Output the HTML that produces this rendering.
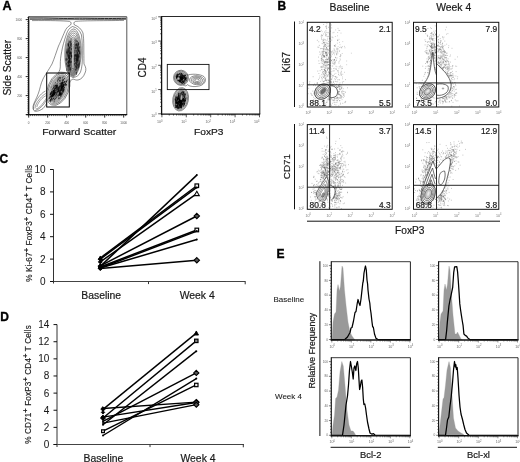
<!DOCTYPE html>
<html><head><meta charset="utf-8"><title>Figure</title>
<style>html,body{margin:0;padding:0;background:#fff;}svg{display:block;filter:grayscale(1);}</style></head>
<body>
<svg width="520" height="462" viewBox="0 0 520 462" font-family="Liberation Sans, sans-serif">
<rect width="520" height="462" fill="#fff"/>
<text x="2.5" y="9.7" font-size="12.6" font-weight="bold" stroke="#000" stroke-width="0.35" text-anchor="start" fill="#000" >A</text>
<text x="277.6" y="9.6" font-size="12" font-weight="bold" stroke="#000" stroke-width="0.35" text-anchor="start" fill="#000" >B</text>
<text x="-0.5" y="163.2" font-size="12" font-weight="bold" stroke="#000" stroke-width="0.35" text-anchor="start" fill="#000" >C</text>
<text x="0.3" y="321.2" font-size="12" font-weight="bold" stroke="#000" stroke-width="0.35" text-anchor="start" fill="#000" >D</text>
<text x="276.6" y="258.2" font-size="12" font-weight="bold" stroke="#000" stroke-width="0.35" text-anchor="start" fill="#000" >E</text>
<path d="M30 18.1 C50 17.8 60 18.7 72 18.4 C85 17.9 100 18.9 126 18.3" fill="none" stroke="#111" stroke-width="0.9" />
<path d="M30 19.5 C45 19.2 60 19.9 73 19.6 C90 19.2 105 19.9 126 19.4" fill="none" stroke="#333" stroke-width="0.7" />
<path d="M32 20.6 C50 20.4 64 20.8 69.5 21.4 C71.5 22.2 71.5 23.5 70.5 25 M74.5 25 C73.5 23.5 73.5 22.2 75.5 21.4 C82 20.6 100 20.8 124 20.4" fill="none" stroke="#222" stroke-width="0.5" />
<path d="M70.5 25 C67 27 66 29 65 31 C62 38 60 43 58.5 46 C56 53 54.5 58 52 64 C48 71 45 75 43 79 C40.5 84 40 89 38.5 93 C36.5 99 33.5 103 33 106.5 C32.8 110 34 111.5 36 111.3 C39 111 41 110 43 108.5 C45 106.5 46 104.5 47 102.5" fill="none" stroke="#222" stroke-width="0.5" />
<path d="M74.5 25 C78 26 81.5 29 83 33 C84 40 83.8 47 83.8 52 C84 57 83.8 60 84 64 C86 67 86.5 70 85 73 C83.5 77 81 79.5 78 80 C76 80.3 74.5 79.5 73 79 C71 80 70 81 69.5 83" fill="none" stroke="#222" stroke-width="0.5" />
<path d="M72.5 26.5 C69 28 67.5 31 66.5 34 C64 41 62.5 47 61.7 51.5 C60.6 57 60.3 61 60.3 64 C60.5 68 60 71 58 73 M72.5 26.5 C77 27.5 80 30.5 81.5 35 C82.5 42 82.3 50 82.3 55 C82.5 62 82 68 80.5 72 C79 75.5 76 77.5 72.5 77.5" fill="none" stroke="#222" stroke-width="0.5" />
<ellipse cx="73" cy="53" rx="8.2" ry="24" transform="rotate(1.5 73 53)" fill="none" stroke="#222" stroke-width="0.5" opacity="1"/>
<ellipse cx="73" cy="53.5" rx="7.3" ry="22.5" transform="rotate(1.5 73 53.5)" fill="none" stroke="#222" stroke-width="0.5" opacity="1"/>
<ellipse cx="73" cy="54" rx="6.4" ry="21" transform="rotate(1.5 73 54)" fill="none" stroke="#222" stroke-width="0.5" opacity="1"/>
<ellipse cx="73" cy="54.5" rx="5.5" ry="19.5" transform="rotate(1.5 73 54.5)" fill="none" stroke="#222" stroke-width="0.5" opacity="1"/>
<ellipse cx="73" cy="55" rx="4.6" ry="18" transform="rotate(1.5 73 55)" fill="none" stroke="#222" stroke-width="0.5" opacity="1"/>
<ellipse cx="73" cy="55.5" rx="3.7" ry="16.3" transform="rotate(1.5 73 55.5)" fill="none" stroke="#222" stroke-width="0.5" opacity="1"/>
<ellipse cx="73" cy="56" rx="2.8" ry="14.5" transform="rotate(1.5 73 56)" fill="none" stroke="#222" stroke-width="0.5" opacity="1"/>
<ellipse cx="73" cy="56.5" rx="1.9" ry="12.5" transform="rotate(1.5 73 56.5)" fill="none" stroke="#222" stroke-width="0.5" opacity="1"/>
<ellipse cx="73" cy="57" rx="1.0" ry="10.5" transform="rotate(1.5 73 57)" fill="none" stroke="#222" stroke-width="0.5" opacity="1"/>
<ellipse cx="73" cy="57" rx="7.2" ry="19" transform="rotate(1.5 73 57)" fill="#555" stroke="#444" stroke-width="0.3" opacity="0.45"/>
<path d="M68.7 60.7l-0.1 1.4M70.6 61.8l-0.1 1.0M70.7 60.7l-0.0 0.5M68.8 57.9l-0.0 0.5M66.5 63.6l-0.0 0.6M68.9 68.8l-0.1 1.9M68.1 53.0l-0.1 2.0M71.5 61.5l-0.0 0.9M69.4 59.7l-0.0 0.9M69.8 52.7l-0.1 1.3M68.6 50.8l-0.1 1.3M69.5 57.8l-0.0 0.7M69.0 48.8l-0.0 0.9M68.0 52.1l-0.0 0.9M70.5 44.6l-0.0 0.8M67.8 52.2l-0.1 1.8M69.4 50.4l-0.1 2.0M70.0 63.0l-0.1 1.6M69.8 65.2l-0.0 0.5M68.6 44.8l-0.1 1.3M70.4 52.0l-0.1 1.5M67.9 50.6l-0.1 1.1M71.5 43.3l-0.1 1.2M69.1 55.2l-0.1 1.5M68.1 43.4l-0.1 1.7M68.5 65.1l-0.1 1.5M70.8 58.4l-0.0 0.7M69.4 58.4l-0.1 1.6M69.7 61.4l-0.1 1.0M69.6 55.2l-0.1 1.1M66.8 52.1l-0.1 1.7M70.2 52.1l-0.1 1.1M66.8 68.9l-0.1 1.9M69.5 60.8l-0.0 0.8M68.9 66.8l-0.1 1.3M69.2 57.3l-0.1 1.1M67.4 65.0l-0.1 1.9M69.0 47.4l-0.1 1.4M69.1 55.3l-0.1 1.8M70.5 41.9l-0.1 1.7M67.7 62.3l-0.0 0.6M69.0 55.4l-0.0 0.5M69.2 61.2l-0.0 0.9M69.2 57.0l-0.0 0.6M70.1 61.8l-0.0 0.4M71.1 48.7l-0.0 0.6M68.8 64.7l-0.1 1.0M70.5 67.6l-0.1 2.0M67.4 59.0l-0.0 0.5M70.0 61.6l-0.0 0.8M69.8 53.2l-0.0 0.4M71.1 53.9l-0.0 0.6M69.0 56.7l-0.1 1.2M72.0 55.1l-0.1 1.5M68.7 65.0l-0.0 0.7M70.0 46.5l-0.1 1.6M68.5 61.8l-0.1 1.7M71.9 55.7l-0.1 1.7M70.8 44.7l-0.0 0.8M67.9 56.1l-0.0 0.4M70.3 58.2l-0.0 0.8M69.0 41.6l-0.1 1.1M72.3 50.7l-0.1 1.9M68.3 61.1l-0.0 0.8M69.2 61.9l-0.1 1.4M71.8 48.4l-0.1 1.2M68.4 45.2l-0.0 0.5M68.4 43.5l-0.1 1.6M69.7 47.2l-0.0 0.7M69.9 49.8l-0.1 1.7M70.8 55.6l-0.1 1.0M71.7 52.7l-0.0 0.7M69.6 60.0l-0.1 1.8M69.6 53.2l-0.1 1.7M71.5 55.6l-0.1 1.0M68.6 55.9l-0.0 0.4M71.4 54.9l-0.1 1.2M70.9 53.4l-0.1 1.8M69.9 52.3l-0.0 0.8M68.6 62.6l-0.1 1.3M68.6 65.8l-0.0 0.6M70.6 52.9l-0.1 1.1M67.2 49.0l-0.1 1.1M71.0 52.1l-0.1 1.2M69.1 56.9l-0.1 1.1M69.2 57.2l-0.1 1.7M69.6 65.6l-0.1 1.6M68.1 54.4l-0.1 1.2M67.1 52.0l-0.0 0.6M68.3 54.7l-0.0 0.8M70.0 46.9l-0.1 1.3M70.2 41.2l-0.1 1.1M68.2 50.3l-0.1 1.2M69.1 48.2l-0.1 1.3M66.2 59.1l-0.1 1.5M71.8 45.7l-0.0 0.8M66.8 50.9l-0.1 1.7M69.5 59.7l-0.1 1.1M70.0 59.6l-0.0 0.5M68.6 44.6l-0.1 1.8M69.9 68.0l-0.1 1.5M70.3 69.2l-0.1 1.9M68.9 73.1l-0.1 1.0M66.2 58.2l-0.1 1.7M69.6 64.7l-0.1 1.2M68.5 61.2l-0.0 0.9M69.2 56.1l-0.1 1.3M69.0 57.3l-0.0 0.9M68.3 49.7l-0.0 0.5M71.8 55.8l-0.1 2.0" stroke="#111" stroke-width="0.8" stroke-linecap="round" fill="none" opacity="0.7"/>
<path d="M77.8 59.9l-0.0 0.5M77.3 49.7l-0.0 0.6M74.4 63.4l-0.0 1.7M76.9 60.1l-0.0 1.9M75.0 50.4l-0.0 0.5M79.0 60.6l-0.0 1.1M79.4 63.2l-0.0 1.4M77.2 53.5l-0.0 1.8M79.3 62.2l-0.0 1.1M75.8 65.2l-0.0 1.9M76.9 59.6l-0.0 1.2M77.0 59.2l-0.0 0.7M77.8 57.6l-0.0 0.9M75.9 69.0l-0.0 0.9M76.2 56.0l-0.0 1.0M78.0 56.7l-0.0 0.4M77.0 45.2l-0.0 0.7M74.1 58.5l-0.0 0.6M77.8 47.8l-0.0 1.2M77.9 48.7l-0.0 1.2M76.1 40.5l-0.0 0.9M78.3 44.6l-0.0 1.4M75.8 60.3l-0.0 0.5M77.3 57.7l-0.0 1.6M76.9 60.4l-0.0 0.5M78.7 43.2l-0.0 1.5M76.7 61.7l-0.0 0.9M76.3 57.1l-0.0 1.1M76.5 72.4l-0.0 2.0M76.0 54.3l-0.0 1.9M76.4 63.3l-0.0 0.4M75.6 62.6l-0.0 1.2M77.4 65.7l-0.0 0.4M76.9 58.8l-0.0 1.0M77.2 56.3l-0.0 0.9M77.0 67.3l-0.0 1.2M77.2 43.6l-0.0 1.5M78.2 50.2l-0.0 0.9M77.7 55.6l-0.0 1.6M76.8 54.7l-0.0 1.7M78.8 48.5l-0.0 1.6M77.3 52.4l-0.0 1.2M74.4 55.5l-0.0 1.7M78.1 45.9l-0.0 1.8M76.3 44.2l-0.0 0.8M77.6 56.7l-0.0 1.0M78.9 65.1l-0.0 1.3M75.7 47.4l-0.0 1.5M77.0 56.0l-0.0 1.7M77.2 45.8l-0.0 1.3M76.8 54.1l-0.0 1.6M77.0 58.4l-0.0 0.8M77.0 50.9l-0.0 1.6M78.8 54.5l-0.0 1.0M74.7 57.6l-0.0 1.6M75.5 47.8l-0.0 0.5M77.6 60.9l-0.0 1.6M76.2 66.5l-0.0 0.4M78.0 58.4l-0.0 1.5M76.4 44.1l-0.0 0.9M75.3 55.0l-0.0 1.1M78.8 66.6l-0.0 0.7M79.9 53.8l-0.0 0.4M74.4 59.7l-0.0 1.9M75.9 58.0l-0.0 0.7M77.9 54.2l-0.0 1.3M78.0 64.2l-0.0 1.9M78.5 66.9l-0.0 1.2M78.9 47.5l-0.0 0.8M78.5 50.1l-0.0 0.4M78.8 56.3l-0.0 1.1M76.7 59.7l-0.0 1.0M75.7 69.6l-0.0 0.4M77.3 41.1l-0.0 0.6M79.2 50.2l-0.0 1.8M76.5 63.8l-0.0 1.0M79.0 55.9l-0.0 1.0M75.9 58.8l-0.0 0.5M78.9 64.9l-0.0 0.9M78.0 53.7l-0.0 0.8M76.1 55.6l-0.0 1.0M79.7 51.8l-0.0 1.7M75.3 44.3l-0.0 1.9M74.8 51.9l-0.0 0.5M77.0 46.7l-0.0 1.6M76.4 50.7l-0.0 0.5M77.6 54.4l-0.0 1.2M76.2 61.7l-0.0 1.6M78.1 55.1l-0.0 1.4M76.2 66.4l-0.0 1.0M77.3 59.8l-0.0 0.7M78.6 50.4l-0.0 0.8M79.7 46.6l-0.0 1.1M77.5 59.8l-0.0 0.5M76.7 58.4l-0.0 0.8M76.7 67.1l-0.0 1.8M77.1 47.2l-0.0 1.1M75.6 54.7l-0.0 0.9M78.0 58.5l-0.0 1.9M78.1 63.2l-0.0 1.4M77.7 51.9l-0.0 0.8M76.9 64.5l-0.0 1.1M79.6 51.8l-0.0 1.8M77.2 56.2l-0.0 1.5M78.5 50.1l-0.0 1.3M78.5 56.0l-0.0 1.9M78.5 42.6l-0.0 2.0M76.9 59.2l-0.0 0.6M74.8 54.2l-0.0 1.9M76.8 43.9l-0.0 1.6" stroke="#111" stroke-width="0.8" stroke-linecap="round" fill="none" opacity="0.7"/>
<path d="M73 38 C72.6 48 72.8 58 73 68" fill="none" stroke="#e8e8e8" stroke-width="0.9" />
<ellipse cx="58.3" cy="88.7" rx="10.5" ry="17.5" transform="rotate(22 58.3 88.7)" fill="none" stroke="#222" stroke-width="0.5" opacity="1"/>
<ellipse cx="58.3" cy="88.7" rx="9.3" ry="16.2" transform="rotate(22 58.3 88.7)" fill="none" stroke="#222" stroke-width="0.5" opacity="1"/>
<ellipse cx="58.3" cy="88.7" rx="8.2" ry="15" transform="rotate(22 58.3 88.7)" fill="#666" stroke="#333" stroke-width="0.4" opacity="0.55"/>
<path d="M51.9 93.2l-0.2 0.4M55.2 90.0l-0.7 1.7M54.4 89.7l-0.2 0.6M51.7 98.1l-0.6 1.4M54.0 93.3l-0.5 1.1M53.7 90.1l-0.3 0.7M54.0 92.3l-0.3 0.8M50.8 93.4l-0.5 1.3M56.3 89.9l-0.3 0.7M51.0 100.2l-0.6 1.4M53.8 92.9l-0.4 1.1M54.9 88.6l-0.3 0.8M55.4 85.6l-0.3 0.7M54.8 93.7l-0.4 1.0M54.5 90.2l-0.6 1.6M55.8 87.7l-0.3 0.7M55.3 92.3l-0.6 1.6M53.1 95.1l-0.6 1.5M50.4 99.5l-0.4 1.1M53.4 95.0l-0.4 1.0M55.4 85.5l-0.2 0.6M52.7 93.8l-0.7 1.8M53.9 93.2l-0.2 0.5M50.3 96.3l-0.7 1.7M56.9 84.6l-0.7 1.8M52.9 94.3l-0.7 1.8M54.2 91.9l-0.5 1.4M52.1 94.7l-0.3 0.9M54.0 92.6l-0.3 0.8M50.0 98.0l-0.2 0.6M55.0 92.3l-0.4 0.9M57.4 86.8l-0.4 1.0M54.9 94.4l-0.4 0.9M55.1 91.7l-0.4 0.9M54.3 92.2l-0.4 1.0M57.2 86.8l-0.2 0.4M54.2 92.8l-0.7 1.7M51.4 98.8l-0.7 1.7M52.5 94.8l-0.7 1.8M54.1 90.3l-0.6 1.4M52.5 95.1l-0.2 0.4M57.1 85.2l-0.5 1.3M54.2 92.4l-0.3 0.7M51.0 92.7l-0.7 1.8M52.6 94.0l-0.4 1.0M51.4 91.8l-0.3 0.6M57.1 86.8l-0.6 1.6M56.4 87.2l-0.3 0.9M52.1 95.6l-0.6 1.5M54.2 93.9l-0.6 1.5M53.6 93.5l-0.2 0.4M53.4 91.0l-0.7 1.8M58.0 88.1l-0.3 0.8M54.1 93.3l-0.4 1.1M55.3 88.2l-0.3 0.7M51.3 94.6l-0.6 1.4M56.8 85.5l-0.5 1.4M53.7 97.9l-0.3 0.8M53.5 90.5l-0.6 1.5M53.2 95.2l-0.3 0.7M53.0 98.9l-0.5 1.2M52.0 95.7l-0.7 1.8M53.2 92.0l-0.6 1.6M55.1 85.5l-0.2 0.5M51.4 92.7l-0.7 1.6M54.3 92.2l-0.3 0.8M53.9 94.3l-0.7 1.8M53.4 87.9l-0.4 0.9M56.3 89.7l-0.3 0.8M57.4 85.2l-0.2 0.5" stroke="#000" stroke-width="0.9" stroke-linecap="round" fill="none" opacity="0.8"/>
<path d="M62.3 82.2l-0.3 0.7M61.4 87.9l-0.3 0.7M59.9 92.8l-0.5 1.3M62.4 86.8l-0.3 0.9M63.1 84.0l-0.3 0.8M60.2 94.3l-0.5 1.2M62.7 87.3l-0.4 1.0M61.4 83.7l-0.2 0.5M61.2 93.0l-0.4 1.0M60.7 90.1l-0.7 1.8M59.5 91.8l-0.4 0.9M58.6 89.8l-0.7 1.8M61.1 88.3l-0.6 1.5M62.4 86.7l-0.7 1.7M58.8 89.3l-0.4 1.0M65.1 83.5l-0.2 0.6M64.1 87.8l-0.5 1.3M63.2 85.8l-0.5 1.3M59.7 90.0l-0.2 0.6M59.9 91.9l-0.7 1.7M62.4 90.5l-0.6 1.6M63.6 86.3l-0.2 0.6M66.4 84.4l-0.4 1.1M63.9 90.4l-0.4 0.9M65.6 83.5l-0.6 1.6M61.1 93.6l-0.3 0.7M58.5 90.3l-0.6 1.6M61.8 89.4l-0.4 1.0M61.3 85.4l-0.2 0.6M59.6 93.8l-0.7 1.7M63.7 88.8l-0.6 1.5M64.2 89.4l-0.2 0.5M62.4 82.4l-0.5 1.3M60.1 90.8l-0.5 1.2M59.4 88.8l-0.4 1.0M62.3 86.6l-0.5 1.3M61.4 86.3l-0.6 1.5M64.8 81.5l-0.3 0.6M61.9 86.6l-0.2 0.6M61.8 87.0l-0.4 1.0M62.3 86.3l-0.5 1.3M63.0 90.9l-0.6 1.5M62.2 86.3l-0.5 1.1M58.0 91.9l-0.2 0.6M67.2 80.0l-0.6 1.5M63.8 84.1l-0.7 1.8M59.5 85.8l-0.7 1.7M61.0 93.7l-0.7 1.8M63.0 88.7l-0.6 1.5M61.0 94.3l-0.3 0.8M63.6 84.6l-0.5 1.1M63.8 85.4l-0.3 0.8M61.3 85.9l-0.2 0.4M61.9 88.8l-0.7 1.8M64.5 78.3l-0.3 0.6M63.3 84.8l-0.5 1.2M62.9 82.9l-0.7 1.7M61.5 83.7l-0.7 1.7M62.5 93.0l-0.5 1.3M58.6 90.6l-0.3 0.8M64.5 86.9l-0.4 0.9M64.7 81.6l-0.3 0.6M62.9 85.5l-0.6 1.6M59.8 93.1l-0.7 1.8M62.1 82.3l-0.3 0.8M62.7 86.6l-0.2 0.6M62.7 82.7l-0.5 1.1M63.5 85.5l-0.3 0.7M62.6 86.0l-0.2 0.4M61.6 87.7l-0.4 0.9M60.3 92.7l-0.5 1.2M60.6 93.0l-0.4 1.1M61.6 93.8l-0.3 0.7M62.3 87.9l-0.5 1.3M66.4 81.6l-0.4 1.0M62.4 86.8l-0.5 1.3M61.9 84.4l-0.5 1.3M58.7 88.5l-0.6 1.5M59.1 95.1l-0.2 0.4M61.4 85.0l-0.3 0.7M63.6 90.2l-0.2 0.4M61.0 82.7l-0.2 0.6M60.7 92.8l-0.5 1.1M63.4 79.7l-0.3 0.6M60.7 89.8l-0.2 0.4" stroke="#000" stroke-width="0.9" stroke-linecap="round" fill="none" opacity="0.8"/>
<path d="M65.1 83.8l-0.5 1.2M63.8 91.4l-0.5 1.2M52.4 88.8l-0.4 0.9M57.6 90.8l-0.3 0.6M60.4 91.0l-0.5 1.2M60.5 77.6l-0.5 1.2M54.8 96.3l-0.3 0.9M62.1 81.8l-0.3 0.7M58.2 77.6l-0.2 0.6M58.6 88.5l-0.3 0.7M54.8 98.7l-0.6 1.4M60.3 83.6l-0.5 1.4M55.9 91.8l-0.6 1.4M57.8 80.5l-0.4 1.1M62.2 89.2l-0.5 1.3M60.7 77.5l-0.3 0.9M60.8 80.5l-0.3 0.7M56.0 97.4l-0.2 0.5M60.0 87.8l-0.2 0.4M60.1 98.0l-0.3 0.8M58.3 89.4l-0.2 0.4M60.0 79.9l-0.5 1.1M58.8 87.3l-0.4 1.0M51.4 95.3l-0.5 1.3M59.2 88.0l-0.5 1.3M66.1 84.7l-0.2 0.5M57.8 90.9l-0.2 0.4M65.0 81.3l-0.4 1.1M63.5 81.8l-0.3 0.7M58.7 90.2l-0.5 1.2M57.1 93.8l-0.3 0.8M60.2 90.1l-0.3 0.7M59.9 83.0l-0.3 0.7M62.6 88.6l-0.5 1.3M58.2 88.1l-0.3 0.8M51.8 90.7l-0.3 0.8M60.1 80.9l-0.2 0.6M59.5 87.6l-0.5 1.3M58.3 88.8l-0.2 0.6M63.7 76.6l-0.2 0.4M54.5 87.6l-0.5 1.3M57.1 95.8l-0.3 0.8M60.9 85.4l-0.6 1.4M56.5 92.1l-0.5 1.1M57.2 88.3l-0.4 1.1M61.0 95.6l-0.5 1.1M62.7 80.7l-0.3 0.8M54.4 91.1l-0.6 1.4M61.0 96.6l-0.2 0.4M57.2 93.1l-0.6 1.4M55.3 87.4l-0.5 1.4M56.0 95.5l-0.4 1.0M62.5 78.8l-0.4 1.1M55.1 92.2l-0.2 0.5M63.9 82.2l-0.5 1.2M57.6 95.0l-0.5 1.2M57.7 87.1l-0.4 0.9M60.9 86.7l-0.2 0.6M53.1 97.0l-0.5 1.3M58.2 91.4l-0.3 0.6M53.8 94.6l-0.2 0.5M56.3 91.3l-0.6 1.5M59.0 86.6l-0.6 1.4M59.3 93.2l-0.6 1.5M63.5 79.9l-0.3 0.9M56.5 97.5l-0.2 0.5M56.8 94.7l-0.2 0.4M51.5 93.1l-0.5 1.1M53.8 86.9l-0.4 0.9M58.4 96.3l-0.3 0.8M62.6 77.0l-0.3 0.8M55.5 82.4l-0.3 0.8M55.1 98.5l-0.5 1.4M62.8 79.7l-0.5 1.3M59.6 80.0l-0.4 0.9M53.4 96.0l-0.2 0.5M51.6 91.8l-0.5 1.2M58.0 85.1l-0.3 0.8M53.1 89.4l-0.3 0.8M59.8 77.0l-0.2 0.6M58.7 79.0l-0.3 0.8M51.6 86.9l-0.2 0.4M57.2 87.3l-0.5 1.2M63.0 87.4l-0.2 0.5M56.2 83.8l-0.5 1.2M54.0 86.2l-0.5 1.3M55.5 86.6l-0.6 1.4M55.9 98.1l-0.3 0.8M59.3 86.4l-0.6 1.5M57.5 89.5l-0.3 0.7M58.0 88.9l-0.3 0.8M52.2 91.5l-0.3 0.8M56.6 92.4l-0.5 1.2M63.0 87.4l-0.2 0.6M61.5 83.5l-0.2 0.6M58.9 97.6l-0.5 1.3M58.0 82.6l-0.4 1.0M54.4 101.1l-0.3 0.8M58.0 79.1l-0.5 1.3M55.5 88.7l-0.4 1.0M59.2 98.0l-0.3 0.8M61.1 85.7l-0.3 0.8M55.7 95.0l-0.2 0.6M63.2 90.9l-0.3 0.7M56.4 93.5l-0.4 0.9M52.7 90.8l-0.4 1.1M50.7 96.1l-0.5 1.3M62.0 94.6l-0.6 1.4M59.6 86.3l-0.5 1.3M58.3 88.3l-0.2 0.4M63.8 87.8l-0.3 0.6M58.8 90.7l-0.3 0.6M60.9 83.6l-0.2 0.5M65.1 84.6l-0.2 0.6M63.8 84.8l-0.5 1.2M59.4 77.6l-0.5 1.2M60.4 86.2l-0.5 1.1M54.0 84.8l-0.3 0.9M63.4 84.7l-0.3 0.7M57.4 91.3l-0.4 0.9" stroke="#111" stroke-width="0.7" stroke-linecap="round" fill="none" opacity="0.7"/>
<path d="M33.5 109.5 C33 106 35 102 38 98 C40 95 42.5 92.5 45.5 91 M34.5 110.5 C37 110.5 40.5 108 43.5 104.5 C45 102.5 46 101 46.7 99.5" fill="none" stroke="#333" stroke-width="0.5" />
<path d="M35 108.5 C35 105.5 37 102 40 98.5 C42 96 44 94.5 46 93.5 M36 109 C38.5 108.5 41 106 43.5 102.5 C45 100.5 46 99 46.7 97.5" fill="none" stroke="#444" stroke-width="0.5" />
<path d="M36.8 107 C37.5 104 39.5 101 42 98.5 C43.5 97 45 96 46.5 95.6" fill="none" stroke="#444" stroke-width="0.5" />
<rect x="46.7" y="73" width="22.599999999999994" height="34" fill="none" stroke="#000" stroke-width="1.0"/>
<line x1="28.7" y1="16.8" x2="126.8" y2="16.8" stroke="#222" stroke-width="0.9"/>
<line x1="126.8" y1="16.8" x2="126.8" y2="114.6" stroke="#444" stroke-width="0.9"/>
<line x1="28.7" y1="16.400000000000002" x2="28.7" y2="115.19999999999999" stroke="#111" stroke-width="1.3"/>
<line x1="26.3" y1="114.6" x2="127.2" y2="114.6" stroke="#111" stroke-width="1.3"/>
<path d="M30.60 114.6v1.5M28.7 112.70h-1.5M32.50 114.6v1.5M28.7 110.80h-1.5M34.40 114.6v1.5M28.7 108.90h-1.5M36.30 114.6v1.5M28.7 107.00h-1.5M38.20 114.6v1.5M28.7 105.10h-1.5M40.10 114.6v1.5M28.7 103.20h-1.5M42.00 114.6v1.5M28.7 101.30h-1.5M43.90 114.6v1.5M28.7 99.40h-1.5M45.80 114.6v1.5M28.7 97.50h-1.5M49.60 114.6v1.5M28.7 93.70h-1.5M51.50 114.6v1.5M28.7 91.80h-1.5M53.40 114.6v1.5M28.7 89.90h-1.5M55.30 114.6v1.5M28.7 88.00h-1.5M57.20 114.6v1.5M28.7 86.10h-1.5M59.10 114.6v1.5M28.7 84.20h-1.5M61.00 114.6v1.5M28.7 82.30h-1.5M62.90 114.6v1.5M28.7 80.40h-1.5M64.80 114.6v1.5M28.7 78.50h-1.5M68.60 114.6v1.5M28.7 74.70h-1.5M70.50 114.6v1.5M28.7 72.80h-1.5M72.40 114.6v1.5M28.7 70.90h-1.5M74.30 114.6v1.5M28.7 69.00h-1.5M76.20 114.6v1.5M28.7 67.10h-1.5M78.10 114.6v1.5M28.7 65.20h-1.5M80.00 114.6v1.5M28.7 63.30h-1.5M81.90 114.6v1.5M28.7 61.40h-1.5M83.80 114.6v1.5M28.7 59.50h-1.5M87.60 114.6v1.5M28.7 55.70h-1.5M89.50 114.6v1.5M28.7 53.80h-1.5M91.40 114.6v1.5M28.7 51.90h-1.5M93.30 114.6v1.5M28.7 50.00h-1.5M95.20 114.6v1.5M28.7 48.10h-1.5M97.10 114.6v1.5M28.7 46.20h-1.5M99.00 114.6v1.5M28.7 44.30h-1.5M100.90 114.6v1.5M28.7 42.40h-1.5M102.80 114.6v1.5M28.7 40.50h-1.5M106.60 114.6v1.5M28.7 36.70h-1.5M108.50 114.6v1.5M28.7 34.80h-1.5M110.40 114.6v1.5M28.7 32.90h-1.5M112.30 114.6v1.5M28.7 31.00h-1.5M114.20 114.6v1.5M28.7 29.10h-1.5M116.10 114.6v1.5M28.7 27.20h-1.5M118.00 114.6v1.5M28.7 25.30h-1.5M119.90 114.6v1.5M28.7 23.40h-1.5M121.80 114.6v1.5M28.7 21.50h-1.5M125.60 114.6v1.5M28.7 17.70h-1.5" fill="none" stroke="#111" stroke-width="0.6" />
<path d="M28.70 114.6v3.0M28.7 114.60h-3.0M47.70 114.6v3.0M28.7 95.60h-3.0M66.70 114.6v3.0M28.7 76.60h-3.0M85.70 114.6v3.0M28.7 57.60h-3.0M104.70 114.6v3.0M28.7 38.60h-3.0M123.70 114.6v3.0M28.7 19.60h-3.0" fill="none" stroke="#111" stroke-width="0.9" />
<text x="28.7" y="123.6" font-size="3.0" text-anchor="middle" fill="#555" >0</text>
<text x="47.7" y="123.6" font-size="3.0" text-anchor="middle" fill="#555" >200</text>
<text x="22.2" y="96.7" font-size="3.0" text-anchor="end" fill="#555" >200</text>
<text x="66.7" y="123.6" font-size="3.0" text-anchor="middle" fill="#555" >400</text>
<text x="22.2" y="77.7" font-size="3.0" text-anchor="end" fill="#555" >400</text>
<text x="85.7" y="123.6" font-size="3.0" text-anchor="middle" fill="#555" >600</text>
<text x="22.2" y="58.7" font-size="3.0" text-anchor="end" fill="#555" >600</text>
<text x="104.7" y="123.6" font-size="3.0" text-anchor="middle" fill="#555" >800</text>
<text x="22.2" y="39.7" font-size="3.0" text-anchor="end" fill="#555" >800</text>
<text x="123.7" y="123.6" font-size="3.0" text-anchor="middle" fill="#555" >1000</text>
<text x="22.2" y="20.7" font-size="3.0" text-anchor="end" fill="#555" >1000</text>
<text x="0" y="0" font-size="10.2" stroke="#1a1a1a" stroke-width="0.2" text-anchor="middle" fill="#1a1a1a" transform="translate(10.9 67.7) scale(1.12 1) rotate(-90)" >Side Scatter</text>
<text x="0" y="0" font-size="9.4" stroke="#1a1a1a" stroke-width="0.2" text-anchor="middle" fill="#1a1a1a" transform="translate(79.2 135.3) scale(1.11 1) rotate(0)" >Forward Scatter</text>
<ellipse cx="181" cy="77.8" rx="7.4" ry="7.6" transform="rotate(-20 181 77.8)" fill="none" stroke="#222" stroke-width="0.5" opacity="1"/>
<ellipse cx="181" cy="77.8" rx="6.5" ry="6.7" transform="rotate(-20 181 77.8)" fill="none" stroke="#222" stroke-width="0.5" opacity="1"/>
<ellipse cx="181" cy="77.8" rx="5.7" ry="5.9" transform="rotate(-20 181 77.8)" fill="#555" stroke="#333" stroke-width="0.4" opacity="0.6"/>
<path d="M183.7 77.9l0.2 0.6M178.4 78.9l0.4 1.1M181.0 77.7l0.5 1.5M178.3 79.5l0.5 1.3M181.5 75.6l0.3 0.9M181.5 77.5l0.4 1.2M180.8 77.7l0.4 1.2M177.6 74.2l0.3 0.8M183.6 76.5l0.4 1.0M181.2 77.6l0.5 1.3M179.1 76.9l0.5 1.5M180.0 80.4l0.4 1.1M180.7 76.4l0.3 0.9M179.0 80.1l0.5 1.5M181.4 82.3l0.3 0.9M179.4 78.3l0.4 1.0M184.1 76.1l0.5 1.4M180.7 79.8l0.3 0.8M177.6 77.1l0.5 1.4M184.9 77.5l0.6 1.5M180.6 77.8l0.3 0.8M182.2 77.4l0.6 1.6M177.6 76.5l0.5 1.4M183.0 75.1l0.4 1.2M177.6 76.1l0.4 1.2M180.0 76.8l0.5 1.3M177.7 80.2l0.2 0.5M181.2 78.0l0.5 1.4M183.2 75.0l0.3 0.9M181.4 73.5l0.4 1.1M181.6 79.6l0.3 0.9M180.8 80.4l0.4 1.2M181.3 77.5l0.4 1.1M181.8 77.7l0.5 1.4M176.3 77.1l0.4 1.0M183.2 77.2l0.4 1.2M184.7 74.3l0.4 1.0M180.5 78.4l0.4 1.2M181.6 78.7l0.1 0.4M184.5 76.6l0.2 0.5M181.5 77.5l0.6 1.5M181.2 77.9l0.5 1.3M182.6 81.6l0.2 0.6M185.1 77.7l0.5 1.3M182.2 74.0l0.2 0.5M177.5 76.0l0.4 1.0M182.1 76.7l0.6 1.6M180.9 77.7l0.1 0.4M177.4 75.3l0.2 0.5M180.9 81.8l0.2 0.6M181.9 75.1l0.2 0.5M179.8 80.8l0.3 1.0M180.3 77.1l0.5 1.4M179.8 81.2l0.4 1.2M179.5 79.6l0.5 1.4M184.2 75.1l0.4 1.1M181.0 78.3l0.6 1.7M178.3 74.2l0.3 0.8M176.2 76.1l0.5 1.5M179.2 77.2l0.3 0.9M182.1 75.8l0.5 1.3M176.5 76.4l0.5 1.4M181.0 77.8l0.3 0.7M178.8 80.3l0.5 1.4M181.2 77.5l0.5 1.5M181.1 73.1l0.4 1.1M181.9 82.3l0.5 1.4M177.7 74.2l0.3 0.8M184.1 78.4l0.5 1.4M183.5 81.1l0.6 1.6M182.5 80.9l0.5 1.3M179.9 78.5l0.3 0.7M179.5 73.7l0.4 1.0M185.2 78.7l0.5 1.4M182.5 80.8l0.6 1.6M182.4 75.2l0.4 1.0M179.8 77.5l0.2 0.6M183.7 80.6l0.3 0.9M178.6 77.6l0.4 1.1M181.3 78.0l0.6 1.7M180.7 78.5l0.4 1.2M180.9 76.7l0.4 1.2M180.3 80.7l0.1 0.4M186.0 77.1l0.6 1.5M178.1 79.1l0.3 0.7M180.6 75.3l0.6 1.6M179.9 73.5l0.6 1.6M181.1 78.1l0.2 0.6M181.4 78.3l0.2 0.4M176.4 77.7l0.4 1.0M184.6 74.8l0.2 0.5M178.7 77.1l0.2 0.5M182.3 76.9l0.4 1.1M176.7 75.2l0.5 1.3M179.7 80.1l0.2 0.6M185.3 75.1l0.2 0.7M182.6 77.6l0.3 0.8M183.6 73.9l0.5 1.5M185.2 77.6l0.5 1.3M176.7 74.9l0.2 0.4M184.4 80.1l0.6 1.6M179.7 76.5l0.4 1.2M180.8 77.1l0.3 0.8M181.3 78.7l0.4 1.0M182.2 78.8l0.2 0.6M180.9 77.7l0.5 1.3M181.2 78.0l0.6 1.6M183.5 82.1l0.6 1.5M181.5 76.9l0.4 1.0M185.7 79.1l0.5 1.5" stroke="#000" stroke-width="0.9" stroke-linecap="round" fill="none" opacity="0.8"/>
<ellipse cx="178.5" cy="78.5" rx="1.0" ry="1.3" transform="rotate(0 178.5 78.5)" fill="#ddd" stroke="#ccc" stroke-width="0.3" opacity="0.8"/>
<ellipse cx="184" cy="74.2" rx="1.2" ry="0.9" transform="rotate(0 184 74.2)" fill="#ccc" stroke="#bbb" stroke-width="0.3" opacity="0.6"/>
<path d="M187 75.3 C191 73.6 200 73.8 204 76.6 C206.8 79.5 205.5 84 200 85.8 C195 87.2 190 86.8 187.5 84.8" fill="none" stroke="#222" stroke-width="0.5" />
<ellipse cx="196.9" cy="80.2" rx="7.4" ry="4.5" transform="rotate(4 196.9 80.2)" fill="none" stroke="#222" stroke-width="0.5" opacity="1"/>
<ellipse cx="196.9" cy="80.2" rx="5.7" ry="3.4" transform="rotate(4 196.9 80.2)" fill="none" stroke="#222" stroke-width="0.5" opacity="1"/>
<ellipse cx="196.9" cy="80.2" rx="4.0" ry="2.4" transform="rotate(4 196.9 80.2)" fill="none" stroke="#222" stroke-width="0.5" opacity="1"/>
<ellipse cx="196.9" cy="80.2" rx="2.3" ry="1.3" transform="rotate(4 196.9 80.2)" fill="none" stroke="#222" stroke-width="0.5" opacity="1"/>
<ellipse cx="180.6" cy="99.3" rx="7.8" ry="11.8" transform="rotate(10 180.6 99.3)" fill="none" stroke="#222" stroke-width="0.5" opacity="1"/>
<ellipse cx="180.6" cy="99.3" rx="6.9" ry="10.8" transform="rotate(10 180.6 99.3)" fill="none" stroke="#222" stroke-width="0.5" opacity="1"/>
<ellipse cx="180.6" cy="99.3" rx="6.0" ry="9.8" transform="rotate(10 180.6 99.3)" fill="#555" stroke="#333" stroke-width="0.4" opacity="0.6"/>
<path d="M179.3 95.6l-0.2 0.9M182.6 95.2l-0.2 1.4M181.2 101.4l-0.1 0.5M180.8 93.8l-0.1 0.6M182.2 97.4l-0.2 1.0M181.2 102.0l-0.3 1.7M179.7 100.9l-0.2 1.2M177.2 106.5l-0.1 0.6M181.1 99.3l-0.3 1.8M180.3 97.1l-0.2 1.1M179.7 102.0l-0.1 0.7M175.9 105.4l-0.3 2.0M181.4 98.8l-0.1 0.8M181.1 98.9l-0.3 1.5M177.7 107.6l-0.1 0.4M182.0 96.0l-0.1 0.6M185.2 100.2l-0.2 1.2M180.9 103.6l-0.3 1.8M180.3 104.9l-0.1 0.6M181.3 106.2l-0.3 1.5M180.6 100.3l-0.1 0.5M178.8 95.7l-0.1 0.8M180.6 105.2l-0.3 1.5M182.8 94.2l-0.1 0.7M183.9 102.8l-0.2 1.0M180.7 98.5l-0.3 1.7M177.0 105.6l-0.3 1.8M180.4 99.3l-0.3 1.8M175.6 99.6l-0.1 0.8M181.2 106.7l-0.2 1.0M181.2 102.9l-0.2 1.3M183.7 100.0l-0.2 1.1M179.7 99.0l-0.3 1.5M183.8 92.3l-0.2 0.9M180.7 95.3l-0.3 1.6M184.5 103.1l-0.3 1.9M177.5 98.9l-0.2 1.2M180.4 99.2l-0.3 1.9M180.4 101.4l-0.1 0.6M179.2 106.9l-0.1 0.4M183.2 103.7l-0.1 0.7M184.0 100.6l-0.2 1.3M176.8 97.6l-0.1 0.6M184.3 94.8l-0.1 0.5M182.1 103.1l-0.2 1.2M180.2 100.8l-0.2 1.0M182.1 104.1l-0.3 1.8M181.8 104.2l-0.3 1.6M181.8 106.3l-0.3 1.9M178.1 101.7l-0.3 1.7M178.3 98.2l-0.3 1.9M181.6 95.8l-0.1 0.8M178.6 102.9l-0.3 1.9M183.7 91.7l-0.3 1.7M181.0 98.7l-0.2 1.2M185.9 97.9l-0.1 0.8M176.9 101.6l-0.2 1.0M180.1 99.0l-0.2 1.1M180.4 99.3l-0.1 0.6M185.1 98.7l-0.3 1.9M178.6 93.1l-0.3 1.8M180.9 99.0l-0.2 1.4M179.1 105.7l-0.1 0.8M176.1 96.2l-0.2 1.4M179.7 104.5l-0.2 1.1M182.6 98.7l-0.2 0.9M180.3 98.0l-0.2 1.3M183.8 98.4l-0.1 0.8M177.3 99.9l-0.1 0.6M181.1 100.6l-0.2 0.9M178.7 100.8l-0.1 0.8M182.9 102.6l-0.3 1.7M178.6 95.3l-0.3 1.4M180.7 106.0l-0.2 1.1M177.5 96.9l-0.2 1.1M179.6 101.7l-0.1 0.7M178.3 98.6l-0.2 1.3M182.8 100.0l-0.3 1.8M179.9 104.8l-0.2 1.2M177.9 107.8l-0.2 0.9M181.1 97.5l-0.1 0.5M183.0 96.4l-0.1 0.5M178.0 101.9l-0.3 1.6M181.5 101.1l-0.3 1.9M180.8 97.4l-0.2 0.9M177.4 104.1l-0.2 1.4M184.4 93.6l-0.2 1.2M181.5 92.2l-0.3 1.6M176.0 99.7l-0.3 1.5M181.5 98.6l-0.3 1.8M184.9 100.3l-0.2 1.3M175.3 98.5l-0.2 1.3M176.1 102.3l-0.3 1.8M179.2 96.5l-0.2 1.1M176.3 100.4l-0.2 0.9M177.4 102.3l-0.2 1.0M177.5 105.6l-0.3 1.7M177.9 98.8l-0.1 0.7M180.0 100.9l-0.2 1.3M180.1 98.6l-0.3 1.8M177.3 105.9l-0.3 1.7M182.1 98.9l-0.2 1.1M180.7 99.2l-0.1 0.5M178.2 96.8l-0.3 1.8M182.0 94.1l-0.3 2.0M177.6 98.2l-0.3 1.5M178.4 101.4l-0.2 1.3M176.3 105.7l-0.3 1.5M179.9 99.0l-0.2 1.0M177.3 102.1l-0.2 1.3M185.5 94.0l-0.2 1.2M176.8 100.9l-0.3 2.0M178.1 103.4l-0.3 1.7M181.0 102.5l-0.3 1.9M182.8 95.0l-0.1 0.6M184.4 95.8l-0.3 1.7M185.6 99.7l-0.2 1.1M181.2 102.1l-0.2 1.2M179.3 99.0l-0.1 0.7M178.9 94.6l-0.2 1.0M184.3 99.7l-0.1 0.5M176.2 102.5l-0.2 0.9M180.6 99.2l-0.2 0.9M183.3 94.8l-0.3 1.4M180.8 104.2l-0.2 1.3M179.1 105.5l-0.2 1.2M184.0 99.8l-0.2 1.0M181.2 100.7l-0.3 1.6M181.1 100.2l-0.1 0.7M176.2 97.4l-0.2 1.4M180.9 98.5l-0.1 0.4M181.5 95.9l-0.3 1.5M179.6 100.8l-0.1 0.8M183.8 104.9l-0.2 1.3M178.3 102.8l-0.2 1.0M184.7 102.9l-0.2 1.3M183.4 98.6l-0.2 1.4M180.5 99.9l-0.3 1.9M182.3 96.8l-0.3 1.8M181.9 96.4l-0.2 1.3M183.7 98.6l-0.3 1.9M180.0 103.4l-0.3 1.5M180.4 102.6l-0.3 1.8M176.0 99.2l-0.1 0.8M181.1 102.8l-0.1 0.7M182.6 99.1l-0.2 1.3M182.4 103.2l-0.2 1.0M180.1 99.7l-0.1 0.6M182.2 96.2l-0.1 0.8M180.8 102.3l-0.1 0.8M184.1 101.4l-0.2 0.9M181.9 105.3l-0.1 0.5M178.7 106.9l-0.1 0.6M175.8 101.2l-0.3 1.7M181.3 102.7l-0.3 1.5M175.8 104.7l-0.1 0.7M183.8 98.3l-0.1 0.8M179.6 99.6l-0.3 1.5M178.8 107.5l-0.2 1.3M179.1 101.1l-0.2 1.4M180.3 107.3l-0.1 0.6M177.5 98.3l-0.1 0.8M181.6 95.4l-0.3 1.4M179.0 97.6l-0.2 1.0M181.5 100.6l-0.3 1.7M177.9 104.8l-0.1 0.6M178.7 97.5l-0.2 1.2M180.3 100.1l-0.2 0.9M180.5 100.9l-0.3 1.5M179.4 103.3l-0.3 1.8M182.8 91.4l-0.3 1.8M181.4 101.8l-0.1 0.4M180.0 93.2l-0.2 0.9M176.8 102.0l-0.3 1.5M179.3 107.2l-0.2 0.9M180.0 97.6l-0.1 0.6M184.8 96.3l-0.3 1.5M180.9 99.5l-0.1 0.6M180.7 102.5l-0.2 1.0M182.4 100.5l-0.2 1.4" stroke="#000" stroke-width="0.9" stroke-linecap="round" fill="none" opacity="0.8"/>
<ellipse cx="181.5" cy="97.5" rx="0.9" ry="2.6" transform="rotate(10 181.5 97.5)" fill="#ddd" stroke="#ccc" stroke-width="0.3" opacity="0.8"/>
<path d="M183 84.5 C184.5 86 186 86.5 187.5 84.5" fill="none" stroke="#222" stroke-width="0.5" />
<rect x="167.3" y="64.4" width="41.69999999999999" height="25.19999999999999" fill="none" stroke="#111" stroke-width="0.9"/>
<line x1="161.6" y1="16.5" x2="259.8" y2="16.5" stroke="#111" stroke-width="0.9"/>
<line x1="259.8" y1="16.5" x2="259.8" y2="114.1" stroke="#222" stroke-width="1.0"/>
<line x1="161.6" y1="16.1" x2="161.6" y2="114.69999999999999" stroke="#111" stroke-width="1.3"/>
<line x1="161.0" y1="114.1" x2="260.2" y2="114.1" stroke="#111" stroke-width="1.3"/>
<path d="M161.90 114.1v3.2M169.25 114.1v1.4M173.54 114.1v1.4M176.59 114.1v1.4M178.95 114.1v1.4M180.89 114.1v1.4M182.52 114.1v1.4M183.94 114.1v1.4M185.18 114.1v1.4M186.30 114.1v3.2M193.65 114.1v1.4M197.94 114.1v1.4M200.99 114.1v1.4M203.35 114.1v1.4M205.29 114.1v1.4M206.92 114.1v1.4M208.34 114.1v1.4M209.58 114.1v1.4M210.70 114.1v3.2M218.05 114.1v1.4M222.34 114.1v1.4M225.39 114.1v1.4M227.75 114.1v1.4M229.69 114.1v1.4M231.32 114.1v1.4M232.74 114.1v1.4M233.98 114.1v1.4M235.10 114.1v3.2M242.45 114.1v1.4M246.74 114.1v1.4M249.79 114.1v1.4M252.15 114.1v1.4M254.09 114.1v1.4M255.72 114.1v1.4M257.14 114.1v1.4M258.38 114.1v1.4M259.50 114.1v3.2" fill="none" stroke="#111" stroke-width="0.7" />
<path d="M161.6 113.80h-3.4M161.6 106.50h-1.4M161.6 102.23h-1.4M161.6 99.20h-1.4M161.6 96.85h-1.4M161.6 94.93h-1.4M161.6 93.31h-1.4M161.6 91.90h-1.4M161.6 90.66h-1.4M161.6 89.55h-3.4M161.6 82.25h-1.4M161.6 77.98h-1.4M161.6 74.95h-1.4M161.6 72.60h-1.4M161.6 70.68h-1.4M161.6 69.06h-1.4M161.6 67.65h-1.4M161.6 66.41h-1.4M161.6 65.30h-3.4M161.6 58.00h-1.4M161.6 53.73h-1.4M161.6 50.70h-1.4M161.6 48.35h-1.4M161.6 46.43h-1.4M161.6 44.81h-1.4M161.6 43.40h-1.4M161.6 42.16h-1.4M161.6 41.05h-3.4M161.6 33.75h-1.4M161.6 29.48h-1.4M161.6 26.45h-1.4M161.6 24.10h-1.4M161.6 22.18h-1.4M161.6 20.56h-1.4M161.6 19.15h-1.4M161.6 17.91h-1.4M161.6 16.80h-3.4" fill="none" stroke="#111" stroke-width="0.7" />
<text x="156.9" y="123.2" font-size="3.6" fill="#666">10<tspan dy="-1.4" font-size="2.6">0</tspan></text>
<text x="181.2" y="123.2" font-size="3.6" fill="#666">10<tspan dy="-1.4" font-size="2.6">1</tspan></text>
<text x="205.5" y="123.2" font-size="3.6" fill="#666">10<tspan dy="-1.4" font-size="2.6">2</tspan></text>
<text x="229.8" y="123.2" font-size="3.6" fill="#666">10<tspan dy="-1.4" font-size="2.6">3</tspan></text>
<text x="254.1" y="123.2" font-size="3.6" fill="#666">10<tspan dy="-1.4" font-size="2.6">4</tspan></text>
<text x="151.2" y="116.8" font-size="3.6" fill="#666">10<tspan dy="-1.4" font-size="2.6">0</tspan></text>
<text x="151.2" y="92.6" font-size="3.6" fill="#666">10<tspan dy="-1.4" font-size="2.6">1</tspan></text>
<text x="151.2" y="68.5" font-size="3.6" fill="#666">10<tspan dy="-1.4" font-size="2.6">2</tspan></text>
<text x="151.2" y="44.4" font-size="3.6" fill="#666">10<tspan dy="-1.4" font-size="2.6">3</tspan></text>
<text x="151.2" y="20.2" font-size="3.6" fill="#666">10<tspan dy="-1.4" font-size="2.6">4</tspan></text>
<text x="0" y="0" font-size="10.0" stroke="#1a1a1a" stroke-width="0.2" text-anchor="middle" fill="#1a1a1a" transform="translate(146.0 67.5) scale(1.1 1) rotate(-90)" >CD4</text>
<text x="0" y="0" font-size="9.3" stroke="#1a1a1a" stroke-width="0.2" text-anchor="middle" fill="#1a1a1a" transform="translate(208.8 135.3) scale(1.095 1) rotate(0)" >FoxP3</text>
<text x="329.6" y="10.6" font-size="10.4" stroke="#1a1a1a" stroke-width="0.2" text-anchor="start" fill="#1a1a1a" >Baseline</text>
<text x="436.2" y="10.6" font-size="10.4" stroke="#1a1a1a" stroke-width="0.2" text-anchor="start" fill="#1a1a1a" >Week 4</text>
<path d="M328.0 89.4h.01M321.2 48.5h.01M325.4 78.2h.01M324.4 45.6h.01M331.2 60.2h.01M325.9 46.2h.01M331.2 68.9h.01M324.8 56.7h.01M325.6 68.2h.01M326.0 48.7h.01M329.8 45.5h.01M329.5 73.5h.01M321.6 77.5h.01M326.7 47.8h.01M331.6 82.0h.01M319.4 78.0h.01M323.7 34.0h.01M327.5 39.0h.01M324.5 61.7h.01M324.5 43.0h.01M318.6 57.1h.01M329.0 80.7h.01M330.0 67.2h.01M326.3 47.6h.01M317.9 47.1h.01M323.1 43.8h.01M325.5 65.9h.01M323.6 73.6h.01M326.3 74.0h.01M328.6 80.2h.01M324.4 49.0h.01M325.7 80.4h.01M318.9 73.5h.01M324.0 71.5h.01M326.7 53.8h.01M323.0 54.1h.01M327.0 40.4h.01M325.6 49.7h.01M323.5 40.1h.01M320.5 67.0h.01M326.2 52.7h.01M324.8 75.6h.01M325.8 65.8h.01M325.1 71.1h.01M324.5 42.3h.01M327.5 69.8h.01M322.7 63.2h.01M326.1 65.7h.01M334.8 63.6h.01M325.5 52.9h.01M324.2 56.8h.01M322.3 61.3h.01M326.9 79.8h.01M332.2 62.0h.01M322.9 41.2h.01M329.5 50.2h.01M325.5 72.8h.01M326.0 63.1h.01M326.4 27.9h.01M324.9 70.4h.01M321.7 34.9h.01M327.1 55.4h.01M326.7 28.7h.01M325.4 44.9h.01M327.7 89.1h.01M324.3 74.7h.01M322.8 54.8h.01M326.6 49.0h.01M329.3 65.6h.01M321.7 37.3h.01M323.7 24.5h.01M328.8 53.3h.01M323.7 60.0h.01M324.3 81.3h.01M329.5 72.5h.01M327.2 75.8h.01M326.8 58.6h.01M328.6 64.5h.01M327.2 85.4h.01M331.3 60.6h.01M328.7 36.4h.01M323.3 66.3h.01M323.6 42.6h.01M323.1 67.3h.01M321.4 69.5h.01M328.5 27.3h.01M326.8 72.2h.01M321.9 67.7h.01M324.4 69.1h.01M327.8 67.7h.01M317.8 71.1h.01M330.5 41.5h.01M333.1 53.0h.01M321.5 38.8h.01M329.7 69.4h.01M323.6 51.0h.01M318.8 41.8h.01M321.2 63.0h.01M324.7 74.9h.01M326.0 57.3h.01M327.2 83.7h.01M324.3 62.3h.01M324.0 46.1h.01M322.8 51.4h.01M321.7 55.9h.01M324.3 65.1h.01M328.2 92.4h.01M324.1 57.5h.01M327.0 50.1h.01M328.6 71.8h.01M325.5 79.7h.01M323.5 55.9h.01M324.2 56.3h.01M321.5 58.1h.01M328.2 68.4h.01M328.4 68.1h.01M328.0 43.7h.01M324.4 32.1h.01M332.4 94.3h.01M325.3 52.2h.01M326.9 45.2h.01M329.1 98.0h.01M320.7 48.7h.01M328.9 82.3h.01M327.6 64.4h.01M325.1 62.1h.01M323.8 53.4h.01M324.0 85.4h.01M319.9 76.0h.01M321.1 36.2h.01M319.3 45.4h.01M326.8 52.5h.01M325.4 44.5h.01M325.9 34.4h.01M326.2 52.3h.01M322.1 79.9h.01M330.0 51.3h.01M329.4 66.2h.01M328.6 72.6h.01M326.0 52.1h.01M329.5 48.5h.01M325.4 71.1h.01M320.1 70.7h.01M324.2 55.9h.01M326.9 61.1h.01M326.1 49.7h.01M323.2 55.3h.01M324.4 44.6h.01M329.3 87.3h.01M321.0 53.8h.01M328.2 61.3h.01M327.6 76.3h.01M329.3 38.2h.01M327.4 62.4h.01M327.4 36.7h.01M322.8 72.1h.01M328.7 87.5h.01M320.7 81.4h.01M324.6 55.7h.01M324.5 70.4h.01M328.6 46.0h.01M327.3 62.8h.01M323.3 74.6h.01M322.9 52.2h.01M325.3 61.5h.01M323.1 52.7h.01M328.8 62.4h.01M326.4 59.6h.01M328.2 80.1h.01M325.2 73.4h.01M323.2 60.0h.01M322.2 51.3h.01M334.5 45.9h.01M329.3 64.6h.01M326.3 25.8h.01M326.1 36.2h.01M323.6 47.9h.01M324.4 89.7h.01M330.4 31.2h.01M324.4 46.9h.01M325.9 32.2h.01M321.2 58.6h.01M323.3 77.4h.01M324.6 63.3h.01M324.1 72.8h.01M328.9 58.6h.01M324.0 69.4h.01M325.8 75.7h.01M325.7 61.5h.01M327.8 46.5h.01M321.8 67.4h.01M324.9 69.8h.01M327.8 65.8h.01M323.8 85.6h.01M318.8 47.3h.01M321.9 92.3h.01M324.4 56.5h.01M327.2 80.2h.01M328.3 58.7h.01M326.0 42.2h.01M326.3 55.3h.01M319.1 63.5h.01M325.1 72.9h.01M327.3 61.5h.01M325.0 86.4h.01M326.1 76.8h.01M326.8 82.0h.01M328.3 41.5h.01M327.1 86.1h.01M329.5 54.7h.01M330.3 74.8h.01M327.4 49.1h.01M326.8 68.3h.01M319.5 52.0h.01M321.2 30.4h.01M326.1 74.7h.01M325.5 35.4h.01M321.8 74.4h.01M325.0 65.0h.01M324.7 62.7h.01M323.6 49.1h.01M321.5 60.8h.01M325.4 78.9h.01M332.3 63.3h.01M317.3 40.3h.01M329.4 68.1h.01M325.1 45.0h.01M327.0 65.5h.01M328.7 82.7h.01M330.1 76.7h.01M322.2 69.8h.01M322.3 48.6h.01M323.3 40.7h.01M323.1 84.4h.01M325.3 86.8h.01M325.9 30.7h.01M323.6 87.3h.01M328.8 57.4h.01M324.9 80.4h.01M327.0 56.7h.01M328.9 61.1h.01M322.6 35.7h.01M319.6 99.0h.01M326.2 88.3h.01M326.1 62.2h.01M326.2 64.5h.01M321.7 59.7h.01M328.5 96.7h.01M324.4 67.2h.01M327.7 85.0h.01M327.1 55.2h.01M330.6 65.4h.01M321.2 60.2h.01M322.5 85.3h.01M322.9 63.7h.01M326.7 55.4h.01M325.4 53.8h.01M323.6 46.4h.01M326.2 55.5h.01M322.7 53.1h.01M331.8 40.1h.01M324.0 51.3h.01M325.5 73.3h.01M323.5 65.0h.01M327.0 87.5h.01M323.9 48.8h.01M327.6 59.6h.01M323.9 55.8h.01M329.4 34.0h.01M325.0 88.2h.01M326.6 47.6h.01M323.8 77.1h.01M326.9 53.6h.01M323.8 39.1h.01M321.7 66.5h.01M327.0 52.2h.01M327.6 49.3h.01M326.6 26.7h.01M328.0 90.9h.01M328.0 59.5h.01M326.9 61.3h.01M325.9 59.6h.01M327.0 54.9h.01M325.4 52.3h.01M327.7 82.5h.01M327.8 68.3h.01M329.7 46.8h.01M331.7 27.9h.01M327.6 62.6h.01M326.7 34.9h.01M329.0 64.8h.01M325.9 77.9h.01M326.0 62.1h.01M328.1 59.1h.01M326.6 54.0h.01M323.9 60.7h.01M323.8 64.6h.01M324.8 51.2h.01M325.2 40.0h.01M327.6 70.3h.01M318.8 60.9h.01M324.3 69.6h.01M331.6 52.9h.01M325.2 46.5h.01M326.5 72.0h.01M326.3 62.1h.01M322.4 59.0h.01M322.8 54.4h.01M330.1 61.7h.01M323.4 42.5h.01M321.1 52.1h.01M331.6 56.2h.01M324.9 43.2h.01M324.2 76.1h.01M328.4 57.2h.01M323.2 71.5h.01M329.6 60.8h.01M327.6 54.2h.01M323.3 49.4h.01M325.6 71.3h.01M329.8 81.8h.01M326.9 23.7h.01M329.9 68.0h.01M323.6 81.9h.01M323.0 55.5h.01M325.6 59.9h.01M325.4 26.7h.01M321.5 58.6h.01M327.7 59.6h.01M322.1 39.6h.01M322.1 78.5h.01M322.6 72.9h.01M322.1 43.4h.01M323.7 81.5h.01M323.4 56.8h.01M323.7 51.3h.01M328.4 49.6h.01M324.9 39.7h.01M323.4 61.8h.01M329.8 90.3h.01M321.9 56.3h.01M320.1 54.6h.01M325.6 70.4h.01M327.0 43.0h.01M321.9 35.4h.01M330.2 38.9h.01M328.3 64.5h.01M328.2 32.7h.01M326.7 66.9h.01M325.5 67.9h.01M322.1 84.0h.01M322.2 57.5h.01M328.1 69.0h.01M330.1 59.5h.01M322.2 66.1h.01M327.0 32.6h.01" stroke="#444" stroke-width="0.6" stroke-linecap="round" fill="none" opacity="0.62"/>
<path d="M340.0 82.8h.01M332.3 77.3h.01M336.3 78.3h.01M333.6 76.1h.01M339.0 63.3h.01M334.6 59.5h.01M339.1 86.4h.01M335.4 76.9h.01M336.4 94.2h.01M341.4 75.1h.01M337.9 53.2h.01M328.9 76.0h.01M332.8 50.9h.01M340.7 67.0h.01M331.2 81.9h.01M334.7 78.7h.01M331.1 37.1h.01M333.3 75.4h.01M327.0 43.6h.01M340.3 104.3h.01M335.0 46.1h.01M334.0 48.9h.01M342.8 74.3h.01M332.0 76.3h.01M326.3 62.8h.01M336.0 58.1h.01M331.8 51.6h.01M327.6 69.7h.01M331.6 71.8h.01M339.7 50.4h.01M330.6 63.1h.01M339.0 39.4h.01M335.7 44.8h.01M342.6 68.5h.01M328.7 52.3h.01M336.3 53.5h.01M336.3 68.7h.01M336.9 54.8h.01M342.4 77.0h.01M334.6 59.7h.01M333.0 37.7h.01M334.5 62.6h.01M334.3 45.5h.01M322.2 31.7h.01M339.7 30.5h.01M338.5 74.1h.01M335.5 61.8h.01M339.6 61.0h.01M335.7 76.7h.01M335.7 95.6h.01M330.9 55.0h.01M334.7 64.6h.01M333.0 94.2h.01M338.8 30.3h.01M335.9 73.4h.01M341.3 68.8h.01M332.5 75.5h.01M330.1 63.6h.01M330.6 84.8h.01M339.1 98.3h.01M334.6 60.1h.01M333.8 81.3h.01M331.1 73.9h.01M334.4 74.2h.01M337.1 48.5h.01M334.0 32.3h.01M331.9 51.8h.01M340.5 54.7h.01M337.1 57.9h.01M330.1 71.8h.01M344.5 72.3h.01M341.5 72.0h.01M340.3 96.8h.01M328.5 50.6h.01M329.3 62.3h.01M334.3 49.3h.01M338.1 93.5h.01M342.1 92.1h.01M336.6 69.6h.01M342.5 78.8h.01M340.4 56.7h.01M334.1 51.0h.01M341.7 47.6h.01M336.9 66.8h.01M335.6 57.3h.01M337.9 49.9h.01M336.6 84.3h.01M333.6 81.8h.01M341.6 92.9h.01M332.1 91.1h.01M340.7 86.9h.01M340.5 59.9h.01M340.3 65.4h.01M334.0 52.6h.01M334.1 59.9h.01M328.9 68.1h.01M329.9 72.9h.01M342.4 83.0h.01M343.3 88.7h.01M346.7 61.0h.01M332.3 59.7h.01M331.7 85.1h.01M325.6 62.8h.01M340.3 72.8h.01M340.0 44.7h.01M334.1 60.1h.01M338.3 72.4h.01M342.8 41.6h.01M337.5 100.3h.01M342.0 66.6h.01M340.0 58.8h.01M342.2 53.5h.01M339.9 66.7h.01M332.8 66.0h.01M335.9 51.3h.01M336.9 48.1h.01M341.2 71.2h.01M340.7 74.2h.01M337.4 39.8h.01M334.9 63.1h.01M334.0 61.4h.01M334.6 54.8h.01M332.3 54.5h.01M331.3 79.8h.01M337.4 70.9h.01M339.8 56.5h.01M341.0 33.1h.01M333.5 63.2h.01M343.7 81.5h.01M339.9 75.4h.01M333.8 60.1h.01M333.4 64.0h.01M330.8 57.5h.01M334.0 70.4h.01M333.5 68.5h.01M338.3 71.0h.01M339.7 47.5h.01M336.6 60.1h.01M340.9 55.1h.01M337.5 40.6h.01M334.8 50.6h.01M336.0 52.2h.01M335.9 66.2h.01M331.7 74.8h.01M333.5 96.5h.01M341.1 73.3h.01M336.6 84.7h.01M337.5 35.8h.01M339.1 66.9h.01M325.6 33.7h.01M342.0 68.0h.01M333.0 32.8h.01M331.5 88.0h.01M326.2 71.1h.01M346.7 64.7h.01M332.1 71.1h.01M338.9 68.7h.01M335.3 36.5h.01M338.4 74.7h.01M337.9 70.7h.01M336.8 77.0h.01M351.3 53.2h.01M337.3 43.2h.01M328.2 62.5h.01M342.3 46.5h.01M334.0 53.4h.01M329.9 38.7h.01M336.5 54.7h.01M335.2 46.6h.01M342.1 99.6h.01M332.5 37.1h.01M341.6 85.9h.01M345.0 47.8h.01M335.7 29.9h.01M337.9 40.5h.01M328.3 74.6h.01M338.0 28.4h.01M332.5 103.3h.01M325.3 53.9h.01M344.8 91.7h.01M336.8 49.4h.01M337.7 51.5h.01M337.6 79.8h.01M336.4 81.7h.01M341.7 47.9h.01M334.9 45.6h.01M337.7 32.5h.01M331.6 25.0h.01M338.1 46.6h.01M341.6 74.9h.01M338.1 48.7h.01M328.9 43.8h.01M336.1 60.4h.01M335.2 62.2h.01M342.3 81.9h.01M330.7 73.3h.01M332.1 66.1h.01M337.0 77.5h.01M339.5 42.4h.01M335.5 69.0h.01M335.1 88.2h.01M329.8 70.9h.01M336.8 53.9h.01M335.5 57.5h.01M337.3 52.3h.01M334.5 104.4h.01M333.9 71.2h.01M340.8 47.1h.01M339.5 51.5h.01M324.8 62.1h.01M322.6 59.8h.01M339.1 91.7h.01M338.9 79.7h.01M338.8 62.0h.01M340.7 55.7h.01M337.2 50.0h.01M334.8 68.3h.01M327.5 51.0h.01M331.6 60.6h.01M344.6 46.4h.01" stroke="#444" stroke-width="0.6" stroke-linecap="round" fill="none" opacity="0.496"/>
<path d="M334.6 91.1h.01M332.0 88.8h.01M339.6 91.6h.01M332.1 86.4h.01M331.6 97.7h.01M331.1 82.3h.01M331.2 93.1h.01M337.0 92.7h.01M339.0 85.8h.01M330.9 90.9h.01M335.6 81.4h.01M334.5 83.9h.01M339.4 94.1h.01M342.8 103.3h.01M337.5 91.1h.01M330.5 89.2h.01M339.8 94.6h.01M335.4 85.1h.01M334.0 102.2h.01M334.1 99.7h.01M324.6 100.3h.01M330.7 85.0h.01M333.5 88.2h.01M342.4 91.0h.01M334.2 88.9h.01M338.6 99.1h.01M339.2 84.3h.01M334.1 95.5h.01M326.3 91.9h.01M339.4 100.7h.01M337.4 97.2h.01M339.1 94.5h.01M326.8 102.6h.01M338.3 92.2h.01M331.6 105.3h.01M336.8 97.6h.01M333.5 94.0h.01M335.2 98.5h.01M326.8 102.3h.01M335.2 96.7h.01M339.6 89.7h.01M338.8 86.3h.01M336.2 88.3h.01M339.9 100.6h.01M329.8 94.3h.01M331.9 84.9h.01M334.8 98.2h.01M340.3 89.7h.01M334.0 100.5h.01M335.0 102.4h.01M343.6 95.6h.01M331.7 90.9h.01M338.8 91.4h.01M335.6 95.1h.01M328.3 90.2h.01M333.5 87.9h.01M336.3 90.5h.01M333.2 100.4h.01M341.7 91.4h.01M332.7 84.1h.01M327.1 101.0h.01M335.3 88.0h.01M329.1 99.2h.01M333.8 95.9h.01M339.3 88.1h.01M328.9 91.9h.01M337.5 91.3h.01M334.6 94.7h.01M331.0 96.4h.01M339.5 86.5h.01M331.5 90.4h.01M332.3 91.0h.01M339.9 85.0h.01M336.9 90.3h.01M331.9 84.9h.01M325.9 93.0h.01M341.5 87.6h.01M338.3 85.8h.01M337.2 91.0h.01M333.5 84.8h.01M332.8 90.1h.01M341.1 96.1h.01M337.1 89.1h.01M336.2 96.8h.01M341.1 97.6h.01M343.5 91.4h.01M331.1 99.6h.01M343.2 97.6h.01M335.3 93.4h.01M333.8 90.8h.01M335.3 94.9h.01M330.1 95.3h.01M336.0 91.5h.01M336.5 90.6h.01M336.5 100.7h.01M333.3 97.2h.01M332.6 91.4h.01M336.3 89.4h.01M339.9 84.5h.01M334.4 92.7h.01M335.7 91.7h.01M330.8 92.8h.01M341.4 96.0h.01M334.5 85.8h.01M331.1 96.9h.01M332.8 90.9h.01M345.5 79.6h.01M339.3 79.8h.01M340.1 95.7h.01M338.8 97.5h.01M332.6 85.1h.01M331.6 94.4h.01M337.2 98.2h.01M334.9 96.5h.01M335.0 86.4h.01M332.7 94.4h.01M334.6 89.5h.01M334.9 100.0h.01M331.9 78.9h.01M335.3 79.6h.01M341.8 88.8h.01M335.2 91.1h.01M335.7 93.9h.01M340.2 86.3h.01M333.1 89.9h.01M333.8 95.6h.01M326.1 80.5h.01M335.0 94.6h.01M337.4 97.6h.01M342.0 87.1h.01M333.5 93.7h.01M337.5 95.0h.01M336.4 86.9h.01M345.4 92.3h.01M336.9 87.0h.01M336.5 90.4h.01M340.0 97.5h.01M332.4 92.8h.01M335.5 94.1h.01M341.5 88.3h.01M347.4 87.8h.01M328.8 96.5h.01M329.4 99.7h.01M336.8 90.5h.01M338.6 93.3h.01M331.7 90.3h.01M344.0 93.6h.01M336.6 87.0h.01M344.6 96.1h.01M333.8 92.6h.01M332.7 99.9h.01M339.4 88.8h.01M333.5 90.1h.01M335.9 104.9h.01M333.9 94.7h.01M333.5 91.5h.01M337.0 98.8h.01M330.0 89.0h.01M334.2 87.3h.01M342.1 96.6h.01M340.3 95.1h.01M330.1 97.8h.01M334.7 89.0h.01M331.4 86.2h.01M333.1 93.5h.01M340.6 89.0h.01M338.6 94.6h.01M338.7 92.7h.01M329.3 99.1h.01M338.4 86.0h.01M335.4 91.5h.01M345.7 101.4h.01M335.9 91.6h.01M338.7 94.2h.01M338.4 91.4h.01M330.6 81.8h.01M329.0 83.6h.01M335.3 96.2h.01M343.0 94.1h.01M345.1 102.0h.01M334.8 89.6h.01M336.4 89.9h.01M333.4 92.8h.01M337.7 81.8h.01M335.8 92.8h.01M338.9 87.4h.01M337.8 87.1h.01M331.1 87.9h.01M336.1 90.9h.01M340.8 95.3h.01M334.3 98.3h.01M342.9 93.4h.01M343.9 94.6h.01M337.4 87.4h.01M340.2 98.5h.01M336.8 98.6h.01M345.0 102.6h.01M331.5 91.5h.01M341.5 98.0h.01" stroke="#444" stroke-width="0.6" stroke-linecap="round" fill="none" opacity="0.62"/>
<path d="M331.5 79.2h.01M328.8 95.3h.01M318.9 103.0h.01M329.1 99.2h.01M335.7 89.3h.01M326.0 91.1h.01M331.7 98.5h.01M315.6 85.7h.01M315.6 93.1h.01M314.7 84.0h.01M333.5 84.9h.01M327.8 75.1h.01M329.2 80.8h.01M334.1 93.2h.01M327.7 84.6h.01M326.4 87.7h.01M330.6 88.1h.01M321.5 85.5h.01M320.8 97.6h.01M321.5 94.0h.01M313.1 76.7h.01M324.1 76.8h.01M335.5 90.5h.01M322.1 96.6h.01M321.7 91.8h.01M328.9 87.8h.01M324.7 78.2h.01M333.3 82.5h.01M319.5 90.3h.01M326.0 85.2h.01M318.0 85.9h.01M327.9 98.8h.01M317.5 83.5h.01M330.1 88.1h.01M332.8 85.1h.01M326.2 90.3h.01M324.4 97.0h.01M324.0 90.3h.01M322.2 102.9h.01M327.7 90.7h.01M312.4 95.3h.01M318.5 79.4h.01M323.1 85.3h.01M322.9 92.8h.01M321.1 86.2h.01M316.8 83.1h.01M317.4 82.6h.01M320.8 85.0h.01M325.6 92.1h.01M330.1 91.6h.01M325.3 93.9h.01M320.7 85.5h.01M323.6 86.3h.01M328.2 94.7h.01M313.4 97.2h.01M311.6 95.1h.01M337.4 100.8h.01M315.2 102.9h.01M336.8 93.7h.01M325.2 105.6h.01M326.6 80.4h.01M322.8 92.0h.01M329.0 106.1h.01M329.0 100.2h.01M313.6 85.3h.01M324.8 94.8h.01M340.5 103.2h.01M314.9 98.3h.01M318.2 88.7h.01M324.2 91.5h.01M325.4 87.8h.01M329.9 89.4h.01M322.3 87.0h.01M324.3 85.5h.01M316.9 97.8h.01M327.3 94.7h.01M324.8 85.1h.01M313.7 99.7h.01M323.8 95.9h.01M324.4 98.2h.01M315.9 99.0h.01M308.1 93.7h.01M333.5 94.5h.01M325.8 86.3h.01M330.9 92.5h.01M329.2 96.5h.01M322.2 87.8h.01M329.3 96.8h.01M325.5 95.8h.01M319.5 92.4h.01M329.5 93.9h.01M320.3 90.0h.01M325.1 103.2h.01M309.0 85.2h.01M337.4 87.5h.01M336.9 102.5h.01M317.5 90.1h.01M330.2 104.2h.01M323.7 94.0h.01M311.2 94.0h.01M330.4 94.7h.01M320.9 95.6h.01M319.3 84.9h.01M338.8 105.8h.01M318.3 91.5h.01M333.9 91.7h.01M321.3 90.8h.01M310.9 93.3h.01M317.7 89.7h.01M312.8 91.1h.01M320.6 87.6h.01M329.0 73.9h.01M322.1 76.2h.01M312.1 103.0h.01M325.2 95.9h.01M309.8 81.7h.01M327.6 93.6h.01M330.9 92.8h.01M326.1 94.8h.01M322.9 81.1h.01M330.1 88.2h.01M322.5 89.9h.01M328.2 89.3h.01M314.1 92.3h.01M331.3 88.2h.01M333.4 90.5h.01M326.0 104.9h.01M317.8 92.4h.01M329.4 89.4h.01M317.3 94.8h.01M322.2 89.6h.01M319.9 94.2h.01M323.1 90.9h.01M318.5 87.4h.01M313.8 93.7h.01M322.0 87.0h.01M323.2 94.8h.01M327.1 89.9h.01M328.9 97.9h.01M309.4 83.3h.01M328.1 92.9h.01M327.9 99.6h.01M315.6 93.3h.01M331.4 83.9h.01M335.0 76.5h.01M321.0 92.3h.01M326.0 89.2h.01M329.2 91.7h.01M328.4 85.3h.01M308.7 88.3h.01" stroke="#444" stroke-width="0.6" stroke-linecap="round" fill="none" opacity="0.62"/>
<ellipse cx="322.6" cy="91.6" rx="8.6" ry="7" transform="rotate(-40 322.6 91.6)" fill="#fff" stroke="#333" stroke-width="0.5" opacity="1"/>
<path d="M330.5 85.8 C335 85.5 338 89 337.5 93 C337 96.5 334 98 330.5 97.5Z" fill="#fff" stroke="#fff" stroke-width="0.01" />
<ellipse cx="322.6" cy="91.6" rx="8.6" ry="7" transform="rotate(-40 322.6 91.6)" fill="none" stroke="#333" stroke-width="0.55" opacity="1"/>
<ellipse cx="322.6" cy="91.6" rx="6.9" ry="5.5" transform="rotate(-40 322.6 91.6)" fill="none" stroke="#333" stroke-width="0.55" opacity="1"/>
<ellipse cx="322.6" cy="91.6" rx="5.2" ry="4.0" transform="rotate(-40 322.6 91.6)" fill="none" stroke="#333" stroke-width="0.55" opacity="1"/>
<ellipse cx="322.9" cy="91.3" rx="3.9" ry="2.6" transform="rotate(-45 322.9 91.3)" fill="#999" stroke="#444" stroke-width="0.4" opacity="0.8"/>
<ellipse cx="323.2" cy="91" rx="3.0" ry="1.5" transform="rotate(-50 323.2 91)" fill="#666" stroke="#333" stroke-width="0.4" opacity="0.85"/>
<path d="M330.5 85.8 C335 85.5 338 89 337.5 93 C337 96.5 334 98 330.5 97.5" fill="none" stroke="#333" stroke-width="0.7" />
<rect x="307.3" y="22.3" width="84.89999999999998" height="84.7" fill="none" stroke="#111" stroke-width="1"/>
<line x1="330" y1="22.3" x2="330" y2="107" stroke="#111" stroke-width="0.9"/>
<line x1="307.3" y1="84.8" x2="392.2" y2="84.8" stroke="#111" stroke-width="0.9"/>
<text x="308.90000000000003" y="31.700000000000003" font-size="8.4" stroke="#1a1a1a" stroke-width="0.2" text-anchor="start" fill="#1a1a1a" >4.2</text>
<text x="390.59999999999997" y="31.700000000000003" font-size="8.4" stroke="#1a1a1a" stroke-width="0.2" text-anchor="end" fill="#1a1a1a" >2.1</text>
<text x="309.5" y="106.1" font-size="8.4" stroke="#1a1a1a" stroke-width="0.2" text-anchor="start" fill="#1a1a1a" >88.1</text>
<text x="390.59999999999997" y="106.1" font-size="8.4" stroke="#1a1a1a" stroke-width="0.2" text-anchor="end" fill="#1a1a1a" >5.5</text>
<text x="305.6" y="114.2" font-size="3.6" fill="#777">10<tspan dy="-1.4" font-size="2.6">0</tspan></text>
<text x="326.6" y="114.2" font-size="3.6" fill="#777">10<tspan dy="-1.4" font-size="2.6">1</tspan></text>
<text x="347.6" y="114.2" font-size="3.6" fill="#777">10<tspan dy="-1.4" font-size="2.6">2</tspan></text>
<text x="368.5" y="114.2" font-size="3.6" fill="#777">10<tspan dy="-1.4" font-size="2.6">3</tspan></text>
<text x="389.5" y="114.2" font-size="3.6" fill="#777">10<tspan dy="-1.4" font-size="2.6">4</tspan></text>
<text x="298.5" y="107.7" font-size="3.6" fill="#777">10<tspan dy="-1.4" font-size="2.6">0</tspan></text>
<text x="298.5" y="86.8" font-size="3.6" fill="#777">10<tspan dy="-1.4" font-size="2.6">1</tspan></text>
<text x="298.5" y="65.9" font-size="3.6" fill="#777">10<tspan dy="-1.4" font-size="2.6">2</tspan></text>
<text x="298.5" y="44.9" font-size="3.6" fill="#777">10<tspan dy="-1.4" font-size="2.6">3</tspan></text>
<text x="298.5" y="24.0" font-size="3.6" fill="#777">10<tspan dy="-1.4" font-size="2.6">4</tspan></text>
<path d="M433.3 38.9h.01M430.3 57.4h.01M432.0 78.5h.01M427.2 45.0h.01M438.0 36.7h.01M432.2 63.2h.01M434.9 47.1h.01M433.7 77.5h.01M431.7 68.3h.01M429.4 70.7h.01M431.3 53.1h.01M431.6 38.4h.01M427.4 61.7h.01M431.9 56.1h.01M427.3 61.3h.01M430.7 38.4h.01M435.0 90.0h.01M432.3 48.1h.01M425.0 72.9h.01M432.6 71.8h.01M438.1 50.8h.01M432.3 80.7h.01M429.0 73.9h.01M432.0 50.7h.01M432.2 67.6h.01M431.7 61.8h.01M433.8 68.8h.01M430.7 60.7h.01M425.6 41.5h.01M429.3 51.9h.01M430.9 43.6h.01M433.4 72.3h.01M436.3 60.3h.01M433.3 69.4h.01M436.8 52.4h.01M434.0 40.8h.01M428.7 41.6h.01M433.7 56.1h.01M432.1 46.2h.01M431.6 84.0h.01M427.1 41.8h.01M434.6 44.8h.01M432.0 60.3h.01M427.1 53.1h.01M431.6 63.3h.01M433.6 58.3h.01M431.7 56.8h.01M432.1 68.9h.01M433.3 58.8h.01M439.1 43.2h.01M433.4 68.2h.01M429.2 56.3h.01M428.8 65.9h.01M431.7 62.7h.01M433.3 62.2h.01M435.3 68.6h.01M431.0 47.7h.01M433.1 36.2h.01M429.9 71.7h.01M434.4 87.8h.01M430.9 56.3h.01M434.4 75.7h.01M428.2 72.7h.01M432.5 82.8h.01M432.2 52.1h.01M430.1 53.3h.01M430.4 33.6h.01M432.4 48.2h.01M435.5 69.4h.01M430.3 55.0h.01M433.2 75.3h.01M435.1 70.4h.01M431.9 68.8h.01M428.5 66.0h.01M431.7 54.5h.01M431.5 48.2h.01M430.7 77.4h.01M430.3 40.0h.01M433.5 52.5h.01M430.1 77.1h.01M431.7 66.2h.01M432.6 81.8h.01M434.0 38.3h.01M437.0 51.6h.01M430.8 69.3h.01M431.6 53.3h.01M430.8 54.2h.01M435.2 63.1h.01M435.8 84.4h.01M434.2 47.1h.01M432.3 64.7h.01M428.2 57.3h.01M428.7 74.9h.01M426.7 53.6h.01M432.7 61.3h.01M429.2 68.5h.01M431.7 78.8h.01M432.3 70.1h.01M427.1 61.2h.01M432.2 44.6h.01M425.3 68.5h.01M435.6 50.2h.01M434.4 67.5h.01M430.2 49.4h.01M440.0 67.2h.01M433.1 54.0h.01M427.7 62.1h.01M431.5 63.0h.01M431.8 34.0h.01M430.6 60.3h.01M430.8 61.8h.01M432.7 57.0h.01M430.6 81.2h.01M432.7 63.0h.01M433.4 61.6h.01M426.2 52.7h.01M432.7 65.6h.01M432.1 43.3h.01M431.0 64.1h.01M432.2 95.4h.01M433.5 65.3h.01M431.4 28.5h.01M434.6 49.0h.01M435.7 52.8h.01M431.0 73.2h.01M430.8 35.7h.01M433.2 64.7h.01M433.2 56.3h.01M432.9 46.3h.01M431.8 68.7h.01M422.8 66.2h.01M435.3 80.1h.01M431.0 65.8h.01M431.7 45.2h.01M433.0 71.5h.01M434.4 32.9h.01M431.4 57.1h.01M432.1 38.9h.01M437.8 37.6h.01M429.1 82.1h.01M432.8 48.0h.01M429.9 68.1h.01M430.0 68.9h.01M433.5 64.4h.01M434.4 50.3h.01M427.7 36.0h.01M431.9 47.5h.01M436.5 45.8h.01M436.6 56.7h.01M432.0 32.4h.01M431.7 78.4h.01M427.6 76.3h.01M434.3 71.0h.01M428.9 80.2h.01M428.5 80.3h.01M435.4 34.5h.01M436.3 83.3h.01M431.6 37.0h.01M431.3 54.4h.01M434.4 45.2h.01M429.2 61.5h.01M432.9 34.1h.01M433.2 50.9h.01M430.6 66.9h.01M434.0 65.4h.01M437.1 62.1h.01M432.0 63.3h.01M436.3 67.5h.01M432.9 72.8h.01M427.4 72.6h.01M434.3 54.6h.01M427.5 36.1h.01M425.5 63.5h.01M431.5 46.0h.01M434.6 45.0h.01M434.9 69.5h.01M433.5 43.1h.01M428.7 59.5h.01M435.0 43.9h.01M432.5 70.8h.01M426.9 84.8h.01M431.3 51.2h.01M432.5 56.1h.01M429.1 49.9h.01M431.2 43.5h.01M434.9 67.3h.01M434.1 35.7h.01M430.5 65.8h.01M431.6 32.8h.01M433.0 86.5h.01M435.0 57.3h.01M428.3 73.0h.01M433.6 54.0h.01M430.9 69.9h.01M431.6 49.1h.01M428.4 53.2h.01M431.0 51.2h.01M444.8 41.1h.01M426.8 48.7h.01M434.5 86.1h.01M427.0 50.5h.01M433.7 48.2h.01M433.6 53.6h.01M435.3 60.4h.01M437.0 40.1h.01M435.2 53.3h.01M435.3 50.6h.01M434.4 73.5h.01M432.8 44.1h.01M429.9 51.5h.01M431.3 72.4h.01M428.4 56.7h.01M432.1 58.8h.01M429.2 76.8h.01M431.8 47.7h.01M431.7 74.9h.01M433.6 75.0h.01M433.5 52.7h.01M427.7 46.6h.01M431.8 35.9h.01M431.2 47.2h.01M435.4 30.9h.01M438.6 68.9h.01M430.6 60.1h.01M436.7 68.6h.01M431.1 51.0h.01M427.7 63.0h.01M434.5 57.8h.01M432.0 47.6h.01M432.4 65.9h.01M428.3 68.4h.01M431.2 65.9h.01M432.0 63.8h.01M432.7 69.4h.01M429.9 57.7h.01M428.6 59.9h.01M435.2 55.3h.01M435.0 52.6h.01M433.1 75.8h.01M432.9 64.7h.01M436.0 67.7h.01M434.8 55.1h.01M429.9 69.7h.01M429.1 75.2h.01M430.5 63.1h.01M434.4 44.3h.01M437.6 59.1h.01M431.4 45.0h.01M427.2 35.1h.01M429.2 66.6h.01M430.7 75.0h.01M429.3 38.5h.01M433.4 55.5h.01M427.9 78.4h.01M432.8 39.9h.01M430.6 46.5h.01M435.4 52.0h.01M430.2 63.1h.01M436.6 77.8h.01M432.0 54.9h.01M430.3 72.3h.01M428.9 58.4h.01M434.0 50.0h.01M425.0 51.6h.01M429.6 45.8h.01M430.3 70.0h.01M427.7 42.4h.01M431.6 71.4h.01M429.6 66.6h.01M435.0 48.9h.01M431.4 70.4h.01M432.6 50.5h.01M431.6 55.3h.01M432.2 62.6h.01M432.4 50.6h.01M431.9 62.8h.01M431.4 80.7h.01M430.6 27.8h.01M435.4 52.2h.01M432.9 55.1h.01M434.7 51.2h.01M433.5 79.8h.01M433.7 47.3h.01M436.9 73.7h.01M431.9 39.1h.01M432.6 57.4h.01M433.3 60.5h.01M436.5 61.0h.01M430.8 53.0h.01M432.8 65.5h.01M428.3 44.7h.01M434.6 55.5h.01M435.0 56.0h.01M430.0 64.8h.01M432.7 95.7h.01M436.5 57.3h.01M432.7 65.9h.01M433.4 68.6h.01M431.7 53.1h.01M427.3 54.0h.01M435.0 61.2h.01M432.8 40.3h.01M425.9 66.7h.01M429.6 50.5h.01M426.1 78.4h.01M436.0 34.0h.01M430.3 55.1h.01M433.1 70.3h.01M431.7 56.7h.01M433.5 34.7h.01M431.5 57.9h.01M432.7 44.2h.01M429.9 42.1h.01M431.4 43.8h.01M439.0 49.3h.01M435.5 49.6h.01M430.6 70.4h.01M431.0 88.1h.01M433.2 34.2h.01M430.8 46.7h.01M431.9 47.1h.01M430.4 52.7h.01M434.0 45.4h.01M430.7 89.3h.01M437.8 74.1h.01M431.9 50.1h.01M432.1 39.8h.01M435.1 47.8h.01M425.5 72.4h.01M436.2 70.6h.01M433.7 64.8h.01M436.4 76.6h.01M427.3 66.1h.01M431.6 80.6h.01M431.0 52.9h.01M427.0 58.9h.01M432.8 77.9h.01M431.3 71.3h.01M438.1 41.8h.01M435.0 57.8h.01M426.9 46.9h.01M432.0 42.6h.01M433.8 47.3h.01M435.0 53.1h.01M435.5 73.8h.01M434.6 74.7h.01M440.2 71.8h.01M427.0 52.1h.01M434.7 72.6h.01M430.2 65.4h.01M432.1 54.7h.01M430.5 58.8h.01M435.6 34.2h.01M435.1 61.4h.01M427.1 62.3h.01M431.4 45.3h.01M433.6 54.3h.01M435.4 77.5h.01M433.2 64.2h.01M429.1 58.0h.01M435.4 85.7h.01M426.6 62.0h.01M431.8 88.9h.01M433.0 88.0h.01M425.7 33.7h.01M432.4 38.4h.01M426.0 52.3h.01M430.5 60.2h.01M436.5 44.9h.01M429.7 36.9h.01M432.2 73.5h.01M435.2 25.9h.01M433.4 54.2h.01M430.3 41.7h.01M430.3 62.8h.01M434.0 70.0h.01M429.4 58.5h.01M429.2 71.1h.01M432.1 39.4h.01M435.1 82.8h.01M426.7 84.2h.01M433.4 57.1h.01M425.0 39.9h.01M429.0 69.7h.01M431.5 61.1h.01M432.2 64.9h.01M430.9 77.3h.01M425.1 44.9h.01M430.7 45.8h.01M435.8 51.8h.01M426.0 50.5h.01M430.4 46.4h.01M429.8 50.8h.01M434.0 56.0h.01M432.9 57.1h.01M435.6 59.1h.01M432.8 74.0h.01M436.0 76.0h.01M429.6 39.4h.01M440.2 38.6h.01M429.7 38.1h.01M432.8 58.0h.01M424.7 74.4h.01M430.3 74.7h.01M434.9 58.8h.01M435.1 47.3h.01M432.0 56.0h.01M432.4 66.4h.01M432.5 52.4h.01M434.0 53.4h.01M434.4 46.5h.01M428.3 90.7h.01M428.0 70.2h.01M437.0 68.8h.01M433.2 57.2h.01M431.7 46.9h.01M433.5 68.7h.01M427.9 28.5h.01" stroke="#444" stroke-width="0.6" stroke-linecap="round" fill="none" opacity="0.62"/>
<path d="M457.5 56.9h.01M436.0 49.3h.01M452.3 79.6h.01M439.1 58.9h.01M445.2 55.2h.01M447.2 67.8h.01M451.1 75.7h.01M442.9 54.2h.01M438.2 63.1h.01M438.5 57.8h.01M443.1 61.5h.01M449.5 66.0h.01M450.3 84.6h.01M450.7 87.2h.01M445.6 68.0h.01M440.2 65.0h.01M445.1 82.8h.01M450.1 81.6h.01M443.2 48.5h.01M433.9 63.9h.01M440.5 57.3h.01M446.2 64.0h.01M444.3 67.3h.01M438.4 51.2h.01M445.9 77.7h.01M446.0 57.3h.01M448.5 71.1h.01M446.3 89.7h.01M439.3 48.5h.01M445.6 65.4h.01M454.7 78.8h.01M440.9 56.0h.01M442.1 58.9h.01M439.9 62.5h.01M453.1 74.0h.01M439.0 46.4h.01M451.6 78.8h.01M440.2 71.6h.01M455.9 76.0h.01M447.2 61.4h.01M443.0 68.0h.01M452.4 71.4h.01M447.8 60.5h.01M448.4 82.3h.01M448.1 75.4h.01M438.9 49.1h.01M446.0 66.1h.01M428.4 54.1h.01M445.0 58.6h.01M438.9 63.0h.01M451.0 80.4h.01M436.2 64.7h.01M449.0 93.2h.01M442.4 47.4h.01M450.2 73.3h.01M452.3 75.6h.01M437.9 45.6h.01M445.2 61.1h.01M436.4 38.6h.01M448.9 69.1h.01M450.9 66.6h.01M440.2 49.8h.01M439.5 50.1h.01M440.5 51.6h.01M448.1 58.8h.01M445.9 61.7h.01M436.0 35.5h.01M440.9 56.4h.01M444.9 45.3h.01M449.4 70.0h.01M443.6 61.0h.01M448.8 64.4h.01M446.3 27.2h.01M446.8 90.0h.01M439.4 35.0h.01M429.5 45.6h.01M431.0 37.7h.01M440.5 59.0h.01M438.6 61.4h.01M444.6 73.8h.01M437.9 62.3h.01M447.3 72.6h.01M438.8 63.0h.01M440.8 73.2h.01M450.0 76.8h.01M448.5 85.3h.01M436.2 39.9h.01M440.4 61.7h.01M446.8 53.5h.01M443.4 70.6h.01M441.5 75.7h.01M442.6 47.3h.01M441.3 52.8h.01M441.0 66.8h.01M445.6 74.4h.01M438.7 39.9h.01M447.2 71.4h.01M440.5 42.3h.01M436.9 45.4h.01M440.3 52.1h.01M449.0 65.8h.01M456.7 66.3h.01M436.8 60.5h.01M450.4 55.0h.01M447.6 74.1h.01M453.8 75.8h.01M439.7 46.4h.01M443.6 70.5h.01M437.6 65.4h.01M446.7 44.2h.01M444.5 50.4h.01M442.1 68.4h.01M446.4 59.9h.01M448.2 70.7h.01M448.4 47.6h.01M445.6 86.2h.01M445.3 52.0h.01M452.1 83.2h.01M443.7 67.2h.01M445.8 52.7h.01M442.0 74.1h.01M444.7 64.8h.01M442.8 71.3h.01M448.4 61.9h.01M441.2 49.7h.01M437.1 45.5h.01M445.0 64.5h.01M437.1 46.1h.01M445.4 70.9h.01M444.0 37.1h.01M449.1 79.8h.01M439.2 57.4h.01M448.5 63.8h.01M436.7 48.4h.01M441.7 62.1h.01M447.7 73.2h.01M442.0 69.4h.01M444.8 57.7h.01M447.0 60.3h.01M444.0 53.5h.01M438.7 56.0h.01M453.0 65.8h.01M442.8 51.7h.01M441.0 46.5h.01M445.4 61.3h.01M443.4 69.2h.01M434.5 46.7h.01M443.4 46.9h.01M442.0 79.3h.01M448.3 67.8h.01M440.4 47.3h.01M445.8 61.3h.01M441.6 65.0h.01M446.0 61.6h.01M449.3 68.2h.01M440.9 69.8h.01M447.5 82.9h.01M430.7 61.2h.01M450.1 75.6h.01M439.9 63.6h.01M444.1 54.4h.01M444.7 52.4h.01M444.9 78.9h.01M439.6 58.5h.01M457.7 76.8h.01M443.8 67.3h.01M437.5 48.8h.01M444.8 73.2h.01M443.7 51.2h.01M438.7 81.3h.01M443.8 73.3h.01M451.6 78.2h.01M438.4 49.9h.01M442.7 68.2h.01M441.6 47.2h.01M443.2 50.0h.01M443.1 58.8h.01M454.6 95.4h.01M436.7 44.1h.01M439.1 63.5h.01M446.8 69.7h.01M435.8 46.5h.01M448.5 81.6h.01M451.5 75.1h.01M450.0 75.7h.01M445.8 78.4h.01M450.2 72.8h.01M441.0 57.5h.01M446.4 81.7h.01M436.9 58.1h.01M440.7 44.4h.01M448.4 76.3h.01M442.9 45.9h.01M440.9 49.1h.01M435.9 76.2h.01M442.4 43.5h.01M451.6 72.4h.01M455.6 66.1h.01M450.0 56.4h.01M449.6 88.3h.01M453.3 84.0h.01M443.2 61.9h.01M445.3 51.8h.01M442.7 43.0h.01M434.1 58.6h.01M453.6 89.1h.01M444.1 64.8h.01M444.2 66.5h.01M451.6 69.0h.01M447.2 67.0h.01M445.7 72.8h.01M448.8 45.7h.01M445.6 29.8h.01M439.0 72.7h.01M449.7 92.9h.01M441.5 40.9h.01M445.7 67.8h.01M447.0 53.0h.01M433.0 46.1h.01M452.3 77.5h.01M437.9 69.2h.01M441.8 65.2h.01M446.7 58.2h.01M437.3 36.5h.01M449.3 82.9h.01M443.0 68.5h.01M454.4 94.5h.01M443.5 74.8h.01M443.0 62.2h.01M438.6 39.5h.01M444.7 52.3h.01M448.0 73.9h.01M438.4 42.4h.01M441.9 72.3h.01M455.8 85.7h.01M439.6 66.1h.01M442.5 53.1h.01M440.2 49.7h.01M443.4 56.2h.01M447.7 81.3h.01M440.1 64.5h.01M440.2 58.2h.01M443.8 62.4h.01M442.5 51.8h.01M442.9 46.3h.01M436.3 51.9h.01M453.5 77.4h.01M448.2 88.7h.01M440.5 41.7h.01M442.5 48.2h.01M431.6 33.5h.01M446.2 67.6h.01M441.7 71.6h.01M447.8 69.3h.01M444.4 51.3h.01M447.4 68.5h.01M440.5 58.5h.01M439.3 66.0h.01M440.7 69.1h.01M443.9 59.8h.01M445.7 57.5h.01M452.6 65.7h.01M437.3 56.0h.01M451.3 84.8h.01M446.7 83.1h.01M449.2 79.4h.01M438.9 52.1h.01M442.6 63.0h.01M435.8 46.7h.01M450.7 75.3h.01M442.2 55.8h.01M442.9 37.5h.01M447.9 64.4h.01M448.2 66.5h.01M450.4 69.0h.01M446.9 73.5h.01M440.7 66.2h.01M440.4 40.5h.01M447.9 67.8h.01M448.1 61.7h.01M452.5 73.9h.01M445.2 65.5h.01M440.7 48.0h.01M446.5 55.3h.01M444.6 67.0h.01M447.6 55.5h.01M441.0 68.4h.01M438.6 36.3h.01M441.6 64.0h.01M440.3 79.8h.01M441.4 74.3h.01M438.1 57.6h.01M439.9 58.1h.01M433.4 54.4h.01M449.2 67.4h.01M446.5 34.2h.01M450.5 62.1h.01M433.5 44.1h.01M442.1 63.9h.01M446.9 82.9h.01M441.3 53.0h.01M436.1 47.5h.01M442.9 59.7h.01M441.5 67.2h.01M439.0 55.7h.01M452.1 75.5h.01M448.1 85.8h.01M446.1 78.5h.01M443.2 55.5h.01M442.5 57.0h.01M444.6 60.6h.01M440.1 49.3h.01M448.9 73.8h.01M439.5 63.0h.01M450.7 72.5h.01M448.9 96.7h.01M443.0 72.6h.01M454.4 97.0h.01M445.7 80.3h.01M443.2 49.7h.01M441.4 51.0h.01M445.6 64.3h.01M437.7 72.8h.01M448.9 75.7h.01M441.6 51.0h.01M450.4 74.7h.01M438.4 78.8h.01M445.1 55.3h.01M438.5 57.8h.01M449.4 64.0h.01M445.7 55.4h.01M435.4 52.5h.01M456.1 71.6h.01M448.7 68.6h.01M443.2 59.4h.01M443.6 67.4h.01M443.3 62.6h.01M447.8 69.4h.01M446.4 64.5h.01M449.6 77.0h.01M454.0 79.8h.01M442.4 67.9h.01M450.9 87.8h.01M452.5 66.8h.01M457.3 78.7h.01M441.6 73.2h.01M444.1 56.9h.01M452.2 68.6h.01M435.2 52.1h.01M447.0 77.9h.01M449.2 75.0h.01M447.3 80.0h.01M445.5 72.6h.01M441.7 57.8h.01M441.9 46.5h.01M445.9 68.6h.01M438.6 62.4h.01M440.0 49.3h.01M439.9 79.0h.01M451.6 100.3h.01M447.9 33.6h.01M446.2 57.6h.01M442.1 44.2h.01M459.6 106.0h.01M434.3 43.4h.01M441.8 60.4h.01M444.2 55.2h.01M448.3 80.9h.01M449.2 75.8h.01M442.1 56.2h.01M441.6 56.9h.01M438.5 66.6h.01M442.6 58.4h.01M456.0 93.2h.01M442.7 71.9h.01M443.0 78.0h.01M438.7 42.4h.01M441.9 73.3h.01M441.0 61.9h.01M452.0 48.3h.01M437.2 69.6h.01M450.0 84.2h.01M433.9 31.2h.01M442.5 36.7h.01M449.1 86.0h.01M440.7 64.7h.01M443.2 81.2h.01M443.2 39.0h.01M440.9 55.1h.01M450.8 75.8h.01M447.9 73.7h.01M447.2 66.2h.01M441.0 52.7h.01M443.8 51.5h.01M443.8 52.1h.01M446.9 75.7h.01M448.9 61.9h.01M443.9 63.6h.01M444.2 51.2h.01M455.1 59.3h.01M447.0 72.2h.01M446.2 62.5h.01M438.2 45.0h.01M440.7 62.6h.01M450.1 97.7h.01M442.2 93.8h.01M444.6 57.0h.01M444.0 59.6h.01M436.1 38.5h.01M438.1 46.3h.01M443.2 54.5h.01M440.0 60.2h.01M443.0 67.8h.01M438.3 45.2h.01M440.4 42.9h.01M431.5 46.1h.01M442.1 45.2h.01M446.3 90.8h.01" stroke="#444" stroke-width="0.6" stroke-linecap="round" fill="none" opacity="0.558"/>
<path d="M443.2 94.0h.01M440.7 100.1h.01M452.2 88.4h.01M438.2 80.0h.01M446.0 85.6h.01M436.0 94.4h.01M443.9 94.6h.01M437.7 84.5h.01M445.1 101.1h.01M447.2 90.0h.01M449.2 97.3h.01M438.2 104.6h.01M451.0 91.9h.01M447.1 83.8h.01M451.8 106.2h.01M446.0 94.1h.01M444.0 92.3h.01M439.4 92.7h.01M450.5 90.2h.01M450.6 83.5h.01M441.5 89.7h.01M442.8 98.6h.01M438.7 97.3h.01M440.1 91.8h.01M430.5 79.4h.01M446.5 97.2h.01M447.4 92.2h.01M450.4 94.1h.01M449.4 84.1h.01M455.2 89.6h.01M438.8 87.9h.01M450.4 92.5h.01M444.4 100.3h.01M451.3 95.0h.01M440.5 96.9h.01M442.9 93.6h.01M443.9 81.3h.01M442.8 90.3h.01M436.0 84.9h.01M454.2 91.2h.01M455.8 95.5h.01M442.7 87.8h.01M454.0 86.6h.01M448.3 89.2h.01M440.2 89.3h.01M442.3 101.7h.01M441.3 88.4h.01M432.8 88.3h.01M433.9 86.6h.01M429.3 84.5h.01M451.0 93.2h.01M436.6 88.9h.01M452.5 90.4h.01M437.3 93.2h.01M436.6 90.0h.01M445.9 91.7h.01M440.2 103.1h.01M454.0 95.9h.01M452.8 93.7h.01M446.3 87.8h.01M442.1 94.9h.01M443.1 84.9h.01M441.2 88.7h.01M433.3 84.3h.01M447.5 77.5h.01M445.1 99.2h.01M441.2 95.6h.01M446.1 88.5h.01M436.1 88.3h.01M446.0 91.5h.01M444.2 98.9h.01M448.0 90.6h.01M448.0 86.9h.01M432.9 87.9h.01M449.5 94.1h.01M446.6 94.7h.01M442.2 100.8h.01M442.5 90.5h.01M447.1 85.2h.01M451.3 100.7h.01M446.7 88.2h.01M454.3 87.9h.01M445.0 92.3h.01M451.9 83.7h.01M452.7 97.9h.01M446.1 83.6h.01M452.9 76.9h.01M440.1 102.0h.01M449.2 89.5h.01M441.6 83.7h.01M449.1 85.7h.01M444.3 96.5h.01M442.1 91.1h.01M452.3 82.3h.01M445.4 101.3h.01M443.7 89.3h.01M446.7 81.9h.01M444.1 94.6h.01M443.1 102.1h.01M435.1 94.3h.01M446.4 94.4h.01M438.4 102.0h.01M446.1 94.0h.01M445.0 89.4h.01M443.9 89.8h.01M445.2 100.9h.01M449.0 87.6h.01M443.7 92.5h.01M442.8 95.8h.01M447.1 82.8h.01M446.5 84.8h.01M444.1 89.0h.01M441.6 95.3h.01M443.2 101.6h.01M446.1 97.2h.01M442.8 103.7h.01M440.9 86.7h.01M436.0 101.3h.01M450.6 89.6h.01M435.0 87.1h.01M444.8 96.6h.01M450.2 96.3h.01M445.4 88.5h.01M429.7 99.6h.01M439.6 92.7h.01M451.2 81.3h.01M443.0 94.2h.01M439.1 84.5h.01M452.2 87.9h.01M442.7 98.7h.01M443.6 98.3h.01M433.1 94.6h.01M455.4 84.4h.01M430.9 94.1h.01M453.0 102.4h.01M437.9 82.6h.01M430.6 101.5h.01M455.5 93.8h.01M447.3 86.7h.01M446.8 88.3h.01M445.1 85.3h.01M441.9 94.1h.01M447.8 82.8h.01M457.9 100.8h.01M446.0 97.7h.01M438.8 96.0h.01M455.2 82.8h.01M441.5 87.7h.01M446.6 93.4h.01M437.8 91.1h.01M430.2 97.6h.01M440.6 94.9h.01M442.1 93.8h.01M451.8 89.0h.01M439.4 90.3h.01M445.0 97.2h.01M439.0 92.3h.01M452.0 91.0h.01M445.5 93.9h.01M447.7 96.7h.01M447.3 79.7h.01M445.8 102.4h.01M438.6 94.7h.01M443.4 91.6h.01M452.5 95.6h.01M443.0 86.6h.01M453.9 86.6h.01M444.3 94.1h.01M437.4 89.1h.01M445.3 93.8h.01M443.6 92.1h.01M444.4 83.6h.01M443.9 98.4h.01M445.4 95.8h.01M449.2 102.0h.01M436.7 94.8h.01M439.3 100.9h.01M438.4 87.0h.01M439.5 96.8h.01M441.8 85.5h.01M443.4 89.9h.01M443.0 95.7h.01M445.5 91.2h.01M434.6 96.1h.01M446.8 82.6h.01M443.7 96.1h.01M443.7 87.2h.01M444.1 86.5h.01M445.5 84.2h.01M451.4 76.0h.01M433.3 104.2h.01M456.2 92.8h.01M451.8 93.4h.01M437.8 98.6h.01M443.5 95.8h.01M446.5 84.6h.01M445.2 85.0h.01M454.2 94.3h.01M446.2 98.6h.01M449.3 92.0h.01M440.3 83.2h.01M441.1 87.1h.01M444.1 83.1h.01M446.9 99.1h.01M437.7 86.4h.01M446.5 96.9h.01M443.6 94.2h.01M439.8 99.9h.01M442.0 90.3h.01M444.7 89.0h.01M445.0 88.6h.01M448.4 94.6h.01M440.7 91.6h.01M454.7 82.6h.01M443.1 101.8h.01M442.6 84.7h.01M445.9 91.7h.01M442.7 96.6h.01M446.9 98.0h.01M446.0 91.2h.01M447.4 87.6h.01M456.8 93.1h.01M444.5 96.1h.01M448.9 95.8h.01M447.5 94.6h.01M445.0 99.9h.01M440.6 93.7h.01M435.6 90.3h.01M444.2 86.6h.01M453.5 86.8h.01M439.2 89.4h.01M443.6 94.8h.01M450.7 86.6h.01M455.2 99.9h.01M446.1 91.0h.01M443.8 87.8h.01M434.8 89.5h.01M441.2 97.7h.01M443.2 88.6h.01M440.9 87.5h.01M448.5 91.6h.01M444.6 90.3h.01M444.6 95.0h.01M449.0 97.9h.01M449.5 101.5h.01M451.3 96.8h.01M446.8 89.6h.01M446.9 102.0h.01M432.5 94.6h.01M442.1 97.1h.01M449.9 90.5h.01M456.3 89.3h.01M447.1 99.2h.01M447.6 90.9h.01M450.5 83.6h.01M445.0 83.9h.01M456.2 100.9h.01M452.7 98.3h.01" stroke="#444" stroke-width="0.6" stroke-linecap="round" fill="none" opacity="0.62"/>
<path d="M425.0 85.0h.01M423.1 84.4h.01M426.0 88.9h.01M432.3 88.2h.01M428.6 83.5h.01M428.3 85.5h.01M424.5 90.6h.01M423.2 91.2h.01M432.7 82.9h.01M442.6 85.2h.01M435.5 96.4h.01M424.7 81.5h.01M441.8 92.6h.01M417.3 94.5h.01M428.2 85.8h.01M441.6 93.9h.01M425.7 93.0h.01M425.7 86.2h.01M435.1 102.9h.01M421.3 83.0h.01M430.9 96.3h.01M426.5 90.8h.01M423.9 92.2h.01M429.3 91.0h.01M438.9 87.1h.01M425.8 89.0h.01M423.3 83.3h.01M422.1 91.2h.01M435.7 101.5h.01M421.2 93.7h.01M426.5 98.8h.01M420.5 83.7h.01M432.5 85.7h.01M426.3 92.2h.01M423.1 96.3h.01M431.2 96.1h.01M441.4 94.4h.01M422.3 80.3h.01M426.3 85.1h.01M425.4 86.3h.01M417.1 87.8h.01M426.7 86.8h.01M418.7 101.8h.01M432.5 72.8h.01M429.5 94.3h.01M434.8 98.0h.01M425.7 80.9h.01M427.6 82.7h.01M419.9 82.8h.01M419.1 86.7h.01M426.4 81.9h.01M431.1 96.3h.01M419.4 94.5h.01M419.8 88.5h.01M420.3 95.7h.01M427.1 91.7h.01M424.7 84.1h.01M417.1 94.0h.01M422.5 94.8h.01M440.2 92.4h.01M431.3 88.9h.01M420.0 92.3h.01M439.8 96.3h.01M428.7 86.5h.01M425.7 101.8h.01M428.3 83.5h.01M422.1 94.3h.01M430.2 77.7h.01M428.2 88.3h.01M424.3 83.4h.01M427.5 93.0h.01M425.7 88.4h.01M429.8 81.3h.01M434.8 87.0h.01M433.6 96.5h.01M421.3 93.5h.01M436.2 86.1h.01M429.6 94.5h.01M421.0 98.6h.01M422.6 97.7h.01M427.7 86.9h.01M424.8 84.8h.01M442.2 85.1h.01M421.5 99.4h.01M431.5 95.6h.01M418.9 84.0h.01M425.0 92.5h.01M432.4 97.3h.01M428.8 96.3h.01M414.9 80.8h.01M420.7 90.5h.01M421.2 88.1h.01M426.8 87.0h.01M425.4 98.5h.01M429.5 88.7h.01M427.3 94.5h.01M427.4 97.1h.01M416.7 98.2h.01M419.5 95.5h.01M416.4 98.3h.01M432.0 86.8h.01M430.7 88.5h.01M434.5 89.8h.01M423.2 84.8h.01M425.5 94.7h.01M431.0 86.6h.01M423.5 83.6h.01M421.3 90.2h.01M428.8 96.7h.01M422.3 83.0h.01M437.0 91.2h.01M423.6 92.1h.01M425.7 95.8h.01M429.9 83.1h.01M423.5 95.7h.01M424.5 96.5h.01M419.0 101.2h.01M428.6 80.5h.01M433.6 84.3h.01M427.6 92.4h.01M428.8 95.6h.01M419.6 87.2h.01M426.1 84.6h.01M445.0 96.6h.01M425.5 104.6h.01M433.5 97.8h.01M416.9 102.5h.01M425.1 94.1h.01M430.0 103.0h.01M436.0 89.7h.01M423.6 85.8h.01M425.6 94.0h.01M428.1 90.8h.01M421.1 86.8h.01M428.9 97.9h.01M430.8 88.8h.01M431.0 99.5h.01M421.4 84.0h.01M432.1 103.9h.01M429.3 93.8h.01M426.4 99.4h.01M417.2 92.3h.01M423.9 76.3h.01M424.0 91.4h.01M426.7 89.8h.01M424.4 94.5h.01M416.2 83.7h.01M430.0 95.2h.01M432.3 82.4h.01" stroke="#444" stroke-width="0.6" stroke-linecap="round" fill="none" opacity="0.62"/>
<path d="M421.5 87 C424 84 427 80 429 75 C430.5 70 431.5 62 432.6 52.4 C433.6 60 434 66 435 70.5 C435.6 73 436 74 436.5 75 L436.5 63.3 C438 65 440 67 441.5 68.7 C444 71 446 73 447 75 C449 78 450 79.5 450.3 81.5 C451.3 84 451.3 86 450.8 88 C450 91 449 92.5 447.7 93.8 C445.5 96 443.5 97 441.5 97.5 C439.5 98.2 438 98.4 436.8 98.3 L430 95Z" fill="#fff" stroke="#fff" stroke-width="0.01" />
<ellipse cx="427.5" cy="91.5" rx="8.8" ry="7" transform="rotate(-40 427.5 91.5)" fill="#fff" stroke="#333" stroke-width="0.5" opacity="1"/>
<ellipse cx="427.5" cy="91.5" rx="8.8" ry="7" transform="rotate(-40 427.5 91.5)" fill="none" stroke="#333" stroke-width="0.55" opacity="1"/>
<ellipse cx="427.5" cy="91.5" rx="7.2" ry="5.6" transform="rotate(-40 427.5 91.5)" fill="none" stroke="#333" stroke-width="0.55" opacity="1"/>
<ellipse cx="427.5" cy="91.5" rx="5.6" ry="4.2" transform="rotate(-40 427.5 91.5)" fill="none" stroke="#333" stroke-width="0.55" opacity="1"/>
<ellipse cx="427.5" cy="91.5" rx="4.0" ry="2.8" transform="rotate(-40 427.5 91.5)" fill="none" stroke="#333" stroke-width="0.55" opacity="1"/>
<ellipse cx="427.5" cy="91.5" rx="4.0" ry="2.8" transform="rotate(-40 427.5 91.5)" fill="#aaa" stroke="#444" stroke-width="0.4" opacity="0.7"/>
<ellipse cx="427.8" cy="91.2" rx="1.6" ry="0.8" transform="rotate(-40 427.8 91.2)" fill="#eee" stroke="#eee" stroke-width="0.3" opacity="0.9"/>
<path d="M421.5 87 C424 84 427 80 429 75 C430.5 70 431.5 62 432.6 52.4 C433.6 60 434 66 435 70.5 C435.6 73 436 74 436.5 75" fill="none" stroke="#333" stroke-width="0.7" />
<path d="M436.5 63.3 C438 65 440 67 441.5 68.7 C444 71 446 73 447 75 C449 78 450 79.5 450.3 81.5 C451.3 84 451.3 86 450.8 88 C450 91 449 92.5 447.7 93.8 C445.5 96 443.5 97 441.5 97.5 C439.5 98.2 438 98.4 436.8 98.3" fill="none" stroke="#333" stroke-width="0.7" />
<path d="M436.8 84.2 C440 83.5 445 83.5 447.8 86 C449 88.5 448 91.5 446 93 C443.5 95 440 95.8 436.8 95.2" fill="none" stroke="#333" stroke-width="0.7" />
<ellipse cx="443" cy="88.5" rx="0.7" ry="0.7" transform="rotate(0 443 88.5)" fill="none" stroke="#333" stroke-width="0.4" opacity="1"/>
<rect x="413.5" y="22.3" width="85.30000000000001" height="84.7" fill="none" stroke="#111" stroke-width="1"/>
<line x1="436.5" y1="22.3" x2="436.5" y2="107" stroke="#111" stroke-width="0.9"/>
<line x1="413.5" y1="82.9" x2="498.8" y2="82.9" stroke="#111" stroke-width="0.9"/>
<text x="415.1" y="31.700000000000003" font-size="8.4" stroke="#1a1a1a" stroke-width="0.2" text-anchor="start" fill="#1a1a1a" >9.5</text>
<text x="497.2" y="31.700000000000003" font-size="8.4" stroke="#1a1a1a" stroke-width="0.2" text-anchor="end" fill="#1a1a1a" >7.9</text>
<text x="415.7" y="106.1" font-size="8.4" stroke="#1a1a1a" stroke-width="0.2" text-anchor="start" fill="#1a1a1a" >73.5</text>
<text x="497.2" y="106.1" font-size="8.4" stroke="#1a1a1a" stroke-width="0.2" text-anchor="end" fill="#1a1a1a" >9.0</text>
<text x="411.8" y="114.2" font-size="3.6" fill="#777">10<tspan dy="-1.4" font-size="2.6">0</tspan></text>
<text x="432.9" y="114.2" font-size="3.6" fill="#777">10<tspan dy="-1.4" font-size="2.6">1</tspan></text>
<text x="453.9" y="114.2" font-size="3.6" fill="#777">10<tspan dy="-1.4" font-size="2.6">2</tspan></text>
<text x="475.0" y="114.2" font-size="3.6" fill="#777">10<tspan dy="-1.4" font-size="2.6">3</tspan></text>
<text x="496.1" y="114.2" font-size="3.6" fill="#777">10<tspan dy="-1.4" font-size="2.6">4</tspan></text>
<text x="404.7" y="107.7" font-size="3.6" fill="#777">10<tspan dy="-1.4" font-size="2.6">0</tspan></text>
<text x="404.7" y="86.8" font-size="3.6" fill="#777">10<tspan dy="-1.4" font-size="2.6">1</tspan></text>
<text x="404.7" y="65.9" font-size="3.6" fill="#777">10<tspan dy="-1.4" font-size="2.6">2</tspan></text>
<text x="404.7" y="44.9" font-size="3.6" fill="#777">10<tspan dy="-1.4" font-size="2.6">3</tspan></text>
<text x="404.7" y="24.0" font-size="3.6" fill="#777">10<tspan dy="-1.4" font-size="2.6">4</tspan></text>
<path d="M328.3 180.8h.01M327.1 159.2h.01M327.0 183.5h.01M324.5 175.3h.01M326.4 179.7h.01M327.0 177.9h.01M322.2 165.3h.01M320.3 180.9h.01M327.4 175.3h.01M331.6 161.5h.01M330.6 161.4h.01M320.7 165.3h.01M324.3 167.5h.01M325.1 175.0h.01M327.8 163.3h.01M321.9 177.3h.01M328.6 180.4h.01M328.3 151.3h.01M327.9 163.6h.01M327.6 184.9h.01M325.2 160.0h.01M324.2 175.2h.01M327.9 159.5h.01M327.2 160.8h.01M323.1 181.8h.01M326.9 147.3h.01M321.8 183.3h.01M319.7 182.1h.01M326.7 156.1h.01M323.5 176.6h.01M330.4 157.2h.01M324.8 174.3h.01M326.2 196.8h.01M330.4 175.2h.01M321.9 167.2h.01M322.7 167.0h.01M324.4 168.2h.01M326.9 167.6h.01M327.5 182.8h.01M323.1 154.4h.01M324.7 146.1h.01M325.9 170.5h.01M324.6 189.0h.01M326.8 181.2h.01M326.2 163.7h.01M319.4 165.5h.01M326.2 158.9h.01M323.0 171.0h.01M330.9 165.7h.01M325.0 161.5h.01M326.0 157.4h.01M327.0 160.1h.01M329.6 158.9h.01M321.5 174.1h.01M327.6 157.4h.01M325.9 169.7h.01M330.0 159.8h.01M319.6 171.0h.01M326.6 178.1h.01M325.6 150.0h.01M317.0 194.7h.01M325.1 167.3h.01M326.1 173.1h.01M323.4 165.7h.01M324.4 181.9h.01M330.5 181.7h.01M328.3 158.2h.01M322.9 173.1h.01M323.7 163.8h.01M333.2 166.3h.01M326.1 149.6h.01M326.7 172.7h.01M324.3 174.6h.01M316.7 184.5h.01M331.0 146.4h.01M325.3 177.7h.01M327.8 171.5h.01M328.6 174.9h.01M323.0 185.5h.01M322.1 164.2h.01M322.8 186.9h.01M324.9 153.8h.01M322.1 172.0h.01M325.1 173.0h.01M321.2 172.9h.01M326.4 190.2h.01M330.8 155.5h.01M327.7 158.5h.01M326.0 177.9h.01M327.0 138.3h.01M325.7 170.8h.01M323.3 178.0h.01M324.5 166.8h.01M327.6 161.8h.01M328.1 164.8h.01M324.4 176.4h.01M329.6 167.1h.01M326.2 166.5h.01M321.1 164.9h.01M332.7 167.9h.01M327.3 176.6h.01M329.2 170.2h.01M327.9 167.9h.01M332.3 174.7h.01M324.2 184.0h.01M322.2 180.9h.01M332.9 159.7h.01M327.6 164.2h.01M325.9 168.1h.01M318.4 182.8h.01M324.7 180.5h.01M323.9 165.9h.01M325.5 154.5h.01M330.1 184.3h.01M329.1 177.7h.01M324.2 174.9h.01M333.5 188.7h.01M327.3 158.5h.01M329.6 142.3h.01M329.2 164.2h.01M324.0 183.1h.01M330.5 168.3h.01M324.0 151.3h.01M321.7 177.4h.01M327.1 164.1h.01M326.1 168.1h.01M321.9 166.4h.01M328.2 190.0h.01M323.5 172.5h.01M321.6 177.5h.01M325.3 170.3h.01M328.8 179.8h.01M326.6 176.3h.01M329.0 149.7h.01M327.2 165.5h.01M330.5 170.9h.01M323.6 163.8h.01M328.6 171.6h.01M324.8 184.6h.01M327.6 169.2h.01M329.1 178.0h.01M326.8 175.0h.01M316.5 181.4h.01M323.7 178.5h.01M323.7 170.9h.01M321.0 179.5h.01M321.9 187.3h.01M325.7 174.7h.01M323.8 161.2h.01M326.9 167.5h.01M326.5 153.7h.01M324.1 174.1h.01M322.5 157.8h.01M322.0 171.9h.01M324.9 156.1h.01M323.6 173.1h.01M321.6 172.9h.01M334.7 149.0h.01M323.2 166.4h.01M325.2 185.3h.01M325.9 161.7h.01M324.1 131.1h.01M318.9 186.0h.01M321.1 175.9h.01M327.2 164.6h.01M318.8 195.7h.01M327.6 173.9h.01M320.4 172.3h.01M322.1 151.2h.01M325.5 169.5h.01M326.1 171.3h.01M324.8 171.0h.01M321.5 167.2h.01M325.8 190.8h.01M318.0 183.9h.01M322.1 181.7h.01M323.4 167.6h.01M325.6 169.0h.01M324.8 179.7h.01M328.7 161.5h.01M327.8 172.3h.01M322.2 157.0h.01M328.7 182.4h.01M322.1 178.3h.01M322.3 175.4h.01M332.3 169.0h.01M330.4 161.5h.01M325.4 164.2h.01M330.7 174.9h.01M324.5 156.2h.01M324.0 177.9h.01M329.2 163.8h.01M328.1 171.4h.01M324.6 173.3h.01M332.1 167.2h.01M325.7 169.1h.01M324.1 172.6h.01M326.1 150.2h.01M328.1 151.2h.01M325.8 171.3h.01M329.5 182.0h.01M328.0 158.5h.01M324.6 191.6h.01M327.0 176.8h.01M334.0 171.0h.01M320.4 179.3h.01M327.7 156.4h.01M330.8 168.8h.01M333.3 158.0h.01M329.2 179.3h.01M325.2 179.6h.01M318.7 197.2h.01M328.2 174.5h.01M330.8 197.8h.01M320.8 170.1h.01M320.6 167.3h.01M323.2 179.6h.01M326.5 152.9h.01M327.9 164.0h.01M329.4 155.6h.01M323.1 164.8h.01M324.5 168.1h.01M327.2 175.6h.01M326.0 172.5h.01M325.7 152.5h.01M324.3 164.9h.01M325.9 149.7h.01M324.3 164.5h.01M323.0 165.5h.01M324.9 176.2h.01M329.1 158.5h.01M327.4 167.3h.01M324.3 183.0h.01M327.6 173.5h.01M322.4 166.6h.01M329.4 162.5h.01M323.7 158.8h.01M326.8 159.8h.01M333.9 170.7h.01M326.3 164.5h.01M326.8 175.1h.01M325.0 165.1h.01M328.9 171.8h.01M327.8 170.5h.01M323.7 174.9h.01M327.8 170.3h.01M324.9 179.7h.01M322.7 175.1h.01M325.1 171.9h.01M329.1 154.8h.01M325.3 170.0h.01M324.5 193.5h.01M323.4 171.8h.01M329.6 149.3h.01M327.4 179.2h.01M324.3 167.8h.01M322.8 183.7h.01M324.5 156.2h.01M323.9 162.5h.01M325.9 170.9h.01M329.9 151.5h.01M326.7 167.6h.01M326.2 163.3h.01M323.9 176.0h.01M330.1 154.6h.01M327.6 160.8h.01M327.9 166.8h.01M322.0 162.3h.01M325.1 180.7h.01M329.0 181.8h.01M325.8 175.5h.01M323.7 185.4h.01M323.8 159.7h.01M329.5 155.6h.01M325.5 183.2h.01M326.1 177.2h.01M326.0 173.6h.01M320.5 188.2h.01M325.1 166.0h.01M325.3 184.5h.01M324.8 169.5h.01M328.2 178.1h.01M324.7 167.3h.01M326.4 162.0h.01M322.9 162.6h.01M320.1 192.1h.01M322.5 176.8h.01M320.3 164.4h.01M330.7 168.9h.01M321.2 165.5h.01M322.1 148.5h.01M330.7 166.9h.01M325.3 184.0h.01M323.3 172.8h.01M326.4 162.4h.01M325.5 157.6h.01M320.8 177.3h.01M326.4 137.1h.01M330.9 170.2h.01M324.0 186.2h.01M318.3 170.2h.01M322.6 173.2h.01M328.7 172.2h.01M323.1 167.9h.01M327.7 177.9h.01M327.0 173.0h.01M322.7 173.3h.01M321.8 169.7h.01M324.0 173.7h.01M329.2 171.9h.01M328.0 168.5h.01M323.4 177.6h.01M326.2 157.2h.01M325.7 168.9h.01M326.5 175.6h.01M322.9 178.0h.01M318.3 188.4h.01M321.5 175.1h.01M329.9 166.7h.01M321.7 158.1h.01M324.9 172.5h.01M329.3 166.7h.01M324.7 167.9h.01M326.2 159.4h.01M324.5 162.9h.01M328.4 165.0h.01M322.9 192.9h.01M325.3 178.6h.01M316.9 171.9h.01M326.7 175.1h.01M326.1 165.9h.01M320.3 179.5h.01M325.6 151.0h.01M329.1 185.8h.01M321.0 185.5h.01M319.0 173.7h.01M323.1 171.0h.01M326.8 180.6h.01M327.1 172.1h.01M329.0 160.0h.01M326.9 165.3h.01M322.1 171.3h.01M326.9 175.5h.01M330.3 162.0h.01M321.5 168.9h.01M331.7 149.5h.01M324.8 168.0h.01M327.1 165.3h.01M325.2 176.0h.01M321.6 168.6h.01M322.0 172.8h.01M327.6 183.7h.01M323.2 167.6h.01M330.6 147.8h.01M334.2 155.6h.01M327.9 174.8h.01M323.1 172.5h.01M326.9 146.2h.01M327.1 180.1h.01M332.0 165.8h.01" stroke="#444" stroke-width="0.6" stroke-linecap="round" fill="none" opacity="0.62"/>
<path d="M334.4 171.6h.01M331.0 173.6h.01M337.7 162.6h.01M331.7 203.8h.01M342.6 171.6h.01M341.9 181.6h.01M326.5 182.0h.01M336.3 194.3h.01M336.4 173.7h.01M337.9 172.6h.01M325.9 190.0h.01M331.1 184.7h.01M341.6 173.4h.01M334.6 168.5h.01M332.7 163.4h.01M331.2 189.7h.01M336.1 164.3h.01M337.5 172.5h.01M334.8 186.9h.01M348.5 164.6h.01M338.3 165.5h.01M339.9 150.5h.01M321.4 175.7h.01M334.9 166.4h.01M336.6 176.2h.01M332.4 158.9h.01M337.0 168.7h.01M348.4 172.8h.01M335.6 179.3h.01M338.3 165.8h.01M340.8 145.6h.01M331.3 163.4h.01M342.6 171.0h.01M331.6 156.1h.01M334.3 169.2h.01M336.4 187.2h.01M338.2 172.9h.01M335.0 191.4h.01M332.7 166.5h.01M342.5 166.8h.01M335.8 185.4h.01M339.8 161.1h.01M330.7 175.9h.01M343.0 169.1h.01M338.0 184.5h.01M333.4 182.1h.01M336.5 167.6h.01M332.6 169.2h.01M330.6 156.6h.01M330.1 173.0h.01M335.0 178.9h.01M331.0 168.7h.01M336.4 190.2h.01M332.3 169.7h.01M334.7 192.8h.01M346.3 154.3h.01M336.2 174.6h.01M336.0 168.0h.01M341.7 156.1h.01M333.2 180.9h.01M335.9 163.5h.01M330.2 185.4h.01M335.0 155.4h.01M338.6 175.2h.01M336.2 173.0h.01M333.6 157.7h.01M342.1 163.4h.01M341.4 163.7h.01M332.9 168.7h.01M325.8 175.5h.01M336.2 170.0h.01M334.3 176.2h.01M333.4 159.7h.01M326.1 173.5h.01M337.0 164.9h.01M343.1 174.0h.01M331.8 159.7h.01M335.3 169.9h.01M327.9 176.2h.01M335.6 167.8h.01M342.1 188.8h.01M334.1 167.8h.01M335.6 143.6h.01M341.7 157.4h.01M337.5 165.2h.01M328.2 174.4h.01M334.7 175.5h.01M342.1 156.4h.01M338.1 170.3h.01M326.8 158.8h.01M330.9 153.0h.01M340.5 179.9h.01M337.5 179.9h.01M338.7 181.0h.01M342.4 175.4h.01M332.0 148.9h.01M337.0 165.3h.01M341.1 159.3h.01M341.7 164.9h.01M342.0 179.6h.01M340.4 200.9h.01M327.6 163.0h.01M332.5 170.2h.01M333.9 153.7h.01M332.8 172.1h.01M329.6 178.7h.01M336.4 177.0h.01M329.8 171.3h.01M339.5 174.1h.01M340.1 168.6h.01M337.7 159.9h.01M340.4 177.4h.01M342.9 155.2h.01M342.8 176.0h.01M333.4 160.3h.01M334.6 157.3h.01M338.2 187.0h.01M338.6 177.7h.01M340.8 157.8h.01M329.5 168.2h.01M332.0 170.2h.01M335.7 169.1h.01M335.6 172.7h.01M346.3 170.0h.01M335.4 164.1h.01M339.3 162.4h.01M339.8 153.8h.01M331.5 157.5h.01M334.0 192.5h.01M329.6 164.2h.01M338.9 162.4h.01M332.5 175.8h.01M343.8 181.9h.01M335.3 157.1h.01M328.1 162.5h.01M340.0 175.1h.01M335.3 156.2h.01M333.0 169.9h.01M336.4 187.7h.01M329.1 193.3h.01M347.5 152.3h.01M334.6 184.1h.01M339.4 177.1h.01M340.8 176.7h.01M344.2 165.1h.01M333.6 177.1h.01M338.0 168.5h.01M342.8 150.9h.01M345.7 183.0h.01M334.5 160.4h.01M330.5 177.0h.01M327.9 165.3h.01M340.1 163.7h.01M344.2 171.7h.01M333.6 155.7h.01M337.9 172.3h.01M340.4 163.5h.01M324.2 174.7h.01M337.5 186.1h.01M341.4 176.2h.01M336.8 163.0h.01M339.4 138.6h.01M341.5 151.5h.01M343.7 164.3h.01M329.0 162.9h.01M339.8 154.3h.01M335.6 163.4h.01M333.8 178.9h.01M342.6 154.2h.01M330.3 206.7h.01M337.9 171.7h.01M335.4 174.2h.01M340.8 166.8h.01M328.7 184.7h.01M330.5 166.1h.01M331.5 174.6h.01M340.2 167.7h.01M331.6 167.5h.01M337.7 175.3h.01M328.5 168.5h.01M335.0 171.6h.01M338.9 167.6h.01M337.7 167.7h.01M335.4 164.5h.01M335.3 182.5h.01M337.6 157.2h.01M332.1 175.7h.01M333.0 168.5h.01M339.4 167.9h.01M339.5 181.4h.01M331.2 185.1h.01M342.7 174.9h.01M328.3 190.2h.01M334.2 182.0h.01M333.3 183.3h.01M334.0 187.4h.01M329.8 179.5h.01M334.3 182.7h.01M330.3 162.8h.01M334.5 159.4h.01M338.2 173.1h.01M337.8 176.2h.01M338.1 186.3h.01M329.7 191.6h.01M336.2 179.0h.01M337.1 176.2h.01M335.1 155.5h.01M334.9 191.8h.01M335.2 158.5h.01M332.2 158.7h.01M334.5 171.8h.01M327.8 191.3h.01M331.2 181.9h.01M342.3 181.3h.01M340.0 161.5h.01M332.0 180.1h.01M335.9 178.2h.01M340.3 183.5h.01M325.4 167.5h.01M345.8 164.9h.01M345.1 162.8h.01M338.8 171.1h.01M345.8 167.0h.01M332.6 158.6h.01M331.8 174.6h.01M339.1 182.2h.01M335.7 176.0h.01M341.3 158.9h.01M339.7 163.2h.01M333.6 165.3h.01M338.5 162.9h.01M333.9 157.6h.01M335.4 174.3h.01M331.0 170.8h.01M338.3 162.7h.01M337.4 179.5h.01M338.1 161.8h.01M335.9 167.7h.01M342.0 179.7h.01M334.3 170.0h.01M325.7 174.1h.01M331.4 179.3h.01M331.4 176.5h.01M345.0 177.3h.01M333.2 164.4h.01M335.4 177.5h.01M345.0 161.3h.01M331.3 180.9h.01M333.8 167.2h.01M343.4 174.5h.01M338.6 183.4h.01M337.4 170.3h.01M338.8 185.2h.01M327.7 145.3h.01M334.4 157.5h.01M347.6 173.3h.01M327.5 171.0h.01M344.3 176.5h.01M333.3 171.0h.01M334.8 172.5h.01M334.0 165.7h.01M336.2 162.9h.01M335.3 154.4h.01M335.9 141.3h.01M333.4 187.3h.01M327.8 184.7h.01M341.2 152.1h.01M334.1 164.3h.01M347.6 153.4h.01M340.6 166.9h.01M340.6 154.0h.01M342.1 152.1h.01M331.9 173.1h.01M339.5 153.4h.01M328.1 163.4h.01M337.2 170.4h.01M334.4 171.1h.01M337.9 165.8h.01M339.3 164.4h.01M340.5 185.3h.01M335.2 158.8h.01M332.4 161.0h.01M341.9 165.8h.01M331.9 166.4h.01M330.0 179.2h.01M340.9 182.2h.01M344.0 161.7h.01M332.7 166.7h.01M337.9 173.1h.01M328.0 163.4h.01M338.8 164.5h.01M338.0 148.3h.01M327.5 172.4h.01M337.4 180.1h.01M329.4 167.8h.01M332.7 173.0h.01M340.1 161.4h.01M333.4 173.9h.01M329.4 171.5h.01M331.3 183.2h.01M335.8 170.0h.01M340.3 167.9h.01M326.2 160.7h.01M336.6 174.2h.01M336.8 176.7h.01M340.5 158.6h.01M339.8 172.7h.01M333.8 169.3h.01M331.4 194.1h.01M333.2 172.8h.01M334.9 166.5h.01M330.2 167.4h.01M340.7 178.3h.01M332.5 188.2h.01M330.4 152.0h.01M334.6 165.1h.01M338.1 187.4h.01M337.4 166.0h.01M333.0 174.6h.01M327.2 174.3h.01M330.1 162.3h.01M337.5 160.4h.01M333.9 161.9h.01M330.9 172.0h.01M335.6 163.6h.01M338.3 164.1h.01M331.6 191.2h.01M340.8 169.2h.01M337.8 169.1h.01M339.5 168.0h.01M343.6 174.9h.01M339.3 187.3h.01M338.8 170.4h.01M335.0 173.8h.01M332.3 171.7h.01M337.1 156.1h.01M345.3 165.6h.01M339.6 193.9h.01M341.7 160.8h.01M333.9 168.6h.01M334.6 177.5h.01M337.5 185.7h.01M331.8 188.0h.01M329.7 159.5h.01M343.1 182.6h.01M330.2 168.7h.01M335.7 188.5h.01M329.8 180.2h.01M334.6 166.5h.01M332.8 188.8h.01M342.7 172.1h.01M330.1 164.2h.01M333.2 181.8h.01M328.9 172.4h.01M340.9 176.7h.01M335.0 185.9h.01M335.8 178.1h.01M335.8 195.3h.01M329.1 188.2h.01M336.8 160.5h.01M336.0 169.4h.01M342.8 163.5h.01M340.0 179.7h.01M329.8 170.1h.01M332.3 195.3h.01M335.5 166.7h.01M342.0 147.7h.01M332.9 187.6h.01M343.8 151.4h.01M343.5 180.3h.01M335.1 191.5h.01M335.4 157.5h.01M344.0 158.0h.01M347.9 169.7h.01M330.6 160.9h.01M335.1 159.2h.01M331.1 169.7h.01M336.6 179.1h.01M342.7 151.2h.01M335.5 152.5h.01M330.7 168.6h.01M336.3 168.7h.01M324.6 180.2h.01M337.0 183.0h.01M339.2 174.5h.01M337.2 167.3h.01M340.4 149.8h.01M339.3 163.4h.01M340.8 165.5h.01M325.4 178.3h.01M330.3 164.5h.01M336.8 170.8h.01M335.9 175.6h.01M338.6 162.0h.01M343.4 165.7h.01M337.8 187.8h.01M333.3 183.2h.01M343.3 180.9h.01M338.9 154.7h.01M335.7 159.7h.01M338.7 177.8h.01M337.2 154.6h.01M338.2 176.8h.01M335.7 170.3h.01M341.0 174.0h.01M341.5 189.1h.01M340.6 184.8h.01M338.3 160.1h.01M323.7 159.3h.01M333.8 161.8h.01M340.0 168.8h.01M340.4 167.4h.01M332.7 174.7h.01M332.5 149.4h.01M335.9 162.9h.01M343.8 169.3h.01M327.8 168.5h.01M340.5 180.4h.01M339.6 149.9h.01M336.0 166.1h.01" stroke="#444" stroke-width="0.6" stroke-linecap="round" fill="none" opacity="0.558"/>
<path d="M331.9 195.7h.01M331.9 190.9h.01M330.2 197.2h.01M327.9 187.8h.01M334.4 200.1h.01M335.8 197.9h.01M340.2 183.2h.01M337.7 199.4h.01M341.6 187.6h.01M347.4 192.2h.01M334.5 197.3h.01M335.0 202.7h.01M338.0 195.5h.01M329.0 196.7h.01M336.2 197.8h.01M334.2 197.5h.01M336.3 197.1h.01M337.5 182.3h.01M342.0 198.1h.01M338.2 187.2h.01M332.7 206.5h.01M336.1 196.0h.01M337.7 193.7h.01M340.8 189.5h.01M336.7 195.8h.01M333.6 192.1h.01M332.0 186.6h.01M335.5 202.3h.01M336.9 207.8h.01M330.8 187.7h.01M334.0 193.4h.01M340.2 187.6h.01M329.7 194.2h.01M328.3 195.5h.01M331.8 193.9h.01M332.2 194.5h.01M339.8 195.2h.01M339.4 187.5h.01M336.2 202.5h.01M330.4 190.7h.01M330.4 196.9h.01M331.9 182.6h.01M328.0 193.9h.01M334.1 192.0h.01M334.8 200.6h.01M332.2 201.0h.01M334.6 188.8h.01M332.2 180.9h.01M338.0 202.7h.01M338.8 193.4h.01M340.2 186.8h.01M334.0 198.3h.01M336.4 188.7h.01M332.4 200.9h.01M333.8 181.4h.01M340.9 189.5h.01M336.7 200.6h.01M337.7 195.2h.01M333.7 198.4h.01M332.9 195.5h.01M332.6 189.5h.01M335.1 204.9h.01M334.6 196.3h.01M338.5 185.7h.01M337.4 191.2h.01M334.5 205.0h.01M341.3 208.5h.01M332.1 188.3h.01M338.1 196.7h.01M325.0 203.5h.01M338.3 201.9h.01M344.4 203.1h.01M334.9 183.1h.01M335.0 190.9h.01M335.1 196.8h.01M333.4 194.2h.01M335.9 198.7h.01M341.2 189.5h.01M336.2 198.0h.01M329.7 203.0h.01M340.7 201.7h.01M328.1 191.8h.01M334.4 196.6h.01M340.2 201.1h.01M328.2 194.5h.01M336.0 200.0h.01M336.9 207.3h.01M334.3 191.4h.01M334.8 193.2h.01M332.0 196.0h.01M335.6 184.7h.01M333.9 191.1h.01M340.5 197.5h.01M334.8 194.2h.01M339.5 183.2h.01M331.9 201.0h.01M329.7 183.0h.01M332.2 188.7h.01M335.5 187.5h.01M339.9 196.7h.01M331.9 198.0h.01M332.8 197.8h.01M332.5 205.0h.01M338.3 190.3h.01M336.2 192.2h.01M328.4 193.9h.01M335.8 188.7h.01M330.5 189.0h.01M333.9 197.6h.01M331.3 192.2h.01M339.5 188.9h.01M335.2 186.6h.01M335.0 191.5h.01M340.3 194.8h.01M332.9 192.6h.01M340.3 200.5h.01M334.1 185.5h.01M334.9 202.5h.01M335.6 185.8h.01M336.5 193.5h.01M335.1 194.0h.01M331.5 189.3h.01M338.7 198.0h.01M331.0 183.6h.01M339.2 198.6h.01M335.6 191.9h.01M342.4 185.4h.01M333.5 198.7h.01M336.7 198.6h.01M329.5 200.0h.01M339.7 191.8h.01M339.0 193.0h.01M335.0 194.9h.01M334.3 195.7h.01M339.9 203.7h.01M337.5 198.6h.01M330.2 193.7h.01M336.9 195.6h.01M333.2 189.1h.01M338.8 199.1h.01M337.4 196.2h.01M339.5 198.7h.01M341.7 192.2h.01M338.8 200.2h.01M333.5 186.5h.01M334.8 202.0h.01M331.2 193.9h.01M333.4 193.9h.01M324.7 204.1h.01M331.2 199.6h.01M335.2 183.1h.01M334.7 188.7h.01M334.4 190.8h.01M334.5 194.2h.01M335.9 198.8h.01M331.1 203.5h.01M343.1 196.7h.01M343.2 203.7h.01M340.2 192.2h.01M340.1 182.0h.01M327.5 199.1h.01M341.8 197.5h.01M330.9 186.0h.01M336.0 197.2h.01M329.6 193.7h.01M334.0 191.2h.01M325.4 187.9h.01M334.9 207.0h.01M340.8 192.6h.01M331.1 197.5h.01M333.0 195.7h.01M337.9 197.4h.01M339.0 207.4h.01M329.7 205.1h.01M327.1 189.6h.01M340.0 188.8h.01M332.2 196.5h.01M331.8 192.8h.01M335.6 193.3h.01M332.6 190.5h.01M330.6 198.9h.01M347.6 192.7h.01M328.7 207.8h.01M339.7 192.8h.01M332.6 193.3h.01M336.1 187.7h.01M335.7 180.4h.01M330.6 188.0h.01M333.0 194.0h.01M333.6 195.6h.01M333.4 197.4h.01M333.7 195.9h.01M332.7 192.1h.01M336.2 204.1h.01M335.6 194.5h.01M333.8 186.6h.01M330.8 195.6h.01M338.7 195.4h.01M331.4 194.1h.01M338.6 194.8h.01M339.1 185.2h.01M336.3 187.7h.01M327.3 195.0h.01M337.1 198.1h.01M339.6 195.6h.01M325.4 199.7h.01M338.7 192.2h.01M333.1 195.1h.01M335.1 187.1h.01M339.0 206.6h.01M337.5 196.1h.01M321.5 198.2h.01M337.0 198.9h.01M335.9 189.3h.01" stroke="#444" stroke-width="0.6" stroke-linecap="round" fill="none" opacity="0.62"/>
<path d="M320.9 193.3h.01M320.3 200.9h.01M321.3 191.0h.01M315.2 179.2h.01M328.9 191.7h.01M325.5 196.9h.01M320.5 198.0h.01M320.4 207.0h.01M317.6 192.1h.01M319.6 196.9h.01M327.5 188.0h.01M323.4 193.3h.01M319.9 199.2h.01M315.3 186.2h.01M311.4 192.4h.01M315.7 192.7h.01M314.0 177.0h.01M325.5 196.8h.01M325.3 204.2h.01M311.3 200.4h.01M313.9 176.3h.01M314.1 188.8h.01M328.9 191.7h.01M318.8 197.2h.01M321.6 192.6h.01M330.3 185.4h.01M313.6 177.4h.01M313.5 185.7h.01M317.1 190.8h.01M327.3 200.3h.01M317.5 195.2h.01M316.3 191.7h.01M313.9 185.0h.01M322.2 186.2h.01M314.9 196.6h.01M314.6 204.8h.01M323.1 189.5h.01M319.2 188.6h.01M327.6 194.6h.01M320.7 186.9h.01M328.0 193.6h.01M316.4 206.2h.01M321.5 190.3h.01M324.5 189.5h.01M319.3 201.7h.01M314.0 192.3h.01M319.5 196.7h.01M314.6 184.7h.01M318.3 186.4h.01M320.6 192.8h.01M320.7 195.1h.01M314.3 190.7h.01M320.9 203.7h.01M321.4 194.0h.01M330.1 190.1h.01M326.6 198.9h.01M313.8 193.5h.01M323.9 184.3h.01M327.1 189.6h.01M322.1 192.0h.01M321.9 187.7h.01M327.8 187.2h.01M328.2 191.2h.01M315.3 200.2h.01M320.4 191.3h.01M313.7 191.5h.01M319.1 186.8h.01M313.6 185.9h.01M314.4 202.2h.01M323.9 189.6h.01M314.3 192.5h.01M322.1 188.6h.01M318.9 201.8h.01M318.3 190.2h.01M325.9 192.7h.01M319.4 185.8h.01M324.9 195.3h.01M318.0 192.5h.01M326.6 192.7h.01M318.8 194.5h.01M320.1 201.3h.01M318.2 190.0h.01M316.0 194.6h.01M313.0 189.2h.01M311.7 192.5h.01M318.5 191.7h.01M316.8 186.3h.01M320.7 175.2h.01M314.2 206.5h.01M320.9 205.5h.01M329.3 194.5h.01M314.8 196.9h.01M315.2 194.1h.01M321.0 206.2h.01M318.8 192.1h.01M319.1 200.5h.01M315.7 190.4h.01M333.5 186.6h.01M322.5 198.1h.01M322.6 201.6h.01M318.4 205.7h.01M321.4 192.0h.01M322.4 194.6h.01M319.0 198.0h.01M315.7 197.2h.01M318.1 173.3h.01M325.2 192.8h.01M318.3 190.7h.01M312.0 183.4h.01M322.1 191.1h.01M317.2 181.2h.01M326.3 198.6h.01M328.1 195.9h.01M321.2 187.2h.01M328.1 194.2h.01M327.0 193.9h.01M317.0 199.3h.01M325.0 174.5h.01M317.7 198.2h.01M325.3 193.8h.01M316.0 196.4h.01M317.8 171.5h.01M310.4 197.0h.01M315.8 198.9h.01M324.3 173.9h.01M320.3 181.5h.01M325.2 178.1h.01M325.9 191.2h.01M319.5 194.6h.01M315.4 192.7h.01M335.8 194.1h.01M324.7 194.7h.01M321.6 182.3h.01M317.3 185.8h.01M327.9 202.2h.01" stroke="#444" stroke-width="0.6" stroke-linecap="round" fill="none" opacity="0.62"/>
<path d="M330 185 C333 186 335.3 188 335.2 191 C335 194.5 334 197.5 331.2 200.5Z" fill="#fff" stroke="#fff" stroke-width="0.01" />
<path d="M326.8 176.6 C321.8 183.6 321.8 183.6 316.4 193.0 C316.8 199.0 319.8 201.8 324.5 201.0 C327.3 198.0 328.6 190.0 328.3 181.0 Z" fill="#fff" stroke="#333" stroke-width="0.7" />
<path d="M325.9 180.5 C322.0 186.0 322.0 186.0 317.8 193.3 C318.1 198.0 320.5 200.2 324.1 199.6 C326.3 197.2 327.3 191.0 327.1 184.0 Z" fill="none" stroke="#333" stroke-width="0.5" />
<path d="M325.1 184.3 C322.2 188.3 322.2 188.3 319.2 193.6 C319.4 197.1 321.1 198.7 323.8 198.2 C325.4 196.5 326.1 191.9 325.9 186.8 Z" fill="none" stroke="#333" stroke-width="0.5" />
<path d="M324.3 187.7 C322.4 190.4 322.4 190.4 320.4 193.9 C320.5 196.2 321.7 197.3 323.4 197.0 C324.5 195.8 325.0 192.8 324.9 189.4 Z" fill="none" stroke="#333" stroke-width="0.5" />
<ellipse cx="323" cy="195" rx="1.1" ry="2.4" transform="rotate(20 323 195)" fill="#777" stroke="#333" stroke-width="0.4" opacity="0.8"/>
<path d="M330 185 C333 186 335.3 188 335.2 191 C335 194.5 334 197.5 331.2 200.5" fill="none" stroke="#333" stroke-width="0.7" />
<rect x="307.3" y="124.6" width="84.89999999999998" height="84.70000000000002" fill="none" stroke="#111" stroke-width="1"/>
<line x1="329.6" y1="124.6" x2="329.6" y2="209.3" stroke="#111" stroke-width="0.9"/>
<line x1="307.3" y1="187.2" x2="392.2" y2="187.2" stroke="#111" stroke-width="0.9"/>
<text x="308.90000000000003" y="134.0" font-size="8.4" stroke="#1a1a1a" stroke-width="0.2" text-anchor="start" fill="#1a1a1a" >11.4</text>
<text x="390.59999999999997" y="134.0" font-size="8.4" stroke="#1a1a1a" stroke-width="0.2" text-anchor="end" fill="#1a1a1a" >3.7</text>
<text x="309.5" y="208.4" font-size="8.4" stroke="#1a1a1a" stroke-width="0.2" text-anchor="start" fill="#1a1a1a" >80.6</text>
<text x="390.59999999999997" y="208.4" font-size="8.4" stroke="#1a1a1a" stroke-width="0.2" text-anchor="end" fill="#1a1a1a" >4.3</text>
<text x="305.6" y="216.5" font-size="3.6" fill="#777">10<tspan dy="-1.4" font-size="2.6">0</tspan></text>
<text x="326.6" y="216.5" font-size="3.6" fill="#777">10<tspan dy="-1.4" font-size="2.6">1</tspan></text>
<text x="347.6" y="216.5" font-size="3.6" fill="#777">10<tspan dy="-1.4" font-size="2.6">2</tspan></text>
<text x="368.5" y="216.5" font-size="3.6" fill="#777">10<tspan dy="-1.4" font-size="2.6">3</tspan></text>
<text x="389.5" y="216.5" font-size="3.6" fill="#777">10<tspan dy="-1.4" font-size="2.6">4</tspan></text>
<text x="298.5" y="210.0" font-size="3.6" fill="#777">10<tspan dy="-1.4" font-size="2.6">0</tspan></text>
<text x="298.5" y="189.1" font-size="3.6" fill="#777">10<tspan dy="-1.4" font-size="2.6">1</tspan></text>
<text x="298.5" y="168.1" font-size="3.6" fill="#777">10<tspan dy="-1.4" font-size="2.6">2</tspan></text>
<text x="298.5" y="147.2" font-size="3.6" fill="#777">10<tspan dy="-1.4" font-size="2.6">3</tspan></text>
<text x="298.5" y="126.3" font-size="3.6" fill="#777">10<tspan dy="-1.4" font-size="2.6">4</tspan></text>
<path d="M433.1 156.7h.01M425.8 160.7h.01M425.9 169.6h.01M423.9 170.6h.01M432.0 159.4h.01M433.0 158.9h.01M430.6 159.5h.01M440.2 154.9h.01M433.0 158.8h.01M425.6 179.6h.01M429.7 168.0h.01M423.9 160.8h.01M434.8 181.2h.01M422.8 149.8h.01M433.0 151.4h.01M432.7 157.7h.01M431.8 186.6h.01M436.8 157.8h.01M428.0 183.7h.01M426.9 168.3h.01M425.9 170.0h.01M435.3 169.0h.01M438.4 167.8h.01M428.8 188.7h.01M424.2 180.0h.01M426.2 161.4h.01M424.8 186.4h.01M422.6 184.1h.01M424.8 169.6h.01M432.9 170.4h.01M437.3 172.3h.01M425.5 166.3h.01M438.2 149.2h.01M417.3 191.1h.01M423.1 181.1h.01M433.7 160.6h.01M425.9 174.8h.01M425.9 179.7h.01M431.4 166.8h.01M436.5 169.9h.01M426.6 162.9h.01M424.1 188.6h.01M434.2 162.3h.01M427.5 169.5h.01M425.1 192.9h.01M429.7 159.5h.01M429.8 163.9h.01M433.3 171.0h.01M428.7 166.2h.01M427.6 166.7h.01M425.5 189.1h.01M423.1 184.0h.01M432.4 158.6h.01M435.7 175.9h.01M426.6 164.1h.01M431.1 156.0h.01M430.6 169.2h.01M435.5 167.8h.01M420.6 182.7h.01M435.8 161.1h.01M434.7 172.0h.01M424.4 177.2h.01M432.1 164.7h.01M433.5 162.0h.01M429.3 173.2h.01M431.0 176.2h.01M422.9 163.2h.01M429.6 178.8h.01M423.9 181.3h.01M423.9 183.2h.01M430.0 173.0h.01M427.0 159.9h.01M430.2 172.9h.01M430.2 166.1h.01M436.5 162.9h.01M429.8 180.6h.01M431.1 172.0h.01M421.6 188.4h.01M437.2 160.5h.01M429.5 157.5h.01M425.1 167.7h.01M426.4 169.5h.01M433.4 161.8h.01M423.5 178.9h.01M433.7 168.2h.01M425.7 174.2h.01M428.6 180.8h.01M432.1 162.8h.01M426.9 170.7h.01M426.7 159.3h.01M431.1 179.6h.01M428.6 186.1h.01M430.5 162.3h.01M428.3 180.0h.01M421.8 191.1h.01M437.5 156.1h.01M425.2 177.4h.01M428.5 182.7h.01M431.8 168.8h.01M427.2 174.4h.01M433.4 162.1h.01M428.8 170.1h.01M431.2 156.5h.01M435.6 152.6h.01M431.8 160.8h.01M426.6 185.8h.01M436.1 180.1h.01M432.1 156.4h.01M428.3 173.4h.01M425.7 162.0h.01M430.4 173.9h.01M431.0 157.5h.01M433.4 158.5h.01M437.7 168.9h.01M425.3 182.7h.01M428.1 162.6h.01M435.8 153.8h.01M432.9 162.1h.01M425.7 168.6h.01M429.7 168.8h.01M434.0 158.5h.01M429.6 190.2h.01M426.0 162.2h.01M433.2 153.6h.01M431.5 168.2h.01M427.7 175.9h.01M429.7 163.4h.01M431.6 171.5h.01M429.2 183.4h.01M425.4 172.8h.01M434.1 172.0h.01M428.9 175.1h.01M431.4 172.7h.01M427.4 173.8h.01M427.6 171.2h.01M434.4 146.0h.01M428.5 173.9h.01M431.7 169.2h.01M429.9 153.3h.01M422.1 171.1h.01M430.2 185.7h.01M439.2 157.5h.01M434.4 160.3h.01M423.5 166.9h.01M426.7 175.8h.01M432.0 172.0h.01M430.7 192.0h.01M426.6 179.9h.01M435.9 168.3h.01M428.0 171.9h.01M426.5 176.9h.01M434.3 166.8h.01M433.1 169.0h.01M435.6 178.9h.01M433.5 180.6h.01M428.8 164.1h.01M434.2 159.7h.01M434.8 169.4h.01M439.6 162.2h.01M423.5 181.8h.01M432.9 152.9h.01M434.8 173.7h.01M431.8 162.4h.01M430.6 172.7h.01M428.7 168.1h.01M434.2 160.5h.01M435.8 170.7h.01M427.3 172.8h.01M424.2 176.2h.01M438.8 152.1h.01M429.2 172.2h.01M430.5 154.0h.01M429.8 152.3h.01M435.1 155.2h.01M432.0 164.7h.01M436.2 165.3h.01M430.9 174.4h.01M429.8 161.8h.01M433.4 166.9h.01M425.6 170.3h.01M433.6 166.9h.01M436.9 159.1h.01M424.8 156.4h.01M437.1 157.9h.01M429.2 168.8h.01M427.4 186.9h.01M431.4 182.1h.01M426.0 179.1h.01M437.3 150.4h.01M432.7 157.2h.01M421.6 160.2h.01M435.8 163.7h.01M434.1 183.4h.01M431.3 172.0h.01M430.1 163.2h.01M433.9 152.2h.01M429.2 192.9h.01M435.2 170.9h.01M436.8 169.0h.01M422.7 172.3h.01M436.5 164.2h.01M431.7 176.3h.01M431.3 159.1h.01M429.6 181.6h.01M430.3 180.8h.01M432.3 182.0h.01M426.2 197.2h.01M431.7 181.2h.01M429.8 163.6h.01M429.2 158.7h.01M429.4 164.7h.01M422.7 171.8h.01M429.3 163.7h.01M421.9 190.1h.01M432.9 175.2h.01M426.5 168.2h.01M431.7 170.4h.01M434.4 159.6h.01M426.4 182.2h.01M431.0 171.9h.01M436.5 153.2h.01M428.9 179.9h.01M431.7 175.3h.01M424.7 166.2h.01M423.4 167.7h.01M434.6 170.8h.01M431.5 172.1h.01M430.3 164.3h.01M431.4 167.9h.01M438.1 185.6h.01M424.5 177.5h.01M429.3 166.3h.01M426.2 179.3h.01M433.9 149.5h.01M430.7 162.9h.01M421.1 174.6h.01M429.4 180.0h.01M426.8 142.6h.01M434.7 174.0h.01M425.1 172.6h.01M431.8 165.7h.01M428.8 163.5h.01M434.1 151.5h.01M427.5 173.0h.01M434.4 151.9h.01M426.2 161.3h.01M433.1 167.8h.01M431.8 149.7h.01M423.9 195.1h.01M420.8 196.3h.01M425.1 152.7h.01M437.5 157.4h.01M425.3 178.9h.01M426.9 157.8h.01M420.8 181.2h.01M427.9 184.1h.01M430.1 176.0h.01M429.0 173.5h.01M427.0 162.1h.01M422.3 181.7h.01M426.0 163.9h.01M431.6 175.9h.01M431.9 171.4h.01M432.2 165.1h.01M428.6 162.9h.01M431.1 148.3h.01M440.0 144.3h.01M434.0 168.2h.01M436.3 169.8h.01M427.3 180.2h.01M424.0 165.2h.01M433.0 185.7h.01M430.7 155.7h.01M425.8 175.7h.01M423.2 179.4h.01M423.4 175.4h.01M431.8 166.7h.01M437.6 175.1h.01M428.0 190.7h.01M426.9 174.3h.01M433.5 171.7h.01M429.5 167.5h.01M432.7 171.3h.01M437.1 157.6h.01M427.3 181.9h.01M423.3 178.2h.01M427.0 180.6h.01M427.5 169.2h.01M422.9 177.3h.01M428.8 169.6h.01M424.7 181.8h.01M427.9 181.6h.01M427.7 165.3h.01M428.3 192.5h.01M434.9 181.7h.01M431.9 179.2h.01M427.2 165.9h.01M428.5 151.6h.01M428.7 173.6h.01M427.4 193.4h.01M427.6 157.5h.01M426.2 176.1h.01M431.3 155.5h.01M432.5 166.8h.01M423.8 184.4h.01M434.8 163.4h.01M431.6 164.6h.01M429.7 161.5h.01M430.9 160.5h.01M429.3 178.8h.01M433.0 151.5h.01M434.4 164.3h.01M434.1 179.8h.01M425.8 188.6h.01M426.0 170.1h.01M432.1 172.1h.01M432.7 157.0h.01M437.8 156.6h.01M421.7 160.8h.01M433.5 170.9h.01M429.0 168.9h.01M432.4 165.5h.01M428.5 165.0h.01M425.2 178.3h.01M428.0 176.9h.01M430.6 155.2h.01M435.0 187.1h.01M430.9 175.6h.01M427.0 180.8h.01M422.1 169.9h.01M431.8 179.9h.01M429.4 163.2h.01M425.5 179.6h.01M437.4 157.7h.01M428.6 170.3h.01M422.4 186.0h.01M425.8 174.0h.01M429.9 167.3h.01M429.8 155.0h.01M431.1 178.5h.01M433.2 163.2h.01M427.2 167.3h.01M427.5 165.5h.01M420.8 191.2h.01M434.0 129.0h.01M425.6 180.9h.01M421.6 186.6h.01M423.6 182.4h.01M429.2 183.6h.01M423.6 195.6h.01M419.6 190.3h.01M428.0 165.0h.01M424.1 159.8h.01M432.1 149.0h.01M426.9 162.4h.01M430.6 188.0h.01M429.5 156.2h.01M424.0 188.4h.01M427.3 167.6h.01M436.3 170.2h.01M431.4 149.1h.01M431.2 158.8h.01M438.9 164.5h.01M430.6 158.6h.01M428.9 169.8h.01M438.1 156.9h.01M428.3 161.9h.01M430.7 167.8h.01M426.7 174.8h.01M428.9 162.6h.01M427.4 153.1h.01M427.9 172.8h.01M436.3 173.2h.01M425.7 171.7h.01M431.4 171.4h.01M437.5 171.7h.01M432.3 173.7h.01M424.9 171.6h.01M427.3 186.8h.01M429.0 142.5h.01M431.3 176.0h.01M431.1 176.3h.01M429.6 172.9h.01M432.9 161.4h.01M434.4 148.4h.01M430.8 167.5h.01M426.6 156.9h.01M429.3 157.5h.01M422.1 178.6h.01M427.3 167.0h.01M426.0 169.5h.01M428.6 186.6h.01M435.7 155.8h.01M433.4 171.5h.01M431.5 163.9h.01M424.8 168.3h.01M427.4 167.1h.01M435.0 173.1h.01M429.5 184.3h.01M425.0 165.9h.01M432.9 192.0h.01M435.0 146.2h.01M428.6 187.7h.01M423.4 181.8h.01M431.3 158.4h.01M434.4 166.7h.01M423.7 172.7h.01M430.0 191.2h.01M421.8 190.6h.01M430.1 175.0h.01M428.8 164.8h.01M427.2 172.4h.01M433.1 150.9h.01M430.5 164.0h.01M433.5 175.5h.01M432.9 180.2h.01M423.9 160.4h.01M435.4 154.9h.01M434.6 158.1h.01M428.8 174.0h.01M432.0 153.0h.01M429.4 159.0h.01M420.9 175.7h.01M427.7 174.2h.01M437.0 165.2h.01M442.6 151.0h.01M427.6 172.2h.01M425.8 169.8h.01M422.5 182.4h.01M423.4 201.1h.01M428.7 179.5h.01M432.8 162.7h.01M431.5 160.6h.01M425.1 176.4h.01M425.5 191.9h.01M439.5 161.9h.01M430.0 172.3h.01M423.1 175.9h.01M423.3 159.5h.01M435.6 169.7h.01M427.2 181.8h.01M432.2 175.4h.01M432.2 159.8h.01M428.9 183.8h.01M436.2 160.6h.01M431.2 178.6h.01M426.3 191.5h.01M425.4 175.5h.01M433.6 163.6h.01M418.4 178.4h.01M425.6 183.4h.01M429.9 161.1h.01M429.4 160.6h.01M435.0 157.4h.01M432.6 154.7h.01M431.2 158.7h.01M430.1 179.4h.01M429.3 171.7h.01M433.5 155.9h.01M424.1 171.1h.01" stroke="#444" stroke-width="0.6" stroke-linecap="round" fill="none" opacity="0.62"/>
<path d="M446.6 171.2h.01M447.2 164.5h.01M453.1 158.6h.01M454.8 165.8h.01M440.9 172.9h.01M437.1 174.1h.01M438.7 170.4h.01M452.3 169.3h.01M440.9 164.0h.01M441.1 166.7h.01M433.3 178.6h.01M451.1 168.6h.01M445.3 165.4h.01M443.0 153.9h.01M437.9 188.9h.01M438.1 187.0h.01M438.6 183.5h.01M447.4 165.0h.01M453.3 156.5h.01M441.9 178.4h.01M443.2 159.1h.01M444.9 172.4h.01M439.7 185.2h.01M436.4 177.7h.01M450.1 156.4h.01M445.8 163.7h.01M446.5 155.4h.01M439.3 186.0h.01M442.1 195.1h.01M441.7 156.9h.01M447.8 160.2h.01M452.1 151.2h.01M436.9 179.2h.01M453.7 150.0h.01M435.4 199.4h.01M452.0 162.4h.01M462.9 155.1h.01M442.1 174.0h.01M440.5 182.0h.01M444.8 175.6h.01M446.9 165.6h.01M446.5 158.9h.01M449.0 158.7h.01M443.1 168.1h.01M452.0 173.2h.01M441.0 174.7h.01M451.0 164.6h.01M444.8 165.5h.01M434.7 178.5h.01M457.0 149.3h.01M450.0 164.4h.01M446.9 170.8h.01M448.4 154.7h.01M436.6 180.4h.01M440.4 184.6h.01M443.0 170.6h.01M449.4 160.6h.01M455.7 149.4h.01M440.4 171.7h.01M444.0 174.6h.01M449.3 156.6h.01M444.7 162.3h.01M442.9 175.1h.01M451.5 155.3h.01M442.0 189.7h.01M444.5 175.7h.01M443.3 181.9h.01M447.4 165.1h.01M454.3 161.4h.01M452.2 157.7h.01M443.7 169.5h.01M435.6 192.1h.01M434.1 192.6h.01M459.5 146.1h.01M444.4 178.7h.01M451.2 159.6h.01M445.0 170.5h.01M442.9 163.1h.01M443.0 177.3h.01M446.8 161.9h.01M457.2 144.8h.01M443.1 170.4h.01M445.1 162.6h.01M445.7 181.4h.01M444.8 163.5h.01M438.3 187.4h.01M451.1 163.5h.01M445.6 162.8h.01M440.1 169.6h.01M438.1 182.8h.01M445.4 166.7h.01M445.3 177.5h.01M443.8 181.2h.01M445.7 157.0h.01M454.0 158.6h.01M448.6 162.2h.01M459.7 150.4h.01M445.4 153.5h.01M444.0 162.6h.01M443.4 180.5h.01M453.0 146.6h.01M453.0 160.3h.01M450.8 165.4h.01M449.1 171.0h.01M442.3 160.4h.01M445.0 170.7h.01M448.7 160.1h.01M453.8 156.6h.01M444.4 180.2h.01M449.8 159.6h.01M447.6 167.3h.01M443.6 182.2h.01M449.8 152.5h.01M449.6 165.1h.01M448.5 174.0h.01M440.0 176.9h.01M434.1 180.9h.01M437.5 185.6h.01M445.0 162.9h.01M450.3 164.1h.01M442.3 175.2h.01M451.5 149.7h.01M443.0 172.0h.01M445.9 160.8h.01M443.3 160.5h.01M447.1 168.5h.01M457.9 147.2h.01M446.3 173.3h.01M435.9 175.8h.01M431.4 194.8h.01M446.7 184.7h.01M448.2 175.5h.01M452.9 166.8h.01M451.1 163.3h.01M456.2 163.7h.01M436.8 188.1h.01M449.8 164.7h.01M436.0 179.1h.01M443.8 153.1h.01M440.3 171.9h.01M444.0 176.9h.01M450.6 162.1h.01M456.4 156.9h.01M445.1 162.5h.01M447.7 168.8h.01M461.0 142.9h.01M449.7 166.8h.01M451.5 164.4h.01M432.9 185.4h.01M454.9 152.5h.01M443.4 173.4h.01M443.7 177.1h.01M441.7 183.3h.01M441.9 175.3h.01M451.7 160.9h.01M446.5 168.2h.01M445.6 166.7h.01M445.6 166.7h.01M439.9 169.3h.01M444.5 164.9h.01M462.1 142.6h.01M459.6 143.6h.01M450.1 167.3h.01M443.9 163.2h.01M449.4 161.1h.01M441.3 181.3h.01M439.7 153.6h.01M445.5 168.9h.01M434.1 181.8h.01M446.2 177.7h.01M446.0 152.3h.01M437.9 181.7h.01M458.9 162.1h.01M444.8 162.5h.01M449.0 150.8h.01M450.4 150.7h.01M436.7 179.0h.01M441.6 174.4h.01M446.0 178.4h.01M443.9 177.2h.01M440.5 178.7h.01M431.1 181.0h.01M442.6 163.7h.01M438.8 175.4h.01M453.1 155.2h.01M443.1 165.8h.01M443.9 176.1h.01M446.3 174.2h.01M448.3 172.6h.01M445.5 164.7h.01M451.5 154.9h.01M447.0 158.0h.01M454.5 151.1h.01M445.0 179.8h.01M437.4 187.7h.01M441.8 173.5h.01M453.1 179.5h.01M445.4 175.0h.01M447.7 166.8h.01M440.1 173.6h.01M451.1 147.9h.01M449.7 167.5h.01M446.4 173.1h.01M448.7 169.4h.01M447.6 148.3h.01M446.0 174.5h.01M453.7 159.2h.01M443.8 170.3h.01M447.1 171.9h.01M446.2 164.9h.01M439.7 165.0h.01M448.8 169.3h.01M438.4 174.9h.01M452.8 149.7h.01M441.3 171.2h.01M447.1 157.4h.01M452.5 163.2h.01M445.2 157.0h.01M441.3 167.9h.01M449.2 153.0h.01M449.0 169.1h.01M436.0 165.3h.01M453.5 154.6h.01M442.4 174.8h.01M440.2 173.1h.01M442.0 170.8h.01M440.7 168.1h.01M445.9 180.2h.01M448.5 160.1h.01M444.6 171.4h.01M439.5 169.1h.01M438.6 174.8h.01M446.1 165.4h.01M448.0 174.3h.01M454.4 161.4h.01M442.2 170.1h.01M444.3 182.2h.01M451.2 156.1h.01M446.4 173.9h.01M452.5 147.4h.01M434.1 180.4h.01M444.7 169.4h.01M438.3 193.2h.01M447.6 162.9h.01M440.4 179.4h.01M445.1 168.0h.01M452.7 162.5h.01M444.7 171.0h.01M443.5 152.9h.01M454.1 144.1h.01M454.8 156.8h.01M447.4 172.8h.01M445.3 160.6h.01M444.5 172.5h.01M454.9 156.0h.01M439.6 180.5h.01M449.3 163.7h.01M446.8 160.9h.01M456.2 157.9h.01M450.8 165.5h.01M443.1 166.2h.01M431.1 189.9h.01M460.1 165.2h.01M452.5 161.8h.01M450.9 144.1h.01M434.2 176.5h.01M450.6 158.9h.01M436.8 180.9h.01M444.2 176.5h.01M444.4 173.6h.01M465.5 149.4h.01M453.0 155.8h.01M453.3 149.6h.01M439.9 171.7h.01M445.2 175.2h.01M440.4 176.7h.01M447.6 159.9h.01M436.7 192.7h.01M458.7 141.3h.01M449.6 160.4h.01M438.6 167.0h.01M450.2 160.2h.01M440.6 167.9h.01M448.4 169.7h.01M452.9 150.0h.01M439.6 171.4h.01M443.6 164.8h.01M446.9 180.1h.01M451.7 155.5h.01M455.9 145.9h.01M452.0 146.6h.01M447.3 167.7h.01M451.5 164.7h.01M454.8 149.0h.01M446.1 178.8h.01M446.6 180.3h.01M440.2 177.2h.01M436.3 189.4h.01M447.3 159.4h.01M449.0 160.2h.01M453.8 153.1h.01M453.2 151.6h.01M452.1 168.5h.01M439.9 169.8h.01M445.0 162.9h.01M435.6 187.4h.01M461.3 141.1h.01M449.7 154.2h.01M437.0 177.8h.01M450.4 142.7h.01M450.7 156.1h.01M444.4 171.5h.01M451.8 155.8h.01M444.1 170.1h.01M438.2 165.7h.01M437.1 187.2h.01M453.4 150.4h.01M445.9 161.9h.01M449.6 152.9h.01M451.4 166.7h.01M432.9 186.9h.01M446.9 159.3h.01M447.1 161.9h.01M439.4 192.3h.01M437.8 170.5h.01M441.5 181.6h.01M437.8 189.8h.01M445.9 159.9h.01M442.0 172.8h.01M440.1 186.4h.01M443.3 173.0h.01M439.6 175.5h.01M449.8 168.5h.01M430.8 183.3h.01M450.6 154.6h.01M441.9 172.3h.01M443.8 180.1h.01M446.7 163.2h.01M443.4 168.2h.01M446.1 160.3h.01M450.2 148.6h.01M440.4 173.5h.01M446.5 172.8h.01M447.5 151.0h.01M442.0 195.7h.01M451.3 163.3h.01M442.7 161.6h.01M440.3 177.5h.01M450.8 154.1h.01M439.4 172.3h.01M445.3 178.3h.01M442.6 174.8h.01M441.7 162.9h.01M442.8 164.1h.01M448.7 156.2h.01M448.8 168.0h.01M450.2 170.7h.01M449.3 156.4h.01M440.8 173.5h.01M437.7 189.4h.01M450.8 161.4h.01M444.5 161.3h.01M444.1 184.0h.01M438.4 156.4h.01M458.1 156.6h.01M443.5 173.7h.01M448.8 162.9h.01M448.0 160.7h.01M447.2 164.0h.01M446.9 183.1h.01M442.7 165.2h.01M453.6 166.8h.01M439.3 187.0h.01M439.5 175.7h.01M441.8 175.6h.01M441.4 176.7h.01M439.5 191.8h.01M438.4 177.3h.01M454.8 152.0h.01M440.8 194.8h.01M456.0 160.9h.01M434.8 186.6h.01M446.4 165.4h.01M436.8 179.4h.01M441.0 156.6h.01M456.7 146.5h.01M449.8 167.9h.01M446.4 167.6h.01M448.4 163.3h.01M442.2 166.5h.01M447.5 177.3h.01M450.0 159.9h.01M437.8 188.8h.01M445.5 167.3h.01M432.1 193.9h.01M441.6 177.6h.01M435.9 172.8h.01M451.7 157.4h.01M446.6 165.4h.01M447.3 173.9h.01M446.7 162.5h.01M450.1 177.0h.01M445.0 171.9h.01M446.2 171.0h.01M438.7 183.0h.01M447.7 159.1h.01M443.3 165.7h.01M445.6 164.6h.01M446.0 167.8h.01M449.7 165.0h.01M444.9 164.5h.01M442.1 170.2h.01M448.7 150.2h.01M462.2 143.1h.01M440.0 170.5h.01M441.0 175.3h.01M437.2 162.5h.01M448.7 177.1h.01M438.0 181.7h.01M437.7 186.9h.01M442.9 167.0h.01M445.5 168.2h.01M446.1 185.7h.01M446.7 175.2h.01M446.7 164.9h.01M449.6 165.4h.01M450.9 166.5h.01M445.3 157.9h.01M446.5 177.0h.01M454.6 146.7h.01M452.8 149.7h.01M444.9 177.9h.01M445.1 167.4h.01M448.4 162.5h.01M445.0 163.2h.01M440.3 195.3h.01M447.3 152.9h.01M446.3 156.9h.01M448.2 165.2h.01M441.8 173.1h.01M445.9 160.0h.01M450.0 164.7h.01M434.3 194.3h.01M450.4 155.2h.01M436.3 180.4h.01M443.1 184.9h.01M438.2 190.0h.01M448.1 182.8h.01M447.3 166.2h.01M441.1 192.2h.01M450.9 159.4h.01M453.5 153.5h.01M438.7 186.4h.01M442.9 170.7h.01M455.6 153.9h.01M441.0 180.8h.01M448.9 156.8h.01M439.8 182.6h.01M448.2 167.0h.01M440.4 181.8h.01M458.5 168.8h.01M450.7 170.9h.01M445.0 174.9h.01M444.4 179.8h.01M455.7 170.4h.01M433.2 185.0h.01M447.3 163.4h.01M450.6 163.3h.01M448.2 167.9h.01M452.9 160.9h.01M444.1 166.4h.01M439.5 167.1h.01M441.5 152.6h.01M440.8 159.4h.01M443.9 184.2h.01M446.0 151.0h.01M439.3 178.7h.01M450.5 159.9h.01M434.5 182.9h.01M448.1 155.8h.01M451.1 172.4h.01M441.9 171.6h.01M442.8 171.7h.01M456.7 151.2h.01M452.7 166.2h.01M443.6 179.5h.01M446.2 168.0h.01M442.6 173.3h.01M443.9 177.0h.01M446.3 164.6h.01M452.3 159.5h.01M444.8 173.2h.01M443.5 165.0h.01M444.3 167.3h.01M438.9 178.3h.01M446.7 176.6h.01M454.0 155.5h.01M444.4 181.7h.01M446.4 172.0h.01M450.0 170.6h.01M443.7 177.3h.01M444.3 187.8h.01M443.5 183.6h.01M452.3 156.2h.01M445.4 161.5h.01M455.0 152.2h.01M447.3 178.8h.01M444.2 179.7h.01M442.5 181.3h.01M449.3 150.5h.01M444.0 171.4h.01M435.2 173.2h.01M443.5 160.8h.01M453.4 151.1h.01M458.1 161.9h.01M454.4 146.0h.01M444.8 176.1h.01M451.1 152.1h.01M456.3 153.7h.01M442.3 174.0h.01M447.0 162.7h.01M443.0 167.2h.01M437.7 176.5h.01M447.8 154.2h.01M449.1 180.3h.01M454.0 141.9h.01M446.7 155.1h.01M455.7 156.9h.01M446.4 165.2h.01M450.4 173.1h.01M451.9 159.0h.01M441.8 181.0h.01M456.1 152.3h.01M445.2 174.6h.01M439.8 187.9h.01M435.8 193.2h.01M442.4 171.4h.01M443.0 170.7h.01M447.3 166.4h.01M440.6 172.7h.01M447.6 171.0h.01M453.6 169.2h.01M435.0 177.2h.01M457.1 157.4h.01M451.6 152.3h.01M441.0 164.4h.01M446.2 145.6h.01M439.8 192.6h.01M451.4 155.0h.01M450.9 160.6h.01M438.4 176.5h.01M449.3 167.4h.01M454.8 154.8h.01M450.6 164.2h.01M450.9 144.8h.01M455.1 157.2h.01M454.5 154.6h.01M444.9 164.6h.01M437.9 160.3h.01M447.4 167.2h.01" stroke="#444" stroke-width="0.6" stroke-linecap="round" fill="none" opacity="0.62"/>
<path d="M439.3 199.0h.01M442.9 192.1h.01M441.9 191.2h.01M433.0 207.4h.01M443.7 201.2h.01M438.2 204.6h.01M445.8 199.6h.01M436.8 202.2h.01M449.7 199.1h.01M436.9 184.2h.01M441.3 192.9h.01M441.9 189.2h.01M441.4 207.3h.01M439.9 190.0h.01M445.5 199.6h.01M443.4 197.1h.01M443.1 196.5h.01M441.8 190.3h.01M444.2 195.1h.01M444.6 186.2h.01M438.8 188.1h.01M444.2 204.4h.01M445.9 192.4h.01M441.2 197.4h.01M438.9 199.1h.01M440.0 194.6h.01M444.4 185.3h.01M440.4 196.3h.01M447.9 189.7h.01M442.0 191.0h.01M446.8 193.6h.01M451.3 200.2h.01M440.8 191.3h.01M446.0 190.7h.01M440.6 193.8h.01M440.8 205.5h.01M443.5 195.8h.01M445.1 199.1h.01M444.1 203.7h.01M433.9 196.9h.01M451.4 188.4h.01M441.4 200.5h.01M442.9 190.1h.01M444.7 193.6h.01M439.5 191.4h.01M441.3 190.1h.01M434.6 198.5h.01M442.5 192.3h.01M441.6 198.8h.01M443.2 186.3h.01M441.4 184.2h.01M440.3 202.0h.01M444.6 195.8h.01M439.0 191.8h.01M442.4 191.2h.01M434.8 197.2h.01M440.5 203.8h.01M439.8 195.9h.01M444.6 201.1h.01M445.0 187.5h.01M446.0 189.0h.01M444.3 184.1h.01M437.7 190.2h.01M441.9 199.0h.01M442.4 196.8h.01M437.9 197.6h.01M434.9 189.5h.01M437.8 207.3h.01M442.9 191.9h.01M439.2 192.5h.01M443.3 197.1h.01M441.0 195.7h.01M447.8 198.0h.01M447.8 187.1h.01M441.7 195.7h.01M444.2 191.0h.01M436.2 202.0h.01M437.7 193.4h.01M441.7 197.6h.01M441.2 182.2h.01M443.5 196.5h.01M438.1 193.7h.01M436.3 194.7h.01M440.3 197.9h.01M433.8 199.2h.01M443.2 201.2h.01M444.2 188.2h.01M433.9 205.2h.01M447.1 175.8h.01M438.5 201.2h.01M433.2 197.2h.01M438.3 189.3h.01M432.9 192.4h.01M439.3 197.3h.01M441.6 199.2h.01M448.3 205.7h.01M435.0 190.2h.01M436.1 196.2h.01M440.1 207.5h.01M437.0 197.3h.01M442.7 183.0h.01M445.5 195.7h.01M433.6 198.9h.01M438.3 196.4h.01M437.5 195.1h.01M438.9 205.1h.01M436.6 201.2h.01M439.9 197.6h.01M444.1 185.2h.01M440.9 186.9h.01M442.0 201.6h.01M446.0 186.6h.01M437.1 189.7h.01M441.3 196.9h.01M441.6 194.1h.01M439.9 201.0h.01M440.7 186.0h.01M448.9 186.0h.01M439.8 199.4h.01M442.9 199.1h.01M447.4 205.5h.01M437.5 191.2h.01M448.3 201.0h.01M439.4 205.2h.01M441.1 199.7h.01M443.2 201.1h.01M438.6 202.3h.01M441.1 190.8h.01M443.3 200.8h.01M436.9 198.2h.01M438.9 197.3h.01M444.4 202.4h.01M438.2 187.6h.01M438.9 189.0h.01M441.7 207.9h.01M437.0 192.9h.01M439.7 200.7h.01M445.1 195.0h.01M442.2 192.2h.01M438.9 191.8h.01M440.5 200.1h.01M435.6 199.4h.01M433.3 200.3h.01M443.7 205.4h.01M433.8 197.9h.01M438.1 197.4h.01M446.3 190.6h.01M441.4 187.8h.01M441.1 180.2h.01M443.1 179.3h.01M438.4 198.7h.01M447.9 188.5h.01M444.9 191.5h.01M431.5 201.0h.01M441.1 198.5h.01M441.8 199.7h.01M437.1 197.3h.01M439.9 195.2h.01M437.4 200.4h.01M444.9 198.0h.01M446.6 191.0h.01M449.1 192.4h.01M440.2 194.9h.01M445.3 198.7h.01M443.7 190.9h.01M444.2 203.1h.01M437.0 192.6h.01M443.5 201.0h.01M436.2 189.9h.01M442.5 193.9h.01M443.5 190.8h.01M437.4 197.2h.01M443.6 189.3h.01M444.5 198.6h.01M441.3 195.9h.01M444.3 197.5h.01M440.8 195.0h.01M444.8 205.6h.01M431.2 188.6h.01M432.2 189.5h.01M440.6 189.3h.01M442.9 196.4h.01M444.0 186.9h.01M439.7 198.3h.01M437.1 183.5h.01M438.5 193.7h.01M442.1 203.9h.01M443.7 193.7h.01M440.6 198.3h.01M441.0 199.2h.01M438.1 196.7h.01M440.1 191.0h.01M439.5 201.0h.01M441.3 196.8h.01M441.3 195.4h.01M440.7 193.2h.01M432.5 195.1h.01" stroke="#444" stroke-width="0.6" stroke-linecap="round" fill="none" opacity="0.62"/>
<path d="M420.1 190.5h.01M418.8 199.9h.01M423.1 197.4h.01M425.9 198.7h.01M425.4 201.9h.01M430.6 201.7h.01M426.2 204.1h.01M421.5 186.2h.01M423.4 181.1h.01M420.1 196.8h.01M432.9 198.2h.01M420.6 199.9h.01M427.3 197.5h.01M429.3 189.3h.01M430.6 182.4h.01M424.1 200.7h.01M427.3 191.2h.01M417.8 196.8h.01M435.5 190.8h.01M432.4 189.4h.01M424.3 197.5h.01M437.5 197.5h.01M428.3 193.5h.01M428.7 193.8h.01M426.1 200.8h.01M438.2 194.5h.01M419.9 202.3h.01M428.8 182.1h.01M428.6 190.4h.01M424.8 204.5h.01M431.6 190.6h.01M426.8 191.2h.01M414.4 188.9h.01M426.3 186.9h.01M420.6 183.6h.01M417.2 198.6h.01M428.6 179.6h.01M429.7 194.4h.01M420.6 185.9h.01M426.7 190.2h.01M419.5 196.3h.01M427.1 183.1h.01M426.9 195.2h.01M429.1 203.3h.01M424.9 187.7h.01M431.0 200.1h.01M419.2 189.4h.01M423.3 202.3h.01M417.0 203.6h.01M419.9 193.2h.01M422.3 206.7h.01M432.7 181.5h.01M426.6 200.1h.01M427.2 198.0h.01M416.8 203.3h.01M430.9 189.6h.01M427.6 201.2h.01M427.0 200.1h.01M417.7 190.7h.01M426.3 200.7h.01M430.7 188.1h.01M419.7 190.8h.01M420.9 207.9h.01M432.7 196.1h.01M432.2 191.9h.01M425.5 195.6h.01M424.8 190.0h.01M416.3 200.5h.01M421.8 189.1h.01M418.5 178.9h.01M418.1 196.6h.01M419.2 180.1h.01M418.7 178.1h.01M427.0 175.3h.01M424.0 207.0h.01M424.8 198.9h.01M422.6 201.6h.01M439.2 184.9h.01M424.3 187.5h.01M425.0 192.4h.01M426.2 195.2h.01M421.7 200.1h.01M428.1 188.3h.01M428.1 187.6h.01M420.2 200.2h.01M430.3 197.6h.01M439.3 188.5h.01M426.5 193.5h.01M425.3 197.4h.01M424.7 198.2h.01M423.4 182.4h.01M425.9 194.8h.01M420.9 181.4h.01M425.1 197.9h.01M434.5 193.2h.01M427.5 197.2h.01M422.0 190.9h.01M420.9 196.8h.01M429.8 200.0h.01M429.6 195.2h.01M430.8 199.4h.01M426.7 201.2h.01M432.5 192.8h.01M420.0 185.5h.01M426.7 206.6h.01M426.6 194.4h.01M426.9 188.8h.01M426.6 206.1h.01M426.2 191.1h.01M426.3 203.9h.01M426.0 204.1h.01M425.4 194.9h.01M420.4 197.4h.01M428.0 204.2h.01M430.4 192.1h.01M415.3 190.5h.01M433.9 178.8h.01M422.1 199.3h.01M431.1 189.5h.01M426.5 192.0h.01M424.7 191.1h.01M426.1 198.0h.01M420.0 201.3h.01M416.2 179.2h.01M416.9 199.5h.01M419.0 199.2h.01M423.9 195.8h.01M423.7 207.8h.01M426.8 183.4h.01M418.2 198.0h.01M425.7 200.5h.01M432.0 194.9h.01M417.9 200.6h.01M419.0 195.3h.01M418.5 199.2h.01M434.1 185.0h.01M422.4 203.6h.01M428.5 201.9h.01M430.6 195.7h.01M423.0 195.3h.01M428.1 202.7h.01M419.0 196.1h.01M429.0 197.4h.01M422.4 198.1h.01M420.6 191.7h.01M414.7 192.5h.01M431.0 195.8h.01M415.7 182.1h.01M419.8 180.8h.01M421.8 190.1h.01M427.9 182.6h.01" stroke="#444" stroke-width="0.6" stroke-linecap="round" fill="none" opacity="0.62"/>
<path d="M421.5 190 C422 188 423 186.5 423.6 185.5 C425 181 426.5 177 428.2 173.5 C429.8 169 431.5 165 432.9 161 C434 164 435 167 436.5 169.6 L436.5 168.8 C439 166 442 162 444.6 159.5 C446.5 158 448 157.6 449.3 158 C450.5 159.5 450.6 162 450 165 C449.5 169 448.7 172.5 447.7 175.8 C447 179 446.2 182 445.4 185.2 C444.2 188 443 190.8 441.5 193 C440.3 194.8 439 196 437.6 196.9 L430 196Z" fill="#fff" stroke="#fff" stroke-width="0.01" />
<ellipse cx="428.2" cy="194" rx="6.8" ry="10.5" transform="rotate(18 428.2 194)" fill="#fff" stroke="#333" stroke-width="0.5" opacity="1"/>
<ellipse cx="428.2" cy="194" rx="6.8" ry="10.5" transform="rotate(18 428.2 194)" fill="none" stroke="#333" stroke-width="0.55" opacity="1"/>
<ellipse cx="428.2" cy="194" rx="5.6" ry="8.7" transform="rotate(18 428.2 194)" fill="none" stroke="#333" stroke-width="0.55" opacity="1"/>
<ellipse cx="428.2" cy="194" rx="4.4" ry="6.9" transform="rotate(18 428.2 194)" fill="none" stroke="#333" stroke-width="0.55" opacity="1"/>
<ellipse cx="428.2" cy="194" rx="3.2" ry="5.1" transform="rotate(18 428.2 194)" fill="none" stroke="#333" stroke-width="0.55" opacity="1"/>
<ellipse cx="428.2" cy="194" rx="3.2" ry="5.1" transform="rotate(18 428.2 194)" fill="#aaa" stroke="#444" stroke-width="0.4" opacity="0.7"/>
<ellipse cx="428.4" cy="193.6" rx="0.9" ry="2.2" transform="rotate(18 428.4 193.6)" fill="#eee" stroke="#eee" stroke-width="0.3" opacity="0.9"/>
<path d="M421.5 190 C422 188 423 186.5 423.6 185.5 C425 181 426.5 177 428.2 173.5 C429.8 169 431.5 165 432.9 161 C434 164 435 167 436.5 169.6" fill="none" stroke="#333" stroke-width="0.7" />
<path d="M425.5 186 C427.5 180 430 173 432.6 168 C433.5 172 434.5 176 435.5 179" fill="none" stroke="#333" stroke-width="0.7" />
<path d="M427.5 186.5 C429 182 430.5 178 432 174.3 C433 178 434 181 435 184" fill="none" stroke="#333" stroke-width="0.7" />
<path d="M429.5 186 C430 184 430.5 182 431 179.7 C432 182 433 184.5 434 187" fill="none" stroke="#333" stroke-width="0.7" />
<path d="M436.5 168.8 C439 166 442 162 444.6 159.5 C446.5 158 448 157.6 449.3 158 C450.5 159.5 450.6 162 450 165 C449.5 169 448.7 172.5 447.7 175.8 C447 179 446.2 182 445.4 185.2 C444.2 188 443 190.8 441.5 193 C440.3 194.8 439 196 437.6 196.9" fill="none" stroke="#333" stroke-width="0.7" />
<path d="M440 173.5 C441.5 172 443 171 444.6 171 C445.4 173.5 445.2 176.5 444.6 179 C443.8 181.5 442.7 183.3 441.5 184.4 C440.3 185 439.2 184.5 438.8 183 C438.6 180 439.2 176 440 173.5Z" fill="none" stroke="#333" stroke-width="0.7" />
<rect x="413.5" y="124.6" width="85.30000000000001" height="84.70000000000002" fill="none" stroke="#111" stroke-width="1"/>
<line x1="436.5" y1="124.6" x2="436.5" y2="209.3" stroke="#111" stroke-width="0.9"/>
<line x1="413.5" y1="185.3" x2="498.8" y2="185.3" stroke="#111" stroke-width="0.9"/>
<text x="415.1" y="134.0" font-size="8.4" stroke="#1a1a1a" stroke-width="0.2" text-anchor="start" fill="#1a1a1a" >14.5</text>
<text x="497.2" y="134.0" font-size="8.4" stroke="#1a1a1a" stroke-width="0.2" text-anchor="end" fill="#1a1a1a" >12.9</text>
<text x="415.7" y="208.4" font-size="8.4" stroke="#1a1a1a" stroke-width="0.2" text-anchor="start" fill="#1a1a1a" >68.8</text>
<text x="497.2" y="208.4" font-size="8.4" stroke="#1a1a1a" stroke-width="0.2" text-anchor="end" fill="#1a1a1a" >3.8</text>
<text x="411.8" y="216.5" font-size="3.6" fill="#777">10<tspan dy="-1.4" font-size="2.6">0</tspan></text>
<text x="432.9" y="216.5" font-size="3.6" fill="#777">10<tspan dy="-1.4" font-size="2.6">1</tspan></text>
<text x="453.9" y="216.5" font-size="3.6" fill="#777">10<tspan dy="-1.4" font-size="2.6">2</tspan></text>
<text x="475.0" y="216.5" font-size="3.6" fill="#777">10<tspan dy="-1.4" font-size="2.6">3</tspan></text>
<text x="496.1" y="216.5" font-size="3.6" fill="#777">10<tspan dy="-1.4" font-size="2.6">4</tspan></text>
<text x="404.7" y="210.0" font-size="3.6" fill="#777">10<tspan dy="-1.4" font-size="2.6">0</tspan></text>
<text x="404.7" y="189.1" font-size="3.6" fill="#777">10<tspan dy="-1.4" font-size="2.6">1</tspan></text>
<text x="404.7" y="168.1" font-size="3.6" fill="#777">10<tspan dy="-1.4" font-size="2.6">2</tspan></text>
<text x="404.7" y="147.2" font-size="3.6" fill="#777">10<tspan dy="-1.4" font-size="2.6">3</tspan></text>
<text x="404.7" y="126.3" font-size="3.6" fill="#777">10<tspan dy="-1.4" font-size="2.6">4</tspan></text>
<line x1="294.5" y1="21.5" x2="294.5" y2="107" stroke="#111" stroke-width="1"/>
<line x1="294.5" y1="124" x2="294.5" y2="209.3" stroke="#111" stroke-width="1"/>
<text x="289.8" y="62.4" font-size="10.3" stroke="#1a1a1a" stroke-width="0.2" text-anchor="middle" fill="#1a1a1a" transform="rotate(-90 289.8 62.4)" >Ki67</text>
<text x="289.7" y="166.6" font-size="9.9" stroke="#1a1a1a" stroke-width="0.2" text-anchor="middle" fill="#1a1a1a" transform="rotate(-90 289.7 166.6)" >CD71</text>
<line x1="307" y1="221.2" x2="500" y2="221.2" stroke="#111" stroke-width="1"/>
<text x="395" y="233.5" font-size="10.2" stroke="#1a1a1a" stroke-width="0.2" text-anchor="start" fill="#1a1a1a" >FoxP3</text>
<line x1="53.5" y1="169.5" x2="53.5" y2="283.5" stroke="#333" stroke-width="1"/>
<line x1="50.0" y1="281.5" x2="245" y2="281.5" stroke="#444" stroke-width="1"/>
<line x1="50.0" y1="281.5" x2="53.5" y2="281.5" stroke="#111" stroke-width="1"/>
<text x="45.5" y="285.0" font-size="10" stroke="#1a1a1a" stroke-width="0.05" text-anchor="end" fill="#1a1a1a" >0</text>
<line x1="50.0" y1="259.1" x2="53.5" y2="259.1" stroke="#111" stroke-width="1"/>
<text x="45.5" y="262.6" font-size="10" stroke="#1a1a1a" stroke-width="0.05" text-anchor="end" fill="#1a1a1a" >2</text>
<line x1="50.0" y1="236.7" x2="53.5" y2="236.7" stroke="#111" stroke-width="1"/>
<text x="45.5" y="240.2" font-size="10" stroke="#1a1a1a" stroke-width="0.05" text-anchor="end" fill="#1a1a1a" >4</text>
<line x1="50.0" y1="214.3" x2="53.5" y2="214.3" stroke="#111" stroke-width="1"/>
<text x="45.5" y="217.8" font-size="10" stroke="#1a1a1a" stroke-width="0.05" text-anchor="end" fill="#1a1a1a" >6</text>
<line x1="50.0" y1="191.9" x2="53.5" y2="191.9" stroke="#111" stroke-width="1"/>
<text x="45.5" y="195.4" font-size="10" stroke="#1a1a1a" stroke-width="0.05" text-anchor="end" fill="#1a1a1a" >8</text>
<line x1="50.0" y1="169.5" x2="53.5" y2="169.5" stroke="#111" stroke-width="1"/>
<text x="45.5" y="173.0" font-size="10" stroke="#1a1a1a" stroke-width="0.05" text-anchor="end" fill="#1a1a1a" >10</text>
<line x1="148.5" y1="281.5" x2="148.5" y2="284.1" stroke="#333" stroke-width="1"/>
<line x1="245.2" y1="281.0" x2="245.2" y2="284.3" stroke="#333" stroke-width="1"/>
<text x="101.2" y="299.1" font-size="10.4" stroke="#1a1a1a" stroke-width="0.2" text-anchor="middle" fill="#1a1a1a" >Baseline</text>
<text x="197.2" y="299.1" font-size="10.4" stroke="#1a1a1a" stroke-width="0.2" text-anchor="middle" fill="#1a1a1a" >Week 4</text>
<text x="32.1" y="281.8" font-size="8.2" fill="#1a1a1a" stroke="#1a1a1a" stroke-width="0.15" transform="rotate(-90 32.1 281.8)" textLength="117" lengthAdjust="spacing">% Ki-67<tspan dy="-2.8" font-size="7.5" font-weight="bold">+</tspan><tspan dy="2.8"> FoxP3</tspan><tspan dy="-2.8" font-size="7.5" font-weight="bold">+</tspan><tspan dy="2.8"> CD4</tspan><tspan dy="-2.8" font-size="7.5" font-weight="bold">+</tspan><tspan dy="2.8"> T Cells</tspan></text>
<line x1="100.3" y1="266.38" x2="196.8" y2="175.10000000000002" stroke="#000" stroke-width="1.5"/>
<line x1="100.3" y1="257.98" x2="196.8" y2="185.74" stroke="#000" stroke-width="1.5"/>
<line x1="100.3" y1="259.1" x2="196.8" y2="187.42000000000002" stroke="#000" stroke-width="1.5"/>
<line x1="100.3" y1="261.9" x2="196.8" y2="193.58" stroke="#000" stroke-width="1.5"/>
<line x1="100.3" y1="265.82" x2="196.8" y2="215.98000000000002" stroke="#000" stroke-width="1.5"/>
<line x1="100.3" y1="266.94" x2="196.8" y2="229.98000000000002" stroke="#000" stroke-width="1.5"/>
<line x1="100.3" y1="268.06" x2="196.8" y2="231.1" stroke="#000" stroke-width="1.5"/>
<line x1="100.3" y1="268.06" x2="196.8" y2="239.5" stroke="#000" stroke-width="1.5"/>
<line x1="100.3" y1="268.62" x2="196.8" y2="260.22" stroke="#000" stroke-width="1.5"/>
<path d="M100.3 264.38L102.3 266.38L100.3 268.38L98.3 266.38Z" fill="#000" stroke="#000" stroke-width="0.9" />
<circle cx="196.8" cy="175.10000000000002" r="1.0" fill="#000"/>
<path d="M100.3 255.98000000000002L102.3 259.68L98.3 259.68Z" fill="#000" stroke="#000" stroke-width="0.9" />
<rect x="195.0" y="183.94" width="3.6000000000000227" height="3.6000000000000227" fill="#eee" stroke="#000" stroke-width="1.2"/>
<path d="M100.3 257.1L102.3 259.1L100.3 261.1L98.3 259.1Z" fill="#000" stroke="#000" stroke-width="0.9" />
<circle cx="196.8" cy="187.42000000000002" r="1.0" fill="#000"/>
<path d="M100.3 259.9L102.3 261.9L100.3 263.9L98.3 261.9Z" fill="#000" stroke="#000" stroke-width="0.9" />
<path d="M196.8 191.28L199.3 195.58L194.3 195.58Z" fill="#eee" stroke="#000" stroke-width="1.1" />
<path d="M100.3 263.82L102.3 265.82L100.3 267.82L98.3 265.82Z" fill="#000" stroke="#000" stroke-width="0.9" />
<path d="M196.8 213.28L199.50000000000003 215.98000000000002L196.8 218.68000000000004L194.1 215.98000000000002Z" fill="#555" stroke="#000" stroke-width="1.1" />
<path d="M100.3 264.94L102.3 266.94L100.3 268.94L98.3 266.94Z" fill="#000" stroke="#000" stroke-width="0.9" />
<rect x="195.0" y="228.18" width="3.6000000000000227" height="3.6000000000000227" fill="#eee" stroke="#000" stroke-width="1.2"/>
<path d="M100.3 266.06L102.3 268.06L100.3 270.06L98.3 268.06Z" fill="#000" stroke="#000" stroke-width="0.9" />
<circle cx="196.8" cy="231.1" r="1.0" fill="#000"/>
<path d="M100.3 266.06L102.3 268.06L100.3 270.06L98.3 268.06Z" fill="#000" stroke="#000" stroke-width="0.9" />
<circle cx="196.8" cy="239.5" r="1.0" fill="#000"/>
<path d="M100.3 266.62L102.3 268.62L100.3 270.62L98.3 268.62Z" fill="#000" stroke="#000" stroke-width="0.9" />
<path d="M196.8 257.52000000000004L199.50000000000003 260.22L196.8 262.92L194.1 260.22Z" fill="#555" stroke="#000" stroke-width="1.1" />
<line x1="57" y1="324.5" x2="57" y2="447.0" stroke="#333" stroke-width="1"/>
<line x1="53.5" y1="444.5" x2="243.8" y2="444.5" stroke="#444" stroke-width="1"/>
<line x1="53.5" y1="444.5" x2="57" y2="444.5" stroke="#111" stroke-width="1"/>
<text x="49.4" y="448.0" font-size="10" stroke="#1a1a1a" stroke-width="0.05" text-anchor="end" fill="#1a1a1a" >0</text>
<line x1="53.5" y1="427.37" x2="57" y2="427.37" stroke="#111" stroke-width="1"/>
<text x="49.4" y="430.87" font-size="10" stroke="#1a1a1a" stroke-width="0.05" text-anchor="end" fill="#1a1a1a" >2</text>
<line x1="53.5" y1="410.24" x2="57" y2="410.24" stroke="#111" stroke-width="1"/>
<text x="49.4" y="413.74" font-size="10" stroke="#1a1a1a" stroke-width="0.05" text-anchor="end" fill="#1a1a1a" >4</text>
<line x1="53.5" y1="393.11" x2="57" y2="393.11" stroke="#111" stroke-width="1"/>
<text x="49.4" y="396.61" font-size="10" stroke="#1a1a1a" stroke-width="0.05" text-anchor="end" fill="#1a1a1a" >6</text>
<line x1="53.5" y1="375.98" x2="57" y2="375.98" stroke="#111" stroke-width="1"/>
<text x="49.4" y="379.48" font-size="10" stroke="#1a1a1a" stroke-width="0.05" text-anchor="end" fill="#1a1a1a" >8</text>
<line x1="53.5" y1="358.85" x2="57" y2="358.85" stroke="#111" stroke-width="1"/>
<text x="49.4" y="362.35" font-size="10" stroke="#1a1a1a" stroke-width="0.05" text-anchor="end" fill="#1a1a1a" >10</text>
<line x1="53.5" y1="341.72" x2="57" y2="341.72" stroke="#111" stroke-width="1"/>
<text x="49.4" y="345.22" font-size="10" stroke="#1a1a1a" stroke-width="0.05" text-anchor="end" fill="#1a1a1a" >12</text>
<line x1="53.5" y1="324.59000000000003" x2="57" y2="324.59000000000003" stroke="#111" stroke-width="1"/>
<text x="49.4" y="328.09000000000003" font-size="10" stroke="#1a1a1a" stroke-width="0.05" text-anchor="end" fill="#1a1a1a" >14</text>
<line x1="150" y1="444.5" x2="150" y2="447.1" stroke="#333" stroke-width="1"/>
<line x1="243.3" y1="444.0" x2="243.3" y2="447.3" stroke="#333" stroke-width="1"/>
<text x="103.4" y="461.8" font-size="10.4" stroke="#1a1a1a" stroke-width="0.2" text-anchor="middle" fill="#1a1a1a" >Baseline</text>
<text x="198" y="461.8" font-size="10.4" stroke="#1a1a1a" stroke-width="0.2" text-anchor="middle" fill="#1a1a1a" >Week 4</text>
<text x="30.6" y="443.8" font-size="8.2" fill="#1a1a1a" stroke="#1a1a1a" stroke-width="0.15" transform="rotate(-90 30.6 443.8)" textLength="118.6" lengthAdjust="spacing">% CD71<tspan dy="-2.8" font-size="7.5" font-weight="bold">+</tspan><tspan dy="2.8"> FoxP3</tspan><tspan dy="-2.8" font-size="7.5" font-weight="bold">+</tspan><tspan dy="2.8"> CD4</tspan><tspan dy="-2.8" font-size="7.5" font-weight="bold">+</tspan><tspan dy="2.8"> T Cells</tspan></text>
<line x1="103" y1="409.3835" x2="196.3" y2="333.155" stroke="#000" stroke-width="1.4"/>
<line x1="103" y1="417.9485" x2="196.3" y2="340.86350000000004" stroke="#000" stroke-width="1.4"/>
<line x1="103" y1="424.8005" x2="196.3" y2="351.1415" stroke="#000" stroke-width="1.4"/>
<line x1="103" y1="421.3745" x2="196.3" y2="372.98225" stroke="#000" stroke-width="1.4"/>
<line x1="103" y1="435.50675" x2="196.3" y2="378.5495" stroke="#000" stroke-width="1.4"/>
<line x1="103" y1="431.22425" x2="196.3" y2="384.97325" stroke="#000" stroke-width="1.4"/>
<line x1="103" y1="408.527" x2="196.3" y2="402.10325" stroke="#000" stroke-width="1.4"/>
<line x1="103" y1="417.092" x2="196.3" y2="402.5315" stroke="#000" stroke-width="1.4"/>
<line x1="103" y1="423.0875" x2="196.3" y2="404.67275" stroke="#000" stroke-width="1.4"/>
<path d="M103 407.48350000000005L104.9 409.3835L103 411.2835L101.1 409.3835Z" fill="#000" stroke="#000" stroke-width="0.9" />
<path d="M196.3 330.955L198.5 335.05499999999995L194.10000000000002 335.05499999999995Z" fill="#000" stroke="#000" stroke-width="0.9" />
<path d="M103 415.64850000000007L105.30000000000001 417.9485L103 420.2485L100.69999999999999 417.9485Z" fill="#555" stroke="#000" stroke-width="1.1" />
<rect x="194.60000000000002" y="339.16350000000006" width="3.3999999999999773" height="3.3999999999999773" fill="#888" stroke="#000" stroke-width="1.2"/>
<circle cx="103" cy="424.8005" r="1.0" fill="#000"/>
<circle cx="196.3" cy="351.1415" r="1.0" fill="#000"/>
<circle cx="103" cy="421.3745" r="1.0" fill="#000"/>
<path d="M196.3 370.38225000000006L198.9 372.98225L196.3 375.58225L193.70000000000002 372.98225Z" fill="#555" stroke="#000" stroke-width="1.1" />
<circle cx="103" cy="435.50675" r="1.0" fill="#000"/>
<circle cx="196.3" cy="378.5495" r="1.0" fill="#000"/>
<rect x="101.6" y="429.82425" width="2.8000000000000114" height="2.7999999999999545" fill="#eee" stroke="#000" stroke-width="1.2"/>
<rect x="194.60000000000002" y="383.27325" width="3.3999999999999773" height="3.3999999999999773" fill="#eee" stroke="#000" stroke-width="1.2"/>
<path d="M103 406.627L104.9 408.527L103 410.42699999999996L101.1 408.527Z" fill="#000" stroke="#000" stroke-width="0.9" />
<path d="M196.3 399.50325000000004L198.9 402.10325L196.3 404.70324999999997L193.70000000000002 402.10325Z" fill="#555" stroke="#000" stroke-width="1.1" />
<path d="M103 415.192L104.9 417.092L103 418.99199999999996L101.1 417.092Z" fill="#000" stroke="#000" stroke-width="0.9" />
<path d="M196.3 399.9315L198.9 402.5315L196.3 405.13149999999996L193.70000000000002 402.5315Z" fill="#555" stroke="#000" stroke-width="1.1" />
<circle cx="103" cy="423.0875" r="1.0" fill="#000"/>
<path d="M196.3 402.07275000000004L198.9 404.67275L196.3 407.27275L193.70000000000002 404.67275Z" fill="#555" stroke="#000" stroke-width="1.1" />
<path d="M103 410.68125000000003L104.7 412.38125L103 414.08125L101.3 412.38125Z" fill="#000" stroke="#000" stroke-width="0.9" />
<path d="M332 340 L333 322 L334.5 314 L336 312 L337 290 L338 284.5 L339.5 291 L340.5 286 L342 266 L343 268 L344.5 290 L346 305 L348 322 L350 332 L352 336 L355 340Z" fill="#999" stroke="#999" stroke-width="0.3" />
<path d="M331.3 339.6 L345 339.3 L347.5 337 L350 332.5 L351 328 L352 327.5 L353.5 321 L355 312.5 L356 311.5 L357.3 303 L358 299.5 L359 303 L360 305.5 L361 299 L362 290 L362.8 283 L363.3 281 L364 273 L365 268 L365.5 266 L366.3 270 L367 280 L367.6 284 L368 290 L369 299 L369.8 303 L370.3 308.5 L371 313 L372 322 L372.6 326.5 L373.4 327.5 L374.5 334 L376 338.4 L378 339.5 L410 339.6" fill="none" stroke="#000" stroke-width="1.25" stroke-linejoin="round"/>
<line x1="331.3" y1="261.7" x2="410.4" y2="261.7" stroke="#222" stroke-width="0.9"/>
<line x1="410.4" y1="261.7" x2="410.4" y2="340" stroke="#222" stroke-width="1.0"/>
<line x1="331.3" y1="261.3" x2="331.3" y2="340.6" stroke="#111" stroke-width="1.15"/>
<line x1="330.7" y1="340" x2="410.9" y2="340" stroke="#111" stroke-width="1.4"/>
<path d="M331.80 340.3v2.2M337.68 340.3v1.2M341.12 340.3v1.2M343.56 340.3v1.2M345.45 340.3v1.2M346.99 340.3v1.2M348.30 340.3v1.2M349.43 340.3v1.2M350.43 340.3v1.2M351.32 340.3v2.2M357.20 340.3v1.2M360.64 340.3v1.2M363.08 340.3v1.2M364.97 340.3v1.2M366.52 340.3v1.2M367.83 340.3v1.2M368.96 340.3v1.2M369.96 340.3v1.2M370.85 340.3v2.2M376.73 340.3v1.2M380.17 340.3v1.2M382.61 340.3v1.2M384.50 340.3v1.2M386.04 340.3v1.2M387.35 340.3v1.2M388.48 340.3v1.2M389.48 340.3v1.2M390.38 340.3v2.2M396.25 340.3v1.2M399.69 340.3v1.2M402.13 340.3v1.2M404.02 340.3v1.2M405.57 340.3v1.2M406.88 340.3v1.2M408.01 340.3v1.2M409.01 340.3v1.2M409.90 340.3v2.2" fill="none" stroke="#222" stroke-width="0.5" />
<text x="329.6" y="347.6" font-size="3.6" fill="#666">10<tspan dy="-1.4" font-size="2.6">0</tspan></text>
<text x="349.1" y="347.6" font-size="3.6" fill="#666">10<tspan dy="-1.4" font-size="2.6">1</tspan></text>
<text x="368.7" y="347.6" font-size="3.6" fill="#666">10<tspan dy="-1.4" font-size="2.6">2</tspan></text>
<text x="388.2" y="347.6" font-size="3.6" fill="#666">10<tspan dy="-1.4" font-size="2.6">3</tspan></text>
<text x="407.7" y="347.6" font-size="3.6" fill="#666">10<tspan dy="-1.4" font-size="2.6">4</tspan></text>
<path d="M331.3 339.50h-2.4M331.3 336.54h-1.2M331.3 333.59h-1.2M331.3 330.63h-1.2M331.3 327.68h-1.2M331.3 324.72h-2.4M331.3 321.76h-1.2M331.3 318.81h-1.2M331.3 315.85h-1.2M331.3 312.90h-1.2M331.3 309.94h-2.4M331.3 306.98h-1.2M331.3 304.03h-1.2M331.3 301.07h-1.2M331.3 298.12h-1.2M331.3 295.16h-2.4M331.3 292.20h-1.2M331.3 289.25h-1.2M331.3 286.29h-1.2M331.3 283.34h-1.2M331.3 280.38h-2.4M331.3 277.42h-1.2M331.3 274.47h-1.2M331.3 271.51h-1.2M331.3 268.56h-1.2M331.3 265.60h-2.4" fill="none" stroke="#222" stroke-width="0.6" />
<text x="328.1" y="340.6" font-size="3.2" text-anchor="end" fill="#666" >0</text>
<text x="328.1" y="325.8" font-size="3.2" text-anchor="end" fill="#666" >20</text>
<text x="328.1" y="311.0" font-size="3.2" text-anchor="end" fill="#666" >40</text>
<text x="328.1" y="296.3" font-size="3.2" text-anchor="end" fill="#666" >60</text>
<text x="328.1" y="281.5" font-size="3.2" text-anchor="end" fill="#666" >80</text>
<text x="328.1" y="266.7" font-size="3.2" text-anchor="end" fill="#666" >100</text>
<path d="M439 340 L440 322 L441 314 L443 311 L444 290 L445 284 L446.5 290 L447.5 284 L449 266 L450 270 L451.5 295 L453 315 L455 334 L456.5 334 L457.5 332 L459 335 L461 339 L462.5 340Z" fill="#999" stroke="#999" stroke-width="0.3" />
<path d="M438.6 339.6 L445.6 339.4 L446.6 331 L447.3 322.6 L448.9 306 L450 300 L451 295.6 L452.7 287.3 L453.7 272.7 L454.6 266.8 L456.8 266.6 L457.6 272 L458.3 281 L459.1 293 L459.8 303.9 L460.6 310 L461.4 315.3 L462.3 321 L463.1 325.7 L463.9 334 L465.2 335.4 L466.6 336.1 L467.6 337.6 L468.7 338.8 L470 339.6 L517.5 339.6" fill="none" stroke="#000" stroke-width="1.25" stroke-linejoin="round"/>
<line x1="438.6" y1="261.7" x2="518" y2="261.7" stroke="#222" stroke-width="0.9"/>
<line x1="518" y1="261.7" x2="518" y2="340" stroke="#222" stroke-width="1.0"/>
<line x1="438.6" y1="261.3" x2="438.6" y2="340.6" stroke="#111" stroke-width="1.15"/>
<line x1="438.0" y1="340" x2="518.5" y2="340" stroke="#111" stroke-width="1.4"/>
<path d="M439.10 340.3v2.2M445.00 340.3v1.2M448.45 340.3v1.2M450.90 340.3v1.2M452.80 340.3v1.2M454.35 340.3v1.2M455.66 340.3v1.2M456.80 340.3v1.2M457.80 340.3v1.2M458.70 340.3v2.2M464.60 340.3v1.2M468.05 340.3v1.2M470.50 340.3v1.2M472.40 340.3v1.2M473.95 340.3v1.2M475.26 340.3v1.2M476.40 340.3v1.2M477.40 340.3v1.2M478.30 340.3v2.2M484.20 340.3v1.2M487.65 340.3v1.2M490.10 340.3v1.2M492.00 340.3v1.2M493.55 340.3v1.2M494.86 340.3v1.2M496.00 340.3v1.2M497.00 340.3v1.2M497.90 340.3v2.2M503.80 340.3v1.2M507.25 340.3v1.2M509.70 340.3v1.2M511.60 340.3v1.2M513.15 340.3v1.2M514.46 340.3v1.2M515.60 340.3v1.2M516.60 340.3v1.2M517.50 340.3v2.2" fill="none" stroke="#222" stroke-width="0.5" />
<text x="436.9" y="347.6" font-size="3.6" fill="#666">10<tspan dy="-1.4" font-size="2.6">0</tspan></text>
<text x="456.5" y="347.6" font-size="3.6" fill="#666">10<tspan dy="-1.4" font-size="2.6">1</tspan></text>
<text x="476.1" y="347.6" font-size="3.6" fill="#666">10<tspan dy="-1.4" font-size="2.6">2</tspan></text>
<text x="495.7" y="347.6" font-size="3.6" fill="#666">10<tspan dy="-1.4" font-size="2.6">3</tspan></text>
<text x="515.3" y="347.6" font-size="3.6" fill="#666">10<tspan dy="-1.4" font-size="2.6">4</tspan></text>
<path d="M438.6 339.50h-2.4M438.6 336.54h-1.2M438.6 333.59h-1.2M438.6 330.63h-1.2M438.6 327.68h-1.2M438.6 324.72h-2.4M438.6 321.76h-1.2M438.6 318.81h-1.2M438.6 315.85h-1.2M438.6 312.90h-1.2M438.6 309.94h-2.4M438.6 306.98h-1.2M438.6 304.03h-1.2M438.6 301.07h-1.2M438.6 298.12h-1.2M438.6 295.16h-2.4M438.6 292.20h-1.2M438.6 289.25h-1.2M438.6 286.29h-1.2M438.6 283.34h-1.2M438.6 280.38h-2.4M438.6 277.42h-1.2M438.6 274.47h-1.2M438.6 271.51h-1.2M438.6 268.56h-1.2M438.6 265.60h-2.4" fill="none" stroke="#222" stroke-width="0.6" />
<text x="435.40000000000003" y="340.6" font-size="3.2" text-anchor="end" fill="#666" >0</text>
<text x="435.40000000000003" y="325.8" font-size="3.2" text-anchor="end" fill="#666" >20</text>
<text x="435.40000000000003" y="311.0" font-size="3.2" text-anchor="end" fill="#666" >40</text>
<text x="435.40000000000003" y="296.3" font-size="3.2" text-anchor="end" fill="#666" >60</text>
<text x="435.40000000000003" y="281.5" font-size="3.2" text-anchor="end" fill="#666" >80</text>
<text x="435.40000000000003" y="266.7" font-size="3.2" text-anchor="end" fill="#666" >100</text>
<path d="M332 435.8 L333 425 L334.5 415 L335.6 398.5 L337 397 L338.5 390 L340 372 L341.8 361.5 L343.3 366 L345 385 L347 410 L349 425 L351 431 L353 431 L354.5 433 L356 435.8Z" fill="#999" stroke="#999" stroke-width="0.3" />
<path d="M331.3 435.4 L342.5 435.2 L344 425 L346 405 L347.5 396 L348.5 385 L349.5 370 L350.5 361.5 L351.3 366 L352.3 372 L353.2 379 L354 368 L354.8 366 L355.9 370.5 L356.6 364 L357.5 361.5 L358.3 368 L359 380 L359.6 389.5 L360.4 386 L361.2 381 L361.9 380 L362.6 387 L363.3 399 L363.9 404.5 L364.8 404 L365.6 408 L366.5 415 L367.5 422 L369 429 L370 433 L372 434.2 L373.5 433.6 L375 435 L410 435.4" fill="none" stroke="#000" stroke-width="1.25" stroke-linejoin="round"/>
<line x1="331.3" y1="357.7" x2="410.4" y2="357.7" stroke="#222" stroke-width="0.9"/>
<line x1="410.4" y1="357.7" x2="410.4" y2="435.8" stroke="#222" stroke-width="1.0"/>
<line x1="331.3" y1="357.3" x2="331.3" y2="436.40000000000003" stroke="#111" stroke-width="1.15"/>
<line x1="330.7" y1="435.8" x2="410.9" y2="435.8" stroke="#111" stroke-width="1.4"/>
<path d="M331.80 436.1v2.2M337.68 436.1v1.2M341.12 436.1v1.2M343.56 436.1v1.2M345.45 436.1v1.2M346.99 436.1v1.2M348.30 436.1v1.2M349.43 436.1v1.2M350.43 436.1v1.2M351.32 436.1v2.2M357.20 436.1v1.2M360.64 436.1v1.2M363.08 436.1v1.2M364.97 436.1v1.2M366.52 436.1v1.2M367.83 436.1v1.2M368.96 436.1v1.2M369.96 436.1v1.2M370.85 436.1v2.2M376.73 436.1v1.2M380.17 436.1v1.2M382.61 436.1v1.2M384.50 436.1v1.2M386.04 436.1v1.2M387.35 436.1v1.2M388.48 436.1v1.2M389.48 436.1v1.2M390.38 436.1v2.2M396.25 436.1v1.2M399.69 436.1v1.2M402.13 436.1v1.2M404.02 436.1v1.2M405.57 436.1v1.2M406.88 436.1v1.2M408.01 436.1v1.2M409.01 436.1v1.2M409.90 436.1v2.2" fill="none" stroke="#222" stroke-width="0.5" />
<text x="329.6" y="443.40000000000003" font-size="3.6" fill="#666">10<tspan dy="-1.4" font-size="2.6">0</tspan></text>
<text x="349.1" y="443.40000000000003" font-size="3.6" fill="#666">10<tspan dy="-1.4" font-size="2.6">1</tspan></text>
<text x="368.7" y="443.40000000000003" font-size="3.6" fill="#666">10<tspan dy="-1.4" font-size="2.6">2</tspan></text>
<text x="388.2" y="443.40000000000003" font-size="3.6" fill="#666">10<tspan dy="-1.4" font-size="2.6">3</tspan></text>
<text x="407.7" y="443.40000000000003" font-size="3.6" fill="#666">10<tspan dy="-1.4" font-size="2.6">4</tspan></text>
<path d="M331.3 435.30h-2.4M331.3 432.35h-1.2M331.3 429.40h-1.2M331.3 426.46h-1.2M331.3 423.51h-1.2M331.3 420.56h-2.4M331.3 417.61h-1.2M331.3 414.66h-1.2M331.3 411.72h-1.2M331.3 408.77h-1.2M331.3 405.82h-2.4M331.3 402.87h-1.2M331.3 399.92h-1.2M331.3 396.98h-1.2M331.3 394.03h-1.2M331.3 391.08h-2.4M331.3 388.13h-1.2M331.3 385.18h-1.2M331.3 382.24h-1.2M331.3 379.29h-1.2M331.3 376.34h-2.4M331.3 373.39h-1.2M331.3 370.44h-1.2M331.3 367.50h-1.2M331.3 364.55h-1.2M331.3 361.60h-2.4" fill="none" stroke="#222" stroke-width="0.6" />
<text x="328.1" y="436.4" font-size="3.2" text-anchor="end" fill="#666" >0</text>
<text x="328.1" y="421.7" font-size="3.2" text-anchor="end" fill="#666" >20</text>
<text x="328.1" y="406.9" font-size="3.2" text-anchor="end" fill="#666" >40</text>
<text x="328.1" y="392.2" font-size="3.2" text-anchor="end" fill="#666" >60</text>
<text x="328.1" y="377.4" font-size="3.2" text-anchor="end" fill="#666" >80</text>
<text x="328.1" y="362.7" font-size="3.2" text-anchor="end" fill="#666" >100</text>
<path d="M439 435.8 L439.6 429 L441.5 412 L443 399 L444 397.5 L445.5 385 L447 370 L449 361.5 L450.5 368 L452 395 L453.5 418 L455.5 428 L458 431 L461 433 L463 434 L465 435.8Z" fill="#999" stroke="#999" stroke-width="0.3" />
<path d="M438.6 435.4 L445.5 435.2 L446.5 428 L447.5 420 L448.8 417 L450 406 L451.2 397 L452.5 383 L453.5 370 L454.5 361.5 L455.3 367 L455.8 364.5 L456.5 369.5 L457.2 367.5 L458 378 L459 395 L460 407 L461 414 L462.5 419.5 L463.8 425 L465 429.5 L466.5 433 L468.8 435 L472 435.3 L517.5 435.4" fill="none" stroke="#000" stroke-width="1.25" stroke-linejoin="round"/>
<line x1="438.6" y1="357.7" x2="518" y2="357.7" stroke="#222" stroke-width="0.9"/>
<line x1="518" y1="357.7" x2="518" y2="435.8" stroke="#222" stroke-width="1.0"/>
<line x1="438.6" y1="357.3" x2="438.6" y2="436.40000000000003" stroke="#111" stroke-width="1.15"/>
<line x1="438.0" y1="435.8" x2="518.5" y2="435.8" stroke="#111" stroke-width="1.4"/>
<path d="M439.10 436.1v2.2M445.00 436.1v1.2M448.45 436.1v1.2M450.90 436.1v1.2M452.80 436.1v1.2M454.35 436.1v1.2M455.66 436.1v1.2M456.80 436.1v1.2M457.80 436.1v1.2M458.70 436.1v2.2M464.60 436.1v1.2M468.05 436.1v1.2M470.50 436.1v1.2M472.40 436.1v1.2M473.95 436.1v1.2M475.26 436.1v1.2M476.40 436.1v1.2M477.40 436.1v1.2M478.30 436.1v2.2M484.20 436.1v1.2M487.65 436.1v1.2M490.10 436.1v1.2M492.00 436.1v1.2M493.55 436.1v1.2M494.86 436.1v1.2M496.00 436.1v1.2M497.00 436.1v1.2M497.90 436.1v2.2M503.80 436.1v1.2M507.25 436.1v1.2M509.70 436.1v1.2M511.60 436.1v1.2M513.15 436.1v1.2M514.46 436.1v1.2M515.60 436.1v1.2M516.60 436.1v1.2M517.50 436.1v2.2" fill="none" stroke="#222" stroke-width="0.5" />
<text x="436.9" y="443.40000000000003" font-size="3.6" fill="#666">10<tspan dy="-1.4" font-size="2.6">0</tspan></text>
<text x="456.5" y="443.40000000000003" font-size="3.6" fill="#666">10<tspan dy="-1.4" font-size="2.6">1</tspan></text>
<text x="476.1" y="443.40000000000003" font-size="3.6" fill="#666">10<tspan dy="-1.4" font-size="2.6">2</tspan></text>
<text x="495.7" y="443.40000000000003" font-size="3.6" fill="#666">10<tspan dy="-1.4" font-size="2.6">3</tspan></text>
<text x="515.3" y="443.40000000000003" font-size="3.6" fill="#666">10<tspan dy="-1.4" font-size="2.6">4</tspan></text>
<path d="M438.6 435.30h-2.4M438.6 432.35h-1.2M438.6 429.40h-1.2M438.6 426.46h-1.2M438.6 423.51h-1.2M438.6 420.56h-2.4M438.6 417.61h-1.2M438.6 414.66h-1.2M438.6 411.72h-1.2M438.6 408.77h-1.2M438.6 405.82h-2.4M438.6 402.87h-1.2M438.6 399.92h-1.2M438.6 396.98h-1.2M438.6 394.03h-1.2M438.6 391.08h-2.4M438.6 388.13h-1.2M438.6 385.18h-1.2M438.6 382.24h-1.2M438.6 379.29h-1.2M438.6 376.34h-2.4M438.6 373.39h-1.2M438.6 370.44h-1.2M438.6 367.50h-1.2M438.6 364.55h-1.2M438.6 361.60h-2.4" fill="none" stroke="#222" stroke-width="0.6" />
<text x="435.40000000000003" y="436.4" font-size="3.2" text-anchor="end" fill="#666" >0</text>
<text x="435.40000000000003" y="421.7" font-size="3.2" text-anchor="end" fill="#666" >20</text>
<text x="435.40000000000003" y="406.9" font-size="3.2" text-anchor="end" fill="#666" >40</text>
<text x="435.40000000000003" y="392.2" font-size="3.2" text-anchor="end" fill="#666" >60</text>
<text x="435.40000000000003" y="377.4" font-size="3.2" text-anchor="end" fill="#666" >80</text>
<text x="435.40000000000003" y="362.7" font-size="3.2" text-anchor="end" fill="#666" >100</text>
<line x1="319.9" y1="261.2" x2="319.9" y2="436" stroke="#111" stroke-width="1"/>
<line x1="330.6" y1="447.3" x2="410.2" y2="447.3" stroke="#111" stroke-width="1"/>
<line x1="437.8" y1="447.3" x2="517" y2="447.3" stroke="#111" stroke-width="1"/>
<text x="273.4" y="302.2" font-size="8.0" stroke="#1a1a1a" stroke-width="0.08" text-anchor="start" fill="#1a1a1a" >Baseline</text>
<text x="275.0" y="399.3" font-size="8.0" stroke="#1a1a1a" stroke-width="0.08" text-anchor="start" fill="#1a1a1a" >Week 4</text>
<text x="315" y="350.7" font-size="8.8" stroke="#1a1a1a" stroke-width="0.2" text-anchor="middle" fill="#1a1a1a" transform="rotate(-90 315 350.7)" >Relative Frequency</text>
<text x="370.7" y="457.6" font-size="9.4" stroke="#1a1a1a" stroke-width="0.2" text-anchor="middle" fill="#1a1a1a" >Bcl-2</text>
<text x="478.5" y="457.7" font-size="9.4" stroke="#1a1a1a" stroke-width="0.2" text-anchor="middle" fill="#1a1a1a" >Bcl-xl</text>
</svg>
</body></html>
